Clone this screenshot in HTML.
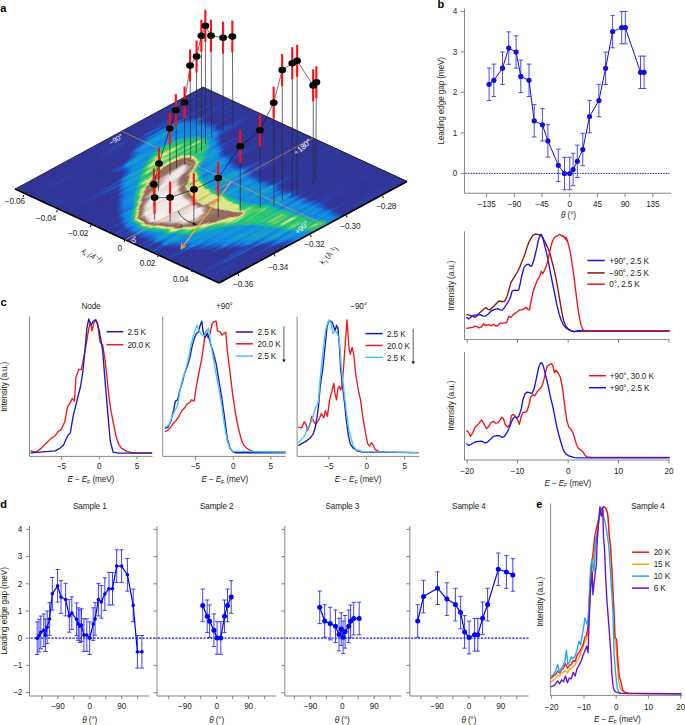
<!DOCTYPE html>
<html><head><meta charset="utf-8"><title>Figure</title><style>
html,body{margin:0;padding:0;background:#fff;}
svg{display:block;font-family:"Liberation Sans",sans-serif;} text{letter-spacing:-0.12px;}
</style></head><body>
<svg width="685" height="725" viewBox="0 0 685 725">
<text x="437.6" y="7.9" font-size="11" font-weight="bold" fill="#000">b</text>
<line x1="464.5" y1="8.5" x2="464.5" y2="193.2" stroke="#6a6a6a" stroke-width="0.8" />
<line x1="464.5" y1="193.2" x2="670.8" y2="193.2" stroke="#6a6a6a" stroke-width="0.8" />
<line x1="460.7" y1="173.4" x2="464.5" y2="173.4" stroke="#6a6a6a" stroke-width="0.8" />
<text x="457.1" y="176.2" text-anchor="end" font-size="8.2" fill="#231f20" >0</text>
<line x1="460.7" y1="132.9" x2="464.5" y2="132.9" stroke="#6a6a6a" stroke-width="0.8" />
<text x="457.1" y="135.7" text-anchor="end" font-size="8.2" fill="#231f20" >1</text>
<line x1="460.7" y1="92.4" x2="464.5" y2="92.4" stroke="#6a6a6a" stroke-width="0.8" />
<text x="457.1" y="95.2" text-anchor="end" font-size="8.2" fill="#231f20" >2</text>
<line x1="460.7" y1="51.9" x2="464.5" y2="51.9" stroke="#6a6a6a" stroke-width="0.8" />
<text x="457.1" y="54.7" text-anchor="end" font-size="8.2" fill="#231f20" >3</text>
<line x1="460.7" y1="11.4" x2="464.5" y2="11.4" stroke="#6a6a6a" stroke-width="0.8" />
<text x="457.1" y="14.2" text-anchor="end" font-size="8.2" fill="#231f20" >4</text>
<line x1="486.6" y1="193.2" x2="486.6" y2="197.0" stroke="#6a6a6a" stroke-width="0.8" />
<text x="486.6" y="207.0" text-anchor="middle" font-size="8.2" fill="#231f20" >−135</text>
<line x1="514.3" y1="193.2" x2="514.3" y2="197.0" stroke="#6a6a6a" stroke-width="0.8" />
<text x="514.3" y="207.0" text-anchor="middle" font-size="8.2" fill="#231f20" >−90</text>
<line x1="542.0" y1="193.2" x2="542.0" y2="197.0" stroke="#6a6a6a" stroke-width="0.8" />
<text x="542.0" y="207.0" text-anchor="middle" font-size="8.2" fill="#231f20" >−45</text>
<line x1="569.7" y1="193.2" x2="569.7" y2="197.0" stroke="#6a6a6a" stroke-width="0.8" />
<text x="569.7" y="207.0" text-anchor="middle" font-size="8.2" fill="#231f20" >0</text>
<line x1="597.4" y1="193.2" x2="597.4" y2="197.0" stroke="#6a6a6a" stroke-width="0.8" />
<text x="597.4" y="207.0" text-anchor="middle" font-size="8.2" fill="#231f20" >45</text>
<line x1="625.1" y1="193.2" x2="625.1" y2="197.0" stroke="#6a6a6a" stroke-width="0.8" />
<text x="625.1" y="207.0" text-anchor="middle" font-size="8.2" fill="#231f20" >90</text>
<line x1="652.8" y1="193.2" x2="652.8" y2="197.0" stroke="#6a6a6a" stroke-width="0.8" />
<text x="652.8" y="207.0" text-anchor="middle" font-size="8.2" fill="#231f20" >135</text>
<text x="568.5" y="218.3" text-anchor="middle" font-size="8.2" fill="#231f20"><tspan font-style="italic">θ</tspan> (°)</text>
<text x="444.5" y="100.8" text-anchor="middle" font-size="8.2" fill="#231f20" transform="rotate(-90 444.5 100.8)">Leading edge gap (meV)</text>
<line x1="465.5" y1="173.4" x2="669.5" y2="173.4" stroke="#1414ff" stroke-width="1.0" stroke-dasharray="1.5 1.1"/>
<line x1="489.1" y1="68.1" x2="489.1" y2="100.5" stroke="#3a3ae0" stroke-width="0.9" />
<line x1="486.8" y1="68.1" x2="491.4" y2="68.1" stroke="#3a3ae0" stroke-width="0.9" />
<line x1="486.8" y1="100.5" x2="491.4" y2="100.5" stroke="#3a3ae0" stroke-width="0.9" />
<line x1="493.8" y1="64.1" x2="493.8" y2="96.5" stroke="#3a3ae0" stroke-width="0.9" />
<line x1="491.5" y1="64.1" x2="496.1" y2="64.1" stroke="#3a3ae0" stroke-width="0.9" />
<line x1="491.5" y1="96.5" x2="496.1" y2="96.5" stroke="#3a3ae0" stroke-width="0.9" />
<line x1="502.5" y1="52.0" x2="502.5" y2="84.4" stroke="#3a3ae0" stroke-width="0.9" />
<line x1="500.2" y1="52.0" x2="504.8" y2="52.0" stroke="#3a3ae0" stroke-width="0.9" />
<line x1="500.2" y1="84.4" x2="504.8" y2="84.4" stroke="#3a3ae0" stroke-width="0.9" />
<line x1="508.7" y1="31.9" x2="508.7" y2="64.3" stroke="#3a3ae0" stroke-width="0.9" />
<line x1="506.4" y1="31.9" x2="511.0" y2="31.9" stroke="#3a3ae0" stroke-width="0.9" />
<line x1="506.4" y1="64.3" x2="511.0" y2="64.3" stroke="#3a3ae0" stroke-width="0.9" />
<line x1="516.1" y1="35.8" x2="516.1" y2="68.2" stroke="#3a3ae0" stroke-width="0.9" />
<line x1="513.8" y1="35.8" x2="518.4" y2="35.8" stroke="#3a3ae0" stroke-width="0.9" />
<line x1="513.8" y1="68.2" x2="518.4" y2="68.2" stroke="#3a3ae0" stroke-width="0.9" />
<line x1="520.8" y1="60.2" x2="520.8" y2="92.6" stroke="#3a3ae0" stroke-width="0.9" />
<line x1="518.5" y1="60.2" x2="523.1" y2="60.2" stroke="#3a3ae0" stroke-width="0.9" />
<line x1="518.5" y1="92.6" x2="523.1" y2="92.6" stroke="#3a3ae0" stroke-width="0.9" />
<line x1="529.0" y1="64.1" x2="529.0" y2="96.5" stroke="#3a3ae0" stroke-width="0.9" />
<line x1="526.7" y1="64.1" x2="531.3" y2="64.1" stroke="#3a3ae0" stroke-width="0.9" />
<line x1="526.7" y1="96.5" x2="531.3" y2="96.5" stroke="#3a3ae0" stroke-width="0.9" />
<line x1="534.2" y1="104.6" x2="534.2" y2="137.0" stroke="#3a3ae0" stroke-width="0.9" />
<line x1="531.9" y1="104.6" x2="536.5" y2="104.6" stroke="#3a3ae0" stroke-width="0.9" />
<line x1="531.9" y1="137.0" x2="536.5" y2="137.0" stroke="#3a3ae0" stroke-width="0.9" />
<line x1="542.4" y1="108.6" x2="542.4" y2="141.0" stroke="#3a3ae0" stroke-width="0.9" />
<line x1="540.1" y1="108.6" x2="544.7" y2="108.6" stroke="#3a3ae0" stroke-width="0.9" />
<line x1="540.1" y1="141.0" x2="544.7" y2="141.0" stroke="#3a3ae0" stroke-width="0.9" />
<line x1="547.9" y1="124.7" x2="547.9" y2="157.1" stroke="#3a3ae0" stroke-width="0.9" />
<line x1="545.6" y1="124.7" x2="550.2" y2="124.7" stroke="#3a3ae0" stroke-width="0.9" />
<line x1="545.6" y1="157.1" x2="550.2" y2="157.1" stroke="#3a3ae0" stroke-width="0.9" />
<line x1="558.3" y1="149.1" x2="558.3" y2="181.5" stroke="#3a3ae0" stroke-width="0.9" />
<line x1="556.0" y1="149.1" x2="560.6" y2="149.1" stroke="#3a3ae0" stroke-width="0.9" />
<line x1="556.0" y1="181.5" x2="560.6" y2="181.5" stroke="#3a3ae0" stroke-width="0.9" />
<line x1="564.5" y1="157.3" x2="564.5" y2="189.7" stroke="#3a3ae0" stroke-width="0.9" />
<line x1="562.2" y1="157.3" x2="566.8" y2="157.3" stroke="#3a3ae0" stroke-width="0.9" />
<line x1="562.2" y1="189.7" x2="566.8" y2="189.7" stroke="#3a3ae0" stroke-width="0.9" />
<line x1="569.7" y1="157.3" x2="569.7" y2="189.7" stroke="#3a3ae0" stroke-width="0.9" />
<line x1="567.4" y1="157.3" x2="572.0" y2="157.3" stroke="#3a3ae0" stroke-width="0.9" />
<line x1="567.4" y1="189.7" x2="572.0" y2="189.7" stroke="#3a3ae0" stroke-width="0.9" />
<line x1="573.1" y1="153.3" x2="573.1" y2="185.7" stroke="#3a3ae0" stroke-width="0.9" />
<line x1="570.8" y1="153.3" x2="575.4" y2="153.3" stroke="#3a3ae0" stroke-width="0.9" />
<line x1="570.8" y1="185.7" x2="575.4" y2="185.7" stroke="#3a3ae0" stroke-width="0.9" />
<line x1="577.3" y1="145.1" x2="577.3" y2="177.5" stroke="#3a3ae0" stroke-width="0.9" />
<line x1="575.0" y1="145.1" x2="579.6" y2="145.1" stroke="#3a3ae0" stroke-width="0.9" />
<line x1="575.0" y1="177.5" x2="579.6" y2="177.5" stroke="#3a3ae0" stroke-width="0.9" />
<line x1="582.8" y1="133.3" x2="582.8" y2="165.7" stroke="#3a3ae0" stroke-width="0.9" />
<line x1="580.5" y1="133.3" x2="585.1" y2="133.3" stroke="#3a3ae0" stroke-width="0.9" />
<line x1="580.5" y1="165.7" x2="585.1" y2="165.7" stroke="#3a3ae0" stroke-width="0.9" />
<line x1="589.5" y1="100.4" x2="589.5" y2="132.8" stroke="#3a3ae0" stroke-width="0.9" />
<line x1="587.2" y1="100.4" x2="591.8" y2="100.4" stroke="#3a3ae0" stroke-width="0.9" />
<line x1="587.2" y1="132.8" x2="591.8" y2="132.8" stroke="#3a3ae0" stroke-width="0.9" />
<line x1="598.9" y1="84.3" x2="598.9" y2="116.7" stroke="#3a3ae0" stroke-width="0.9" />
<line x1="596.6" y1="84.3" x2="601.2" y2="84.3" stroke="#3a3ae0" stroke-width="0.9" />
<line x1="596.6" y1="116.7" x2="601.2" y2="116.7" stroke="#3a3ae0" stroke-width="0.9" />
<line x1="605.6" y1="52.1" x2="605.6" y2="84.5" stroke="#3a3ae0" stroke-width="0.9" />
<line x1="603.3" y1="52.1" x2="607.9" y2="52.1" stroke="#3a3ae0" stroke-width="0.9" />
<line x1="603.3" y1="84.5" x2="607.9" y2="84.5" stroke="#3a3ae0" stroke-width="0.9" />
<line x1="612.6" y1="15.4" x2="612.6" y2="47.8" stroke="#3a3ae0" stroke-width="0.9" />
<line x1="610.3" y1="15.4" x2="614.9" y2="15.4" stroke="#3a3ae0" stroke-width="0.9" />
<line x1="610.3" y1="47.8" x2="614.9" y2="47.8" stroke="#3a3ae0" stroke-width="0.9" />
<line x1="621.7" y1="11.4" x2="621.7" y2="43.8" stroke="#3a3ae0" stroke-width="0.9" />
<line x1="619.4" y1="11.4" x2="624.0" y2="11.4" stroke="#3a3ae0" stroke-width="0.9" />
<line x1="619.4" y1="43.8" x2="624.0" y2="43.8" stroke="#3a3ae0" stroke-width="0.9" />
<line x1="625.3" y1="11.4" x2="625.3" y2="43.8" stroke="#3a3ae0" stroke-width="0.9" />
<line x1="623.0" y1="11.4" x2="627.6" y2="11.4" stroke="#3a3ae0" stroke-width="0.9" />
<line x1="623.0" y1="43.8" x2="627.6" y2="43.8" stroke="#3a3ae0" stroke-width="0.9" />
<line x1="640.5" y1="56.1" x2="640.5" y2="88.5" stroke="#3a3ae0" stroke-width="0.9" />
<line x1="638.2" y1="56.1" x2="642.8" y2="56.1" stroke="#3a3ae0" stroke-width="0.9" />
<line x1="638.2" y1="88.5" x2="642.8" y2="88.5" stroke="#3a3ae0" stroke-width="0.9" />
<line x1="644.1" y1="56.1" x2="644.1" y2="88.5" stroke="#3a3ae0" stroke-width="0.9" />
<line x1="641.8" y1="56.1" x2="646.4" y2="56.1" stroke="#3a3ae0" stroke-width="0.9" />
<line x1="641.8" y1="88.5" x2="646.4" y2="88.5" stroke="#3a3ae0" stroke-width="0.9" />
<polyline points="489.1,84.3 493.8,80.3 502.5,68.2 508.7,48.1 516.1,52.0 520.8,76.4 529.0,80.3 534.2,120.8 542.4,124.8 547.9,140.9 558.3,165.3 564.5,173.5 569.7,173.5 573.1,169.5 577.3,161.3 582.8,149.5 589.5,116.6 598.9,100.5 605.6,68.3 612.6,31.6 621.7,27.6 625.3,27.6 640.5,72.3 644.1,72.3" fill="none" stroke="#1010d8" stroke-width="1.0" stroke-linejoin="round" stroke-linecap="round" />
<circle cx="489.1" cy="84.3" r="2.6" fill="#1010d8"/>
<circle cx="493.8" cy="80.3" r="2.6" fill="#1010d8"/>
<circle cx="502.5" cy="68.2" r="2.6" fill="#1010d8"/>
<circle cx="508.7" cy="48.1" r="2.6" fill="#1010d8"/>
<circle cx="516.1" cy="52.0" r="2.6" fill="#1010d8"/>
<circle cx="520.8" cy="76.4" r="2.6" fill="#1010d8"/>
<circle cx="529.0" cy="80.3" r="2.6" fill="#1010d8"/>
<circle cx="534.2" cy="120.8" r="2.6" fill="#1010d8"/>
<circle cx="542.4" cy="124.8" r="2.6" fill="#1010d8"/>
<circle cx="547.9" cy="140.9" r="2.6" fill="#1010d8"/>
<circle cx="558.3" cy="165.3" r="2.6" fill="#1010d8"/>
<circle cx="564.5" cy="173.5" r="2.6" fill="#1010d8"/>
<circle cx="569.7" cy="173.5" r="2.6" fill="#1010d8"/>
<circle cx="573.1" cy="169.5" r="2.6" fill="#1010d8"/>
<circle cx="577.3" cy="161.3" r="2.6" fill="#1010d8"/>
<circle cx="582.8" cy="149.5" r="2.6" fill="#1010d8"/>
<circle cx="589.5" cy="116.6" r="2.6" fill="#1010d8"/>
<circle cx="598.9" cy="100.5" r="2.6" fill="#1010d8"/>
<circle cx="605.6" cy="68.3" r="2.6" fill="#1010d8"/>
<circle cx="612.6" cy="31.6" r="2.6" fill="#1010d8"/>
<circle cx="621.7" cy="27.6" r="2.6" fill="#1010d8"/>
<circle cx="625.3" cy="27.6" r="2.6" fill="#1010d8"/>
<circle cx="640.5" cy="72.3" r="2.6" fill="#1010d8"/>
<circle cx="644.1" cy="72.3" r="2.6" fill="#1010d8"/>
<line x1="464.5" y1="231.3" x2="464.5" y2="339.4" stroke="#6a6a6a" stroke-width="0.8" />
<line x1="464.5" y1="339.4" x2="669.5" y2="339.4" stroke="#6a6a6a" stroke-width="0.8" />
<line x1="467.2" y1="339.4" x2="467.2" y2="342.7" stroke="#6a6a6a" stroke-width="0.8" />
<line x1="517.5" y1="339.4" x2="517.5" y2="342.7" stroke="#6a6a6a" stroke-width="0.8" />
<line x1="568.2" y1="339.4" x2="568.2" y2="342.7" stroke="#6a6a6a" stroke-width="0.8" />
<line x1="618.5" y1="339.4" x2="618.5" y2="342.7" stroke="#6a6a6a" stroke-width="0.8" />
<line x1="668.9" y1="339.4" x2="668.9" y2="342.7" stroke="#6a6a6a" stroke-width="0.8" />
<text x="454.0" y="285.5" text-anchor="middle" font-size="8.2" fill="#231f20" transform="rotate(-90 454.0 285.5)">Intensity (a.u.)</text>
<line x1="464.5" y1="352.0" x2="464.5" y2="460.0" stroke="#6a6a6a" stroke-width="0.8" />
<line x1="464.5" y1="460.0" x2="669.5" y2="460.0" stroke="#6a6a6a" stroke-width="0.8" />
<line x1="467.2" y1="460.0" x2="467.2" y2="463.3" stroke="#6a6a6a" stroke-width="0.8" />
<text x="467.2" y="473.5" text-anchor="middle" font-size="8.2" fill="#231f20" >−20</text>
<line x1="517.5" y1="460.0" x2="517.5" y2="463.3" stroke="#6a6a6a" stroke-width="0.8" />
<text x="517.5" y="473.5" text-anchor="middle" font-size="8.2" fill="#231f20" >−10</text>
<line x1="568.2" y1="460.0" x2="568.2" y2="463.3" stroke="#6a6a6a" stroke-width="0.8" />
<text x="568.2" y="473.5" text-anchor="middle" font-size="8.2" fill="#231f20" >0</text>
<line x1="618.5" y1="460.0" x2="618.5" y2="463.3" stroke="#6a6a6a" stroke-width="0.8" />
<text x="618.5" y="473.5" text-anchor="middle" font-size="8.2" fill="#231f20" >10</text>
<line x1="668.9" y1="460.0" x2="668.9" y2="463.3" stroke="#6a6a6a" stroke-width="0.8" />
<text x="668.9" y="473.5" text-anchor="middle" font-size="8.2" fill="#231f20" >20</text>
<text x="454.0" y="405.7" text-anchor="middle" font-size="8.2" fill="#231f20" transform="rotate(-90 454.0 405.7)">Intensity (a.u.)</text>
<text x="567.8" y="485.5" text-anchor="middle" font-size="8.2" fill="#231f20"><tspan font-style="italic">E</tspan> − <tspan font-style="italic">E</tspan><tspan font-size="5.5" dy="1.8">F</tspan><tspan dy="-1.8"> (meV)</tspan></text>
<polyline points="466.8,314.6 469.4,315.2 472.7,316.3 474.9,317.4 477.1,315.9 479.3,313.1 482.6,310.2 485.8,307.6 488.0,309.3 490.2,309.8 492.4,307.6 495.7,304.3 499.0,301.0 501.2,301.5 504.4,301.5 506.6,297.7 508.8,290.1 511.0,282.4 514.3,276.9 517.6,271.5 519.8,267.1 522.0,261.6 524.2,256.1 526.3,249.6 528.5,243.0 530.7,238.6 532.9,235.3 535.1,234.2 537.3,234.2 539.5,234.9 541.7,236.4 543.9,239.7 546.0,244.1 548.2,248.5 550.4,255.0 552.6,263.8 554.8,272.6 557.0,283.5 559.2,296.6 561.4,309.8 563.6,320.7 565.8,326.2 569.0,329.5 572.3,331.2 574.5,331.7 577.4,331.0 669.0,331.0" fill="none" stroke="#8b1414" stroke-width="1.35" stroke-linejoin="round" stroke-linecap="round" />
<polyline points="466.8,317.4 468.3,319.0 470.5,317.4 473.8,315.2 477.1,314.8 480.4,314.6 482.6,315.9 485.2,316.3 488.0,314.2 491.3,310.9 494.6,309.3 497.9,308.7 500.1,309.8 502.3,310.2 504.4,307.6 506.6,304.3 508.8,301.0 510.6,296.6 512.1,291.2 514.3,290.1 516.5,290.5 518.7,290.1 520.2,283.5 522.0,274.7 524.2,267.1 526.3,264.9 528.5,264.2 530.3,266.0 531.8,266.0 533.4,261.6 535.1,255.0 536.9,247.4 538.4,239.7 539.9,235.3 541.2,234.2 542.8,237.5 544.3,244.1 546.0,250.7 548.2,260.5 550.4,272.6 552.6,283.5 554.8,294.4 557.0,305.4 559.2,314.2 561.4,320.7 563.6,325.1 565.8,327.7 570.1,330.6 574.5,331.7 577.4,331.0 669.0,331.0" fill="none" stroke="#1414f0" stroke-width="1.35" stroke-linejoin="round" stroke-linecap="round" />
<polyline points="466.8,328.4 469.4,327.9 472.7,327.3 474.9,326.2 477.1,326.6 479.3,327.9 481.5,326.9 483.6,323.6 485.2,325.5 486.9,325.1 489.1,324.7 491.3,325.8 493.5,324.4 495.7,326.0 497.9,325.5 500.1,322.9 502.3,323.4 504.4,322.9 506.6,322.5 507.7,319.6 508.8,316.3 511.0,317.4 513.2,314.6 515.4,313.1 517.6,311.5 519.8,309.8 522.0,309.8 524.2,308.7 526.3,307.1 528.1,309.8 529.6,309.8 530.7,303.2 532.9,292.3 535.1,285.7 537.3,280.2 539.5,276.9 541.2,271.5 542.8,273.6 545.0,269.3 547.1,263.8 549.3,253.9 551.5,244.1 553.7,238.6 555.9,236.4 558.1,235.3 559.6,234.2 561.4,235.8 563.1,236.4 564.7,237.1 566.2,237.5 567.9,241.9 562.7,235.5 564.6,237.3 566.4,238.2 568.2,243.7 570.0,251.0 571.9,262.0 573.7,274.7 575.5,289.3 577.3,303.9 579.2,316.7 581.0,324.9 582.8,329.5 584.1,330.9 669.1,330.9" fill="none" stroke="#f01418" stroke-width="1.35" stroke-linejoin="round" stroke-linecap="round" />
<line x1="587.4" y1="260.5" x2="604.7" y2="260.5" stroke="#1414f0" stroke-width="1.5" />
<text x="609.3" y="263.7" text-anchor="start" font-size="8.2" fill="#231f20" >+90°, 2.5 K</text>
<line x1="587.4" y1="272.9" x2="604.7" y2="272.9" stroke="#8b1414" stroke-width="1.5" />
<text x="609.3" y="276.1" text-anchor="start" font-size="8.2" fill="#231f20" >−90°, 2.5 K</text>
<line x1="587.4" y1="284.2" x2="604.7" y2="284.2" stroke="#f01418" stroke-width="1.5" />
<text x="609.3" y="287.4" text-anchor="start" font-size="8.2" fill="#231f20" >0°, 2.5 K</text>
<polyline points="466.8,430.9 468.3,432.0 470.5,436.3 472.7,433.1 474.9,427.6 478.2,424.3 481.5,419.9 483.6,423.2 486.5,428.7 488.7,426.5 491.3,422.1 493.5,421.5 495.7,423.2 497.9,422.8 500.1,419.9 501.8,417.1 503.4,418.8 505.5,425.4 507.7,427.1 509.9,424.3 511.5,415.5 513.2,414.4 515.4,416.2 517.6,419.9 519.3,424.3 521.5,415.5 523.1,412.3 525.2,412.3 527.0,411.2 529.0,404.6 530.7,396.9 532.9,394.7 535.1,395.8 537.3,391.5 539.5,389.3 541.7,386.4 543.4,381.6 545.0,375.0 547.1,366.3 549.3,364.5 551.5,363.6 553.1,366.3 554.4,372.8 555.9,370.2 558.1,372.8 560.3,377.2 562.5,388.2 564.7,405.7 566.9,421.0 569.0,427.6 570.6,428.9 572.6,431.8 574.5,437.6 576.4,444.3 578.4,448.2 581.3,450.5 583.2,452.1 585.1,455.5 587.0,456.9 590.9,457.1 598.6,457.3 669.2,457.3" fill="none" stroke="#f01418" stroke-width="1.35" stroke-linejoin="round" stroke-linecap="round" />
<polyline points="466.8,444.0 469.0,445.5 471.6,444.0 474.9,442.0 478.2,441.4 481.5,441.2 484.7,442.9 486.9,442.5 490.2,439.6 493.5,436.3 496.8,435.7 499.6,435.7 502.3,437.4 504.4,436.3 506.6,433.1 508.8,428.7 511.0,423.2 512.8,418.8 514.3,417.1 516.5,417.7 518.7,416.6 520.9,410.1 523.1,399.1 525.2,393.6 527.4,392.1 529.6,392.6 531.8,393.6 534.0,389.3 536.2,379.4 538.4,368.5 540.1,363.6 541.7,362.6 543.4,366.3 545.6,375.0 548.2,386.0 550.4,396.9 552.6,405.7 554.8,416.6 557.0,427.6 559.2,436.3 561.4,444.0 563.6,450.6 565.8,453.9 569.0,456.0 574.5,457.6 577.4,457.9 669.2,457.9" fill="none" stroke="#1414f0" stroke-width="1.35" stroke-linejoin="round" stroke-linecap="round" />
<line x1="589.0" y1="375.7" x2="606.0" y2="375.7" stroke="#f01418" stroke-width="1.5" />
<text x="609.8" y="378.9" text-anchor="start" font-size="8.2" fill="#231f20" >+90°, 30.0 K</text>
<line x1="589.0" y1="387.7" x2="606.0" y2="387.7" stroke="#1414f0" stroke-width="1.5" />
<text x="609.8" y="390.9" text-anchor="start" font-size="8.2" fill="#231f20" >+90°, 2.5 K</text>
<text x="0.4" y="305.5" font-size="11" font-weight="bold" fill="#000">c</text>
<text x="7.5" y="386.8" text-anchor="middle" font-size="8.2" fill="#231f20" transform="rotate(-90 7.5 386.8)">Intensity (a.u.)</text>
<line x1="29.5" y1="316.5" x2="29.5" y2="456.4" stroke="#6a6a6a" stroke-width="0.8" />
<line x1="29.5" y1="456.4" x2="152.5" y2="456.4" stroke="#6a6a6a" stroke-width="0.8" />
<line x1="61.5" y1="456.4" x2="61.5" y2="459.7" stroke="#6a6a6a" stroke-width="0.8" />
<text x="61.5" y="469.3" text-anchor="middle" font-size="8.2" fill="#231f20" >−5</text>
<line x1="99.3" y1="456.4" x2="99.3" y2="459.7" stroke="#6a6a6a" stroke-width="0.8" />
<text x="99.3" y="469.3" text-anchor="middle" font-size="8.2" fill="#231f20" >0</text>
<line x1="137.0" y1="456.4" x2="137.0" y2="459.7" stroke="#6a6a6a" stroke-width="0.8" />
<text x="137.0" y="469.3" text-anchor="middle" font-size="8.2" fill="#231f20" >5</text>
<text x="90.8" y="481.8" text-anchor="middle" font-size="8.2" fill="#231f20"><tspan font-style="italic">E</tspan> − <tspan font-style="italic">E</tspan><tspan font-size="5.5" dy="1.8">F</tspan><tspan dy="-1.8"> (meV)</tspan></text>
<text x="91.0" y="308.5" text-anchor="middle" font-size="8.2" fill="#231f20" >Node</text>
<line x1="162.7" y1="316.5" x2="162.7" y2="456.4" stroke="#6a6a6a" stroke-width="0.8" />
<line x1="162.7" y1="456.4" x2="285.6" y2="456.4" stroke="#6a6a6a" stroke-width="0.8" />
<line x1="195.5" y1="456.4" x2="195.5" y2="459.7" stroke="#6a6a6a" stroke-width="0.8" />
<text x="195.5" y="469.3" text-anchor="middle" font-size="8.2" fill="#231f20" >−5</text>
<line x1="233.3" y1="456.4" x2="233.3" y2="459.7" stroke="#6a6a6a" stroke-width="0.8" />
<text x="233.3" y="469.3" text-anchor="middle" font-size="8.2" fill="#231f20" >0</text>
<line x1="270.8" y1="456.4" x2="270.8" y2="459.7" stroke="#6a6a6a" stroke-width="0.8" />
<text x="270.8" y="469.3" text-anchor="middle" font-size="8.2" fill="#231f20" >5</text>
<text x="224.8" y="481.8" text-anchor="middle" font-size="8.2" fill="#231f20"><tspan font-style="italic">E</tspan> − <tspan font-style="italic">E</tspan><tspan font-size="5.5" dy="1.8">F</tspan><tspan dy="-1.8"> (meV)</tspan></text>
<text x="224.4" y="308.5" text-anchor="middle" font-size="8.2" fill="#231f20" >+90°</text>
<line x1="297.1" y1="316.5" x2="297.1" y2="456.4" stroke="#6a6a6a" stroke-width="0.8" />
<line x1="297.1" y1="456.4" x2="419.2" y2="456.4" stroke="#6a6a6a" stroke-width="0.8" />
<line x1="328.8" y1="456.4" x2="328.8" y2="459.7" stroke="#6a6a6a" stroke-width="0.8" />
<text x="328.8" y="469.3" text-anchor="middle" font-size="8.2" fill="#231f20" >−5</text>
<line x1="366.6" y1="456.4" x2="366.6" y2="459.7" stroke="#6a6a6a" stroke-width="0.8" />
<text x="366.6" y="469.3" text-anchor="middle" font-size="8.2" fill="#231f20" >0</text>
<line x1="404.6" y1="456.4" x2="404.6" y2="459.7" stroke="#6a6a6a" stroke-width="0.8" />
<text x="404.6" y="469.3" text-anchor="middle" font-size="8.2" fill="#231f20" >5</text>
<text x="358.1" y="481.8" text-anchor="middle" font-size="8.2" fill="#231f20"><tspan font-style="italic">E</tspan> − <tspan font-style="italic">E</tspan><tspan font-size="5.5" dy="1.8">F</tspan><tspan dy="-1.8"> (meV)</tspan></text>
<text x="358.6" y="308.5" text-anchor="middle" font-size="8.2" fill="#231f20" >−90°</text>
<polyline points="30.9,450.9 35.9,452.2 41.4,448.1 46.9,442.6 51.0,438.4 55.2,435.7 57.9,431.6 60.7,430.2 64.8,421.9 67.6,406.7 70.3,402.6 72.3,398.4 74.5,401.2 75.9,377.8 78.6,369.5 81.4,369.5 84.1,355.7 86.9,340.5 88.8,328.1 90.5,322.6 92.1,330.9 93.8,322.6 96.0,319.8 97.9,325.3 99.9,341.9 102.6,344.7 104.8,358.4 107.0,377.8 109.0,397.1 111.2,412.2 113.1,421.9 115.9,435.7 118.6,444.0 121.4,448.1 126.9,451.4 132.4,452.8 151.7,452.8" fill="none" stroke="#f01a1a" stroke-width="1.35" stroke-linejoin="round" stroke-linecap="round" />
<polyline points="30.9,452.8 55.2,450.9 59.3,448.7 63.4,445.3 67.6,435.7 70.3,432.9 73.1,416.4 77.2,399.8 80.6,386.0 82.8,372.2 85.0,350.2 86.9,328.1 88.8,319.0 91.0,325.3 93.2,321.2 95.2,319.8 97.1,322.6 99.3,330.9 102.6,350.2 104.8,377.8 107.6,410.9 110.3,441.2 113.1,452.2 118.6,453.1 151.7,453.1" fill="none" stroke="#1a1ab8" stroke-width="1.35" stroke-linejoin="round" stroke-linecap="round" />
<line x1="106.5" y1="331.7" x2="123.3" y2="331.7" stroke="#1a1ab8" stroke-width="1.5" />
<text x="127.4" y="334.9" text-anchor="start" font-size="8.2" fill="#231f20" >2.5 K</text>
<line x1="106.5" y1="344.7" x2="123.3" y2="344.7" stroke="#f01a1a" stroke-width="1.5" />
<text x="127.4" y="347.9" text-anchor="start" font-size="8.2" fill="#231f20" >20.0 K</text>
<polyline points="165.2,431.5 167.9,430.1 170.7,427.3 173.4,423.2 176.2,420.4 178.9,416.3 181.7,410.8 184.5,408.0 187.2,403.9 190.0,402.5 191.4,399.8 194.1,401.1 195.5,391.5 197.4,380.5 199.6,369.4 201.8,358.4 203.8,344.6 205.1,333.6 206.5,330.8 207.9,337.7 210.1,333.6 212.0,323.9 213.4,322.0 216.2,321.2 217.5,330.8 220.3,332.2 222.2,335.0 223.9,333.6 225.8,332.2 227.2,350.1 230.0,372.2 232.7,394.3 235.5,413.6 238.2,427.3 241.0,438.4 243.7,445.3 246.5,448.0 249.3,449.9 253.4,451.6 260.3,452.2 285.1,452.2" fill="none" stroke="#f01a1a" stroke-width="1.35" stroke-linejoin="round" stroke-linecap="round" />
<polyline points="165.2,428.2 167.9,427.3 170.7,421.8 173.4,410.8 175.4,401.1 177.6,399.8 179.8,390.1 182.5,381.8 184.5,373.6 187.2,366.7 190.0,357.0 191.9,347.4 194.1,339.1 196.3,333.6 198.2,332.2 200.2,325.3 201.8,321.2 202.9,330.8 205.1,337.7 207.3,333.6 209.3,339.1 211.2,346.0 213.4,352.9 216.2,363.9 218.9,380.5 221.7,397.0 224.4,416.3 227.2,438.4 230.0,448.0 232.7,451.6 235.5,452.7 285.1,452.7" fill="none" stroke="#1a1ab8" stroke-width="1.35" stroke-linejoin="round" stroke-linecap="round" />
<polyline points="165.2,427.3 169.3,424.6 172.1,416.3 174.8,410.8 177.6,405.3 180.3,388.7 183.1,377.7 185.8,369.4 188.6,358.4 191.4,343.2 194.1,333.6 196.9,325.3 199.1,330.8 201.0,333.6 203.8,336.4 206.5,332.2 208.5,328.1 210.7,343.2 213.4,358.4 216.2,375.0 218.9,388.7 221.7,405.3 224.4,424.6 227.2,441.1 230.0,448.8 232.7,451.1 285.1,452.2" fill="none" stroke="#44c4f4" stroke-width="1.35" stroke-linejoin="round" stroke-linecap="round" />
<line x1="235.7" y1="332.0" x2="252.9" y2="332.0" stroke="#1a1ab8" stroke-width="1.5" />
<text x="257.6" y="335.2" text-anchor="start" font-size="8.2" fill="#231f20" >2.5 K</text>
<line x1="235.7" y1="343.8" x2="252.9" y2="343.8" stroke="#f01a1a" stroke-width="1.5" />
<text x="257.6" y="347.0" text-anchor="start" font-size="8.2" fill="#231f20" >20.0 K</text>
<line x1="235.7" y1="356.1" x2="252.9" y2="356.1" stroke="#44c4f4" stroke-width="1.5" />
<text x="257.6" y="359.3" text-anchor="start" font-size="8.2" fill="#231f20" >2.5 K</text>
<line x1="283.9" y1="326.3" x2="283.9" y2="360.1" stroke="#333" stroke-width="0.8" />
<path d="M282.1,359.4 L285.7,359.4 L283.9,362.6 Z" fill="#222"/>
<polyline points="298.7,427.3 301.5,427.9 304.3,421.8 306.2,424.6 307.6,430.6 309.8,424.6 311.7,416.3 313.6,421.8 315.8,424.0 318.6,420.4 321.4,413.6 323.6,417.7 325.5,410.8 327.4,416.3 329.6,399.8 331.8,391.5 333.8,383.2 335.1,394.3 336.5,399.8 337.9,388.7 339.3,386.0 340.7,390.1 342.0,386.0 343.4,369.4 344.8,350.1 346.2,330.8 347.0,319.8 347.8,330.8 348.9,347.4 350.3,354.3 352.2,347.4 353.9,355.7 355.8,375.0 358.6,391.5 360.5,399.8 362.7,416.3 365.5,432.9 367.7,443.9 369.6,446.1 371.5,442.5 373.2,445.3 375.1,449.4 379.3,451.6 384.8,452.2 417.9,452.7" fill="none" stroke="#f01a1a" stroke-width="1.35" stroke-linejoin="round" stroke-linecap="round" />
<polyline points="298.7,445.3 302.1,443.3 306.2,441.1 310.3,437.8 313.1,434.2 315.3,427.3 317.2,416.3 318.6,405.3 320.0,388.7 321.4,377.7 322.7,369.4 324.1,355.7 325.5,341.9 326.9,328.1 328.2,322.6 329.6,321.2 331.0,321.2 332.4,322.6 333.8,326.7 335.1,330.8 336.5,325.3 337.9,328.1 339.3,344.6 340.7,369.4 342.9,388.7 344.8,405.3 346.2,419.1 348.4,435.6 350.3,443.9 353.1,448.0 357.2,450.8 362.7,452.2 417.9,452.7" fill="none" stroke="#1a1ab8" stroke-width="1.35" stroke-linejoin="round" stroke-linecap="round" />
<polyline points="298.7,442.5 302.1,438.4 304.8,435.6 307.6,427.3 310.3,424.6 313.1,416.3 315.3,408.0 317.2,405.3 318.6,399.8 320.0,380.5 321.4,366.7 322.7,354.3 324.1,341.9 325.5,330.8 326.9,325.3 329.1,319.8 331.0,322.6 332.9,333.6 335.1,330.8 337.3,333.6 339.3,339.1 341.2,366.7 343.4,386.0 346.2,410.8 348.9,430.1 351.1,438.4 353.1,445.3 355.8,449.4 362.7,451.6 417.9,452.7" fill="none" stroke="#44c4f4" stroke-width="1.35" stroke-linejoin="round" stroke-linecap="round" />
<line x1="365.5" y1="333.6" x2="382.6" y2="333.6" stroke="#1a1ab8" stroke-width="1.5" />
<text x="387.0" y="336.8" text-anchor="start" font-size="8.2" fill="#231f20" >2.5 K</text>
<line x1="365.5" y1="345.5" x2="382.6" y2="345.5" stroke="#f01a1a" stroke-width="1.5" />
<text x="387.0" y="348.7" text-anchor="start" font-size="8.2" fill="#231f20" >20.0 K</text>
<line x1="365.5" y1="357.3" x2="382.6" y2="357.3" stroke="#44c4f4" stroke-width="1.5" />
<text x="387.0" y="360.5" text-anchor="start" font-size="8.2" fill="#231f20" >2.5 K</text>
<line x1="413.2" y1="328.6" x2="413.2" y2="362.0" stroke="#333" stroke-width="0.8" />
<path d="M411.4,361.3 L415.0,361.3 L413.2,364.5 Z" fill="#222"/>
<text x="0.3" y="507.9" font-size="11" font-weight="bold" fill="#000">d</text>
<text x="6.5" y="611.0" text-anchor="middle" font-size="8.2" fill="#231f20" transform="rotate(-90 6.5 611.0)">Leading edge gap (meV)</text>
<line x1="29.5" y1="526.1" x2="29.5" y2="696.0" stroke="#6a6a6a" stroke-width="0.8" />
<line x1="29.5" y1="696.0" x2="149.2" y2="696.0" stroke="#6a6a6a" stroke-width="0.8" />
<line x1="25.9" y1="692.6" x2="29.5" y2="692.6" stroke="#6a6a6a" stroke-width="0.8" />
<text x="22.3" y="695.4" text-anchor="end" font-size="8.2" fill="#231f20" >−2</text>
<line x1="25.9" y1="665.4" x2="29.5" y2="665.4" stroke="#6a6a6a" stroke-width="0.8" />
<text x="22.3" y="668.2" text-anchor="end" font-size="8.2" fill="#231f20" >−1</text>
<line x1="25.9" y1="638.2" x2="29.5" y2="638.2" stroke="#6a6a6a" stroke-width="0.8" />
<text x="22.3" y="641.0" text-anchor="end" font-size="8.2" fill="#231f20" >0</text>
<line x1="25.9" y1="611.0" x2="29.5" y2="611.0" stroke="#6a6a6a" stroke-width="0.8" />
<text x="22.3" y="613.8" text-anchor="end" font-size="8.2" fill="#231f20" >1</text>
<line x1="25.9" y1="583.8" x2="29.5" y2="583.8" stroke="#6a6a6a" stroke-width="0.8" />
<text x="22.3" y="586.6" text-anchor="end" font-size="8.2" fill="#231f20" >2</text>
<line x1="25.9" y1="556.6" x2="29.5" y2="556.6" stroke="#6a6a6a" stroke-width="0.8" />
<text x="22.3" y="559.4" text-anchor="end" font-size="8.2" fill="#231f20" >3</text>
<line x1="25.9" y1="529.4" x2="29.5" y2="529.4" stroke="#6a6a6a" stroke-width="0.8" />
<text x="22.3" y="532.2" text-anchor="end" font-size="8.2" fill="#231f20" >4</text>
<line x1="41.9" y1="696.0" x2="41.9" y2="699.0" stroke="#6a6a6a" stroke-width="0.8" />
<line x1="57.9" y1="696.0" x2="57.9" y2="699.0" stroke="#6a6a6a" stroke-width="0.8" />
<text x="57.9" y="709.3" text-anchor="middle" font-size="8.2" fill="#231f20" >−90</text>
<line x1="73.8" y1="696.0" x2="73.8" y2="699.0" stroke="#6a6a6a" stroke-width="0.8" />
<line x1="89.8" y1="696.0" x2="89.8" y2="699.0" stroke="#6a6a6a" stroke-width="0.8" />
<text x="89.8" y="709.3" text-anchor="middle" font-size="8.2" fill="#231f20" >0</text>
<line x1="105.8" y1="696.0" x2="105.8" y2="699.0" stroke="#6a6a6a" stroke-width="0.8" />
<line x1="121.7" y1="696.0" x2="121.7" y2="699.0" stroke="#6a6a6a" stroke-width="0.8" />
<text x="121.7" y="709.3" text-anchor="middle" font-size="8.2" fill="#231f20" >90</text>
<line x1="137.7" y1="696.0" x2="137.7" y2="699.0" stroke="#6a6a6a" stroke-width="0.8" />
<text x="89.8" y="722.5" text-anchor="middle" font-size="8.2" fill="#231f20"><tspan font-style="italic">θ</tspan> (°)</text>
<text x="89.8" y="509.3" text-anchor="middle" font-size="8.2" fill="#231f20" >Sample 1</text>
<line x1="30.5" y1="638.2" x2="157.2" y2="638.2" stroke="#1010ff" stroke-width="1.3" stroke-dasharray="2.2 1.3"/>
<line x1="37.2" y1="621.9" x2="37.2" y2="654.5" stroke="#2a2aff" stroke-width="0.9" />
<line x1="35.1" y1="621.9" x2="39.3" y2="621.9" stroke="#2a2aff" stroke-width="0.9" />
<line x1="35.1" y1="654.5" x2="39.3" y2="654.5" stroke="#2a2aff" stroke-width="0.9" />
<line x1="39.0" y1="619.3" x2="39.0" y2="651.9" stroke="#2a2aff" stroke-width="0.9" />
<line x1="36.9" y1="619.3" x2="41.1" y2="619.3" stroke="#2a2aff" stroke-width="0.9" />
<line x1="36.9" y1="651.9" x2="41.1" y2="651.9" stroke="#2a2aff" stroke-width="0.9" />
<line x1="40.8" y1="616.1" x2="40.8" y2="648.7" stroke="#2a2aff" stroke-width="0.9" />
<line x1="38.7" y1="616.1" x2="42.9" y2="616.1" stroke="#2a2aff" stroke-width="0.9" />
<line x1="38.7" y1="648.7" x2="42.9" y2="648.7" stroke="#2a2aff" stroke-width="0.9" />
<line x1="43.8" y1="614.0" x2="43.8" y2="646.6" stroke="#2a2aff" stroke-width="0.9" />
<line x1="41.7" y1="614.0" x2="45.9" y2="614.0" stroke="#2a2aff" stroke-width="0.9" />
<line x1="41.7" y1="646.6" x2="45.9" y2="646.6" stroke="#2a2aff" stroke-width="0.9" />
<line x1="45.4" y1="618.9" x2="45.4" y2="651.5" stroke="#2a2aff" stroke-width="0.9" />
<line x1="43.3" y1="618.9" x2="47.5" y2="618.9" stroke="#2a2aff" stroke-width="0.9" />
<line x1="43.3" y1="651.5" x2="47.5" y2="651.5" stroke="#2a2aff" stroke-width="0.9" />
<line x1="47.2" y1="611.0" x2="47.2" y2="643.6" stroke="#2a2aff" stroke-width="0.9" />
<line x1="45.1" y1="611.0" x2="49.3" y2="611.0" stroke="#2a2aff" stroke-width="0.9" />
<line x1="45.1" y1="643.6" x2="49.3" y2="643.6" stroke="#2a2aff" stroke-width="0.9" />
<line x1="49.6" y1="602.7" x2="49.6" y2="635.3" stroke="#2a2aff" stroke-width="0.9" />
<line x1="47.5" y1="602.7" x2="51.7" y2="602.7" stroke="#2a2aff" stroke-width="0.9" />
<line x1="47.5" y1="635.3" x2="51.7" y2="635.3" stroke="#2a2aff" stroke-width="0.9" />
<line x1="52.3" y1="577.5" x2="52.3" y2="610.1" stroke="#2a2aff" stroke-width="0.9" />
<line x1="50.2" y1="577.5" x2="54.4" y2="577.5" stroke="#2a2aff" stroke-width="0.9" />
<line x1="50.2" y1="610.1" x2="54.4" y2="610.1" stroke="#2a2aff" stroke-width="0.9" />
<line x1="57.6" y1="569.5" x2="57.6" y2="602.1" stroke="#2a2aff" stroke-width="0.9" />
<line x1="55.5" y1="569.5" x2="59.7" y2="569.5" stroke="#2a2aff" stroke-width="0.9" />
<line x1="55.5" y1="602.1" x2="59.7" y2="602.1" stroke="#2a2aff" stroke-width="0.9" />
<line x1="61.0" y1="580.7" x2="61.0" y2="613.3" stroke="#2a2aff" stroke-width="0.9" />
<line x1="58.9" y1="580.7" x2="63.1" y2="580.7" stroke="#2a2aff" stroke-width="0.9" />
<line x1="58.9" y1="613.3" x2="63.1" y2="613.3" stroke="#2a2aff" stroke-width="0.9" />
<line x1="65.6" y1="583.3" x2="65.6" y2="615.9" stroke="#2a2aff" stroke-width="0.9" />
<line x1="63.5" y1="583.3" x2="67.7" y2="583.3" stroke="#2a2aff" stroke-width="0.9" />
<line x1="63.5" y1="615.9" x2="67.7" y2="615.9" stroke="#2a2aff" stroke-width="0.9" />
<line x1="69.3" y1="599.6" x2="69.3" y2="632.2" stroke="#2a2aff" stroke-width="0.9" />
<line x1="67.2" y1="599.6" x2="71.4" y2="599.6" stroke="#2a2aff" stroke-width="0.9" />
<line x1="67.2" y1="632.2" x2="71.4" y2="632.2" stroke="#2a2aff" stroke-width="0.9" />
<line x1="71.8" y1="596.8" x2="71.8" y2="629.4" stroke="#2a2aff" stroke-width="0.9" />
<line x1="69.7" y1="596.8" x2="73.9" y2="596.8" stroke="#2a2aff" stroke-width="0.9" />
<line x1="69.7" y1="629.4" x2="73.9" y2="629.4" stroke="#2a2aff" stroke-width="0.9" />
<line x1="76.6" y1="603.0" x2="76.6" y2="635.6" stroke="#2a2aff" stroke-width="0.9" />
<line x1="74.5" y1="603.0" x2="78.7" y2="603.0" stroke="#2a2aff" stroke-width="0.9" />
<line x1="74.5" y1="635.6" x2="78.7" y2="635.6" stroke="#2a2aff" stroke-width="0.9" />
<line x1="78.3" y1="607.8" x2="78.3" y2="640.4" stroke="#2a2aff" stroke-width="0.9" />
<line x1="76.2" y1="607.8" x2="80.4" y2="607.8" stroke="#2a2aff" stroke-width="0.9" />
<line x1="76.2" y1="640.4" x2="80.4" y2="640.4" stroke="#2a2aff" stroke-width="0.9" />
<line x1="79.9" y1="609.9" x2="79.9" y2="642.5" stroke="#2a2aff" stroke-width="0.9" />
<line x1="77.8" y1="609.9" x2="82.0" y2="609.9" stroke="#2a2aff" stroke-width="0.9" />
<line x1="77.8" y1="642.5" x2="82.0" y2="642.5" stroke="#2a2aff" stroke-width="0.9" />
<line x1="81.5" y1="608.8" x2="81.5" y2="641.4" stroke="#2a2aff" stroke-width="0.9" />
<line x1="79.4" y1="608.8" x2="83.6" y2="608.8" stroke="#2a2aff" stroke-width="0.9" />
<line x1="79.4" y1="641.4" x2="83.6" y2="641.4" stroke="#2a2aff" stroke-width="0.9" />
<line x1="83.9" y1="618.8" x2="83.9" y2="651.4" stroke="#2a2aff" stroke-width="0.9" />
<line x1="81.8" y1="618.8" x2="86.0" y2="618.8" stroke="#2a2aff" stroke-width="0.9" />
<line x1="81.8" y1="651.4" x2="86.0" y2="651.4" stroke="#2a2aff" stroke-width="0.9" />
<line x1="86.8" y1="618.8" x2="86.8" y2="651.4" stroke="#2a2aff" stroke-width="0.9" />
<line x1="84.7" y1="618.8" x2="88.9" y2="618.8" stroke="#2a2aff" stroke-width="0.9" />
<line x1="84.7" y1="651.4" x2="88.9" y2="651.4" stroke="#2a2aff" stroke-width="0.9" />
<line x1="89.7" y1="621.9" x2="89.7" y2="654.5" stroke="#2a2aff" stroke-width="0.9" />
<line x1="87.6" y1="621.9" x2="91.8" y2="621.9" stroke="#2a2aff" stroke-width="0.9" />
<line x1="87.6" y1="654.5" x2="91.8" y2="654.5" stroke="#2a2aff" stroke-width="0.9" />
<line x1="93.2" y1="607.8" x2="93.2" y2="640.4" stroke="#2a2aff" stroke-width="0.9" />
<line x1="91.1" y1="607.8" x2="95.3" y2="607.8" stroke="#2a2aff" stroke-width="0.9" />
<line x1="91.1" y1="640.4" x2="95.3" y2="640.4" stroke="#2a2aff" stroke-width="0.9" />
<line x1="95.1" y1="602.6" x2="95.1" y2="635.2" stroke="#2a2aff" stroke-width="0.9" />
<line x1="93.0" y1="602.6" x2="97.2" y2="602.6" stroke="#2a2aff" stroke-width="0.9" />
<line x1="93.0" y1="635.2" x2="97.2" y2="635.2" stroke="#2a2aff" stroke-width="0.9" />
<line x1="98.4" y1="583.3" x2="98.4" y2="615.9" stroke="#2a2aff" stroke-width="0.9" />
<line x1="96.3" y1="583.3" x2="100.5" y2="583.3" stroke="#2a2aff" stroke-width="0.9" />
<line x1="96.3" y1="615.9" x2="100.5" y2="615.9" stroke="#2a2aff" stroke-width="0.9" />
<line x1="101.3" y1="585.6" x2="101.3" y2="618.2" stroke="#2a2aff" stroke-width="0.9" />
<line x1="99.2" y1="585.6" x2="103.4" y2="585.6" stroke="#2a2aff" stroke-width="0.9" />
<line x1="99.2" y1="618.2" x2="103.4" y2="618.2" stroke="#2a2aff" stroke-width="0.9" />
<line x1="104.8" y1="577.8" x2="104.8" y2="610.4" stroke="#2a2aff" stroke-width="0.9" />
<line x1="102.7" y1="577.8" x2="106.9" y2="577.8" stroke="#2a2aff" stroke-width="0.9" />
<line x1="102.7" y1="610.4" x2="106.9" y2="610.4" stroke="#2a2aff" stroke-width="0.9" />
<line x1="109.0" y1="572.4" x2="109.0" y2="605.0" stroke="#2a2aff" stroke-width="0.9" />
<line x1="106.9" y1="572.4" x2="111.1" y2="572.4" stroke="#2a2aff" stroke-width="0.9" />
<line x1="106.9" y1="605.0" x2="111.1" y2="605.0" stroke="#2a2aff" stroke-width="0.9" />
<line x1="112.5" y1="572.4" x2="112.5" y2="605.0" stroke="#2a2aff" stroke-width="0.9" />
<line x1="110.4" y1="572.4" x2="114.6" y2="572.4" stroke="#2a2aff" stroke-width="0.9" />
<line x1="110.4" y1="605.0" x2="114.6" y2="605.0" stroke="#2a2aff" stroke-width="0.9" />
<line x1="116.7" y1="549.8" x2="116.7" y2="582.4" stroke="#2a2aff" stroke-width="0.9" />
<line x1="114.6" y1="549.8" x2="118.8" y2="549.8" stroke="#2a2aff" stroke-width="0.9" />
<line x1="114.6" y1="582.4" x2="118.8" y2="582.4" stroke="#2a2aff" stroke-width="0.9" />
<line x1="121.6" y1="549.8" x2="121.6" y2="582.4" stroke="#2a2aff" stroke-width="0.9" />
<line x1="119.5" y1="549.8" x2="123.7" y2="549.8" stroke="#2a2aff" stroke-width="0.9" />
<line x1="119.5" y1="582.4" x2="123.7" y2="582.4" stroke="#2a2aff" stroke-width="0.9" />
<line x1="127.4" y1="558.5" x2="127.4" y2="591.1" stroke="#2a2aff" stroke-width="0.9" />
<line x1="125.3" y1="558.5" x2="129.5" y2="558.5" stroke="#2a2aff" stroke-width="0.9" />
<line x1="125.3" y1="591.1" x2="129.5" y2="591.1" stroke="#2a2aff" stroke-width="0.9" />
<line x1="133.2" y1="589.1" x2="133.2" y2="621.7" stroke="#2a2aff" stroke-width="0.9" />
<line x1="131.1" y1="589.1" x2="135.3" y2="589.1" stroke="#2a2aff" stroke-width="0.9" />
<line x1="131.1" y1="621.7" x2="135.3" y2="621.7" stroke="#2a2aff" stroke-width="0.9" />
<line x1="137.4" y1="635.5" x2="137.4" y2="668.1" stroke="#2a2aff" stroke-width="0.9" />
<line x1="135.3" y1="635.5" x2="139.5" y2="635.5" stroke="#2a2aff" stroke-width="0.9" />
<line x1="135.3" y1="668.1" x2="139.5" y2="668.1" stroke="#2a2aff" stroke-width="0.9" />
<line x1="141.9" y1="635.5" x2="141.9" y2="668.1" stroke="#2a2aff" stroke-width="0.9" />
<line x1="139.8" y1="635.5" x2="144.0" y2="635.5" stroke="#2a2aff" stroke-width="0.9" />
<line x1="139.8" y1="668.1" x2="144.0" y2="668.1" stroke="#2a2aff" stroke-width="0.9" />
<polyline points="37.2,638.2 39.0,635.6 40.8,632.4 43.8,630.3 45.4,635.2 47.2,627.3 49.6,619.0 52.3,593.8 57.6,585.8 61.0,597.0 65.6,599.6 69.3,615.9 71.8,613.1 76.6,619.3 78.3,624.1 79.9,626.2 81.5,625.1 83.9,635.1 86.8,635.1 89.7,638.2 93.2,624.1 95.1,618.9 98.4,599.6 101.3,601.9 104.8,594.1 109.0,588.7 112.5,588.7 116.7,566.1 121.6,566.1 127.4,574.8 133.2,605.4 137.4,651.8 141.9,651.8" fill="none" stroke="#0000ff" stroke-width="1.2" stroke-linejoin="round" stroke-linecap="round" />
<circle cx="37.2" cy="638.2" r="1.8" fill="#0000ff"/>
<circle cx="39.0" cy="635.6" r="1.8" fill="#0000ff"/>
<circle cx="40.8" cy="632.4" r="1.8" fill="#0000ff"/>
<circle cx="43.8" cy="630.3" r="1.8" fill="#0000ff"/>
<circle cx="45.4" cy="635.2" r="1.8" fill="#0000ff"/>
<circle cx="47.2" cy="627.3" r="1.8" fill="#0000ff"/>
<circle cx="49.6" cy="619.0" r="1.8" fill="#0000ff"/>
<circle cx="52.3" cy="593.8" r="1.8" fill="#0000ff"/>
<circle cx="57.6" cy="585.8" r="1.8" fill="#0000ff"/>
<circle cx="61.0" cy="597.0" r="1.8" fill="#0000ff"/>
<circle cx="65.6" cy="599.6" r="1.8" fill="#0000ff"/>
<circle cx="69.3" cy="615.9" r="1.8" fill="#0000ff"/>
<circle cx="71.8" cy="613.1" r="1.8" fill="#0000ff"/>
<circle cx="76.6" cy="619.3" r="1.8" fill="#0000ff"/>
<circle cx="78.3" cy="624.1" r="1.8" fill="#0000ff"/>
<circle cx="79.9" cy="626.2" r="1.8" fill="#0000ff"/>
<circle cx="81.5" cy="625.1" r="1.8" fill="#0000ff"/>
<circle cx="83.9" cy="635.1" r="1.8" fill="#0000ff"/>
<circle cx="86.8" cy="635.1" r="1.8" fill="#0000ff"/>
<circle cx="89.7" cy="638.2" r="1.8" fill="#0000ff"/>
<circle cx="93.2" cy="624.1" r="1.8" fill="#0000ff"/>
<circle cx="95.1" cy="618.9" r="1.8" fill="#0000ff"/>
<circle cx="98.4" cy="599.6" r="1.8" fill="#0000ff"/>
<circle cx="101.3" cy="601.9" r="1.8" fill="#0000ff"/>
<circle cx="104.8" cy="594.1" r="1.8" fill="#0000ff"/>
<circle cx="109.0" cy="588.7" r="1.8" fill="#0000ff"/>
<circle cx="112.5" cy="588.7" r="1.8" fill="#0000ff"/>
<circle cx="116.7" cy="566.1" r="1.8" fill="#0000ff"/>
<circle cx="121.6" cy="566.1" r="1.8" fill="#0000ff"/>
<circle cx="127.4" cy="574.8" r="1.8" fill="#0000ff"/>
<circle cx="133.2" cy="605.4" r="1.8" fill="#0000ff"/>
<circle cx="137.4" cy="651.8" r="1.8" fill="#0000ff"/>
<circle cx="141.9" cy="651.8" r="1.8" fill="#0000ff"/>
<line x1="157.0" y1="526.1" x2="157.0" y2="696.0" stroke="#6a6a6a" stroke-width="0.8" />
<line x1="157.0" y1="696.0" x2="276.3" y2="696.0" stroke="#6a6a6a" stroke-width="0.8" />
<line x1="153.4" y1="692.6" x2="157.0" y2="692.6" stroke="#6a6a6a" stroke-width="0.8" />
<line x1="153.4" y1="665.4" x2="157.0" y2="665.4" stroke="#6a6a6a" stroke-width="0.8" />
<line x1="153.4" y1="638.2" x2="157.0" y2="638.2" stroke="#6a6a6a" stroke-width="0.8" />
<line x1="153.4" y1="611.0" x2="157.0" y2="611.0" stroke="#6a6a6a" stroke-width="0.8" />
<line x1="153.4" y1="583.8" x2="157.0" y2="583.8" stroke="#6a6a6a" stroke-width="0.8" />
<line x1="153.4" y1="556.6" x2="157.0" y2="556.6" stroke="#6a6a6a" stroke-width="0.8" />
<line x1="153.4" y1="529.4" x2="157.0" y2="529.4" stroke="#6a6a6a" stroke-width="0.8" />
<line x1="168.8" y1="696.0" x2="168.8" y2="699.0" stroke="#6a6a6a" stroke-width="0.8" />
<line x1="184.8" y1="696.0" x2="184.8" y2="699.0" stroke="#6a6a6a" stroke-width="0.8" />
<text x="184.8" y="709.3" text-anchor="middle" font-size="8.2" fill="#231f20" >−90</text>
<line x1="200.8" y1="696.0" x2="200.8" y2="699.0" stroke="#6a6a6a" stroke-width="0.8" />
<line x1="216.7" y1="696.0" x2="216.7" y2="699.0" stroke="#6a6a6a" stroke-width="0.8" />
<text x="216.7" y="709.3" text-anchor="middle" font-size="8.2" fill="#231f20" >0</text>
<line x1="232.6" y1="696.0" x2="232.6" y2="699.0" stroke="#6a6a6a" stroke-width="0.8" />
<line x1="248.6" y1="696.0" x2="248.6" y2="699.0" stroke="#6a6a6a" stroke-width="0.8" />
<text x="248.6" y="709.3" text-anchor="middle" font-size="8.2" fill="#231f20" >90</text>
<line x1="264.6" y1="696.0" x2="264.6" y2="699.0" stroke="#6a6a6a" stroke-width="0.8" />
<text x="216.7" y="722.5" text-anchor="middle" font-size="8.2" fill="#231f20"><tspan font-style="italic">θ</tspan> (°)</text>
<text x="216.7" y="509.3" text-anchor="middle" font-size="8.2" fill="#231f20" >Sample 2</text>
<line x1="158.0" y1="638.2" x2="284.3" y2="638.2" stroke="#1010ff" stroke-width="1.3" stroke-dasharray="2.2 1.3"/>
<line x1="202.7" y1="589.1" x2="202.7" y2="621.7" stroke="#2a2aff" stroke-width="0.9" />
<line x1="200.6" y1="589.1" x2="204.8" y2="589.1" stroke="#2a2aff" stroke-width="0.9" />
<line x1="200.6" y1="621.7" x2="204.8" y2="621.7" stroke="#2a2aff" stroke-width="0.9" />
<line x1="207.2" y1="600.0" x2="207.2" y2="632.6" stroke="#2a2aff" stroke-width="0.9" />
<line x1="205.1" y1="600.0" x2="209.3" y2="600.0" stroke="#2a2aff" stroke-width="0.9" />
<line x1="205.1" y1="632.6" x2="209.3" y2="632.6" stroke="#2a2aff" stroke-width="0.9" />
<line x1="209.6" y1="604.9" x2="209.6" y2="637.5" stroke="#2a2aff" stroke-width="0.9" />
<line x1="207.5" y1="604.9" x2="211.7" y2="604.9" stroke="#2a2aff" stroke-width="0.9" />
<line x1="207.5" y1="637.5" x2="211.7" y2="637.5" stroke="#2a2aff" stroke-width="0.9" />
<line x1="213.9" y1="613.9" x2="213.9" y2="646.5" stroke="#2a2aff" stroke-width="0.9" />
<line x1="211.8" y1="613.9" x2="216.0" y2="613.9" stroke="#2a2aff" stroke-width="0.9" />
<line x1="211.8" y1="646.5" x2="216.0" y2="646.5" stroke="#2a2aff" stroke-width="0.9" />
<line x1="217.1" y1="621.7" x2="217.1" y2="654.3" stroke="#2a2aff" stroke-width="0.9" />
<line x1="215.0" y1="621.7" x2="219.2" y2="621.7" stroke="#2a2aff" stroke-width="0.9" />
<line x1="215.0" y1="654.3" x2="219.2" y2="654.3" stroke="#2a2aff" stroke-width="0.9" />
<line x1="220.8" y1="621.7" x2="220.8" y2="654.3" stroke="#2a2aff" stroke-width="0.9" />
<line x1="218.7" y1="621.7" x2="222.9" y2="621.7" stroke="#2a2aff" stroke-width="0.9" />
<line x1="218.7" y1="654.3" x2="222.9" y2="654.3" stroke="#2a2aff" stroke-width="0.9" />
<line x1="224.5" y1="600.0" x2="224.5" y2="632.6" stroke="#2a2aff" stroke-width="0.9" />
<line x1="222.4" y1="600.0" x2="226.6" y2="600.0" stroke="#2a2aff" stroke-width="0.9" />
<line x1="222.4" y1="632.6" x2="226.6" y2="632.6" stroke="#2a2aff" stroke-width="0.9" />
<line x1="227.5" y1="589.1" x2="227.5" y2="621.7" stroke="#2a2aff" stroke-width="0.9" />
<line x1="225.4" y1="589.1" x2="229.6" y2="589.1" stroke="#2a2aff" stroke-width="0.9" />
<line x1="225.4" y1="621.7" x2="229.6" y2="621.7" stroke="#2a2aff" stroke-width="0.9" />
<line x1="231.2" y1="580.7" x2="231.2" y2="613.3" stroke="#2a2aff" stroke-width="0.9" />
<line x1="229.1" y1="580.7" x2="233.3" y2="580.7" stroke="#2a2aff" stroke-width="0.9" />
<line x1="229.1" y1="613.3" x2="233.3" y2="613.3" stroke="#2a2aff" stroke-width="0.9" />
<polyline points="202.7,605.4 207.2,616.3 209.6,621.2 213.9,630.2 217.1,638.0 220.8,638.0 224.5,616.3 227.5,605.4 231.2,597.0" fill="none" stroke="#0000ff" stroke-width="1.2" stroke-linejoin="round" stroke-linecap="round" />
<circle cx="202.7" cy="605.4" r="2.5" fill="#0000ff"/>
<circle cx="207.2" cy="616.3" r="2.5" fill="#0000ff"/>
<circle cx="209.6" cy="621.2" r="2.5" fill="#0000ff"/>
<circle cx="213.9" cy="630.2" r="2.5" fill="#0000ff"/>
<circle cx="217.1" cy="638.0" r="2.5" fill="#0000ff"/>
<circle cx="220.8" cy="638.0" r="2.5" fill="#0000ff"/>
<circle cx="224.5" cy="616.3" r="2.5" fill="#0000ff"/>
<circle cx="227.5" cy="605.4" r="2.5" fill="#0000ff"/>
<circle cx="231.2" cy="597.0" r="2.5" fill="#0000ff"/>
<line x1="284.8" y1="526.1" x2="284.8" y2="696.0" stroke="#6a6a6a" stroke-width="0.8" />
<line x1="284.8" y1="696.0" x2="401.3" y2="696.0" stroke="#6a6a6a" stroke-width="0.8" />
<line x1="281.2" y1="692.6" x2="284.8" y2="692.6" stroke="#6a6a6a" stroke-width="0.8" />
<line x1="281.2" y1="665.4" x2="284.8" y2="665.4" stroke="#6a6a6a" stroke-width="0.8" />
<line x1="281.2" y1="638.2" x2="284.8" y2="638.2" stroke="#6a6a6a" stroke-width="0.8" />
<line x1="281.2" y1="611.0" x2="284.8" y2="611.0" stroke="#6a6a6a" stroke-width="0.8" />
<line x1="281.2" y1="583.8" x2="284.8" y2="583.8" stroke="#6a6a6a" stroke-width="0.8" />
<line x1="281.2" y1="556.6" x2="284.8" y2="556.6" stroke="#6a6a6a" stroke-width="0.8" />
<line x1="281.2" y1="529.4" x2="284.8" y2="529.4" stroke="#6a6a6a" stroke-width="0.8" />
<line x1="294.4" y1="696.0" x2="294.4" y2="699.0" stroke="#6a6a6a" stroke-width="0.8" />
<line x1="310.4" y1="696.0" x2="310.4" y2="699.0" stroke="#6a6a6a" stroke-width="0.8" />
<text x="310.4" y="709.3" text-anchor="middle" font-size="8.2" fill="#231f20" >−90</text>
<line x1="326.4" y1="696.0" x2="326.4" y2="699.0" stroke="#6a6a6a" stroke-width="0.8" />
<line x1="342.3" y1="696.0" x2="342.3" y2="699.0" stroke="#6a6a6a" stroke-width="0.8" />
<text x="342.3" y="709.3" text-anchor="middle" font-size="8.2" fill="#231f20" >0</text>
<line x1="358.2" y1="696.0" x2="358.2" y2="699.0" stroke="#6a6a6a" stroke-width="0.8" />
<line x1="374.2" y1="696.0" x2="374.2" y2="699.0" stroke="#6a6a6a" stroke-width="0.8" />
<text x="374.2" y="709.3" text-anchor="middle" font-size="8.2" fill="#231f20" >90</text>
<line x1="390.2" y1="696.0" x2="390.2" y2="699.0" stroke="#6a6a6a" stroke-width="0.8" />
<text x="342.3" y="722.5" text-anchor="middle" font-size="8.2" fill="#231f20"><tspan font-style="italic">θ</tspan> (°)</text>
<text x="342.3" y="509.3" text-anchor="middle" font-size="8.2" fill="#231f20" >Sample 3</text>
<line x1="285.8" y1="638.2" x2="409.3" y2="638.2" stroke="#1010ff" stroke-width="1.3" stroke-dasharray="2.2 1.3"/>
<line x1="319.7" y1="591.0" x2="319.7" y2="623.6" stroke="#2a2aff" stroke-width="0.9" />
<line x1="317.6" y1="591.0" x2="321.8" y2="591.0" stroke="#2a2aff" stroke-width="0.9" />
<line x1="317.6" y1="623.6" x2="321.8" y2="623.6" stroke="#2a2aff" stroke-width="0.9" />
<line x1="324.7" y1="604.7" x2="324.7" y2="637.3" stroke="#2a2aff" stroke-width="0.9" />
<line x1="322.6" y1="604.7" x2="326.8" y2="604.7" stroke="#2a2aff" stroke-width="0.9" />
<line x1="322.6" y1="637.3" x2="326.8" y2="637.3" stroke="#2a2aff" stroke-width="0.9" />
<line x1="330.2" y1="607.3" x2="330.2" y2="639.9" stroke="#2a2aff" stroke-width="0.9" />
<line x1="328.1" y1="607.3" x2="332.3" y2="607.3" stroke="#2a2aff" stroke-width="0.9" />
<line x1="328.1" y1="639.9" x2="332.3" y2="639.9" stroke="#2a2aff" stroke-width="0.9" />
<line x1="335.5" y1="610.0" x2="335.5" y2="642.6" stroke="#2a2aff" stroke-width="0.9" />
<line x1="333.4" y1="610.0" x2="337.6" y2="610.0" stroke="#2a2aff" stroke-width="0.9" />
<line x1="333.4" y1="642.6" x2="337.6" y2="642.6" stroke="#2a2aff" stroke-width="0.9" />
<line x1="339.0" y1="618.3" x2="339.0" y2="650.9" stroke="#2a2aff" stroke-width="0.9" />
<line x1="336.9" y1="618.3" x2="341.1" y2="618.3" stroke="#2a2aff" stroke-width="0.9" />
<line x1="336.9" y1="650.9" x2="341.1" y2="650.9" stroke="#2a2aff" stroke-width="0.9" />
<line x1="341.2" y1="612.8" x2="341.2" y2="645.4" stroke="#2a2aff" stroke-width="0.9" />
<line x1="339.1" y1="612.8" x2="343.3" y2="612.8" stroke="#2a2aff" stroke-width="0.9" />
<line x1="339.1" y1="645.4" x2="343.3" y2="645.4" stroke="#2a2aff" stroke-width="0.9" />
<line x1="343.1" y1="621.0" x2="343.1" y2="653.6" stroke="#2a2aff" stroke-width="0.9" />
<line x1="341.0" y1="621.0" x2="345.2" y2="621.0" stroke="#2a2aff" stroke-width="0.9" />
<line x1="341.0" y1="653.6" x2="345.2" y2="653.6" stroke="#2a2aff" stroke-width="0.9" />
<line x1="345.1" y1="615.5" x2="345.1" y2="648.1" stroke="#2a2aff" stroke-width="0.9" />
<line x1="343.0" y1="615.5" x2="347.2" y2="615.5" stroke="#2a2aff" stroke-width="0.9" />
<line x1="343.0" y1="648.1" x2="347.2" y2="648.1" stroke="#2a2aff" stroke-width="0.9" />
<line x1="348.7" y1="610.0" x2="348.7" y2="642.6" stroke="#2a2aff" stroke-width="0.9" />
<line x1="346.6" y1="610.0" x2="350.8" y2="610.0" stroke="#2a2aff" stroke-width="0.9" />
<line x1="346.6" y1="642.6" x2="350.8" y2="642.6" stroke="#2a2aff" stroke-width="0.9" />
<line x1="350.6" y1="605.0" x2="350.6" y2="637.6" stroke="#2a2aff" stroke-width="0.9" />
<line x1="348.5" y1="605.0" x2="352.7" y2="605.0" stroke="#2a2aff" stroke-width="0.9" />
<line x1="348.5" y1="637.6" x2="352.7" y2="637.6" stroke="#2a2aff" stroke-width="0.9" />
<line x1="353.7" y1="602.3" x2="353.7" y2="634.9" stroke="#2a2aff" stroke-width="0.9" />
<line x1="351.6" y1="602.3" x2="355.8" y2="602.3" stroke="#2a2aff" stroke-width="0.9" />
<line x1="351.6" y1="634.9" x2="355.8" y2="634.9" stroke="#2a2aff" stroke-width="0.9" />
<line x1="359.2" y1="602.1" x2="359.2" y2="634.7" stroke="#2a2aff" stroke-width="0.9" />
<line x1="357.1" y1="602.1" x2="361.3" y2="602.1" stroke="#2a2aff" stroke-width="0.9" />
<line x1="357.1" y1="634.7" x2="361.3" y2="634.7" stroke="#2a2aff" stroke-width="0.9" />
<polyline points="319.7,607.3 324.7,621.0 330.2,623.6 335.5,626.3 339.0,634.6 341.2,629.1 343.1,637.3 345.1,631.8 348.7,626.3 350.6,621.3 353.7,618.6 359.2,618.4" fill="none" stroke="#0000ff" stroke-width="1.2" stroke-linejoin="round" stroke-linecap="round" />
<circle cx="319.7" cy="607.3" r="2.5" fill="#0000ff"/>
<circle cx="324.7" cy="621.0" r="2.5" fill="#0000ff"/>
<circle cx="330.2" cy="623.6" r="2.5" fill="#0000ff"/>
<circle cx="335.5" cy="626.3" r="2.5" fill="#0000ff"/>
<circle cx="339.0" cy="634.6" r="2.5" fill="#0000ff"/>
<circle cx="341.2" cy="629.1" r="2.5" fill="#0000ff"/>
<circle cx="343.1" cy="637.3" r="2.5" fill="#0000ff"/>
<circle cx="345.1" cy="631.8" r="2.5" fill="#0000ff"/>
<circle cx="348.7" cy="626.3" r="2.5" fill="#0000ff"/>
<circle cx="350.6" cy="621.3" r="2.5" fill="#0000ff"/>
<circle cx="353.7" cy="618.6" r="2.5" fill="#0000ff"/>
<circle cx="359.2" cy="618.4" r="2.5" fill="#0000ff"/>
<line x1="409.8" y1="526.1" x2="409.8" y2="696.0" stroke="#6a6a6a" stroke-width="0.8" />
<line x1="409.8" y1="696.0" x2="528.6" y2="696.0" stroke="#6a6a6a" stroke-width="0.8" />
<line x1="406.2" y1="692.6" x2="409.8" y2="692.6" stroke="#6a6a6a" stroke-width="0.8" />
<line x1="406.2" y1="665.4" x2="409.8" y2="665.4" stroke="#6a6a6a" stroke-width="0.8" />
<line x1="406.2" y1="638.2" x2="409.8" y2="638.2" stroke="#6a6a6a" stroke-width="0.8" />
<line x1="406.2" y1="611.0" x2="409.8" y2="611.0" stroke="#6a6a6a" stroke-width="0.8" />
<line x1="406.2" y1="583.8" x2="409.8" y2="583.8" stroke="#6a6a6a" stroke-width="0.8" />
<line x1="406.2" y1="556.6" x2="409.8" y2="556.6" stroke="#6a6a6a" stroke-width="0.8" />
<line x1="406.2" y1="529.4" x2="409.8" y2="529.4" stroke="#6a6a6a" stroke-width="0.8" />
<line x1="421.0" y1="696.0" x2="421.0" y2="699.0" stroke="#6a6a6a" stroke-width="0.8" />
<line x1="437.0" y1="696.0" x2="437.0" y2="699.0" stroke="#6a6a6a" stroke-width="0.8" />
<text x="437.0" y="709.3" text-anchor="middle" font-size="8.2" fill="#231f20" >−90</text>
<line x1="452.9" y1="696.0" x2="452.9" y2="699.0" stroke="#6a6a6a" stroke-width="0.8" />
<line x1="468.9" y1="696.0" x2="468.9" y2="699.0" stroke="#6a6a6a" stroke-width="0.8" />
<text x="468.9" y="709.3" text-anchor="middle" font-size="8.2" fill="#231f20" >0</text>
<line x1="484.8" y1="696.0" x2="484.8" y2="699.0" stroke="#6a6a6a" stroke-width="0.8" />
<line x1="500.8" y1="696.0" x2="500.8" y2="699.0" stroke="#6a6a6a" stroke-width="0.8" />
<text x="500.8" y="709.3" text-anchor="middle" font-size="8.2" fill="#231f20" >90</text>
<line x1="516.8" y1="696.0" x2="516.8" y2="699.0" stroke="#6a6a6a" stroke-width="0.8" />
<text x="468.9" y="722.5" text-anchor="middle" font-size="8.2" fill="#231f20"><tspan font-style="italic">θ</tspan> (°)</text>
<text x="468.9" y="509.3" text-anchor="middle" font-size="8.2" fill="#231f20" >Sample 4</text>
<line x1="410.8" y1="638.2" x2="528.6" y2="638.2" stroke="#1010ff" stroke-width="1.3" stroke-dasharray="2.2 1.3"/>
<line x1="417.7" y1="604.7" x2="417.7" y2="637.3" stroke="#2a2aff" stroke-width="0.9" />
<line x1="415.6" y1="604.7" x2="419.8" y2="604.7" stroke="#2a2aff" stroke-width="0.9" />
<line x1="415.6" y1="637.3" x2="419.8" y2="637.3" stroke="#2a2aff" stroke-width="0.9" />
<line x1="423.5" y1="580.3" x2="423.5" y2="612.9" stroke="#2a2aff" stroke-width="0.9" />
<line x1="421.4" y1="580.3" x2="425.6" y2="580.3" stroke="#2a2aff" stroke-width="0.9" />
<line x1="421.4" y1="612.9" x2="425.6" y2="612.9" stroke="#2a2aff" stroke-width="0.9" />
<line x1="437.5" y1="571.9" x2="437.5" y2="604.5" stroke="#2a2aff" stroke-width="0.9" />
<line x1="435.4" y1="571.9" x2="439.6" y2="571.9" stroke="#2a2aff" stroke-width="0.9" />
<line x1="435.4" y1="604.5" x2="439.6" y2="604.5" stroke="#2a2aff" stroke-width="0.9" />
<line x1="446.9" y1="582.8" x2="446.9" y2="615.4" stroke="#2a2aff" stroke-width="0.9" />
<line x1="444.8" y1="582.8" x2="449.0" y2="582.8" stroke="#2a2aff" stroke-width="0.9" />
<line x1="444.8" y1="615.4" x2="449.0" y2="615.4" stroke="#2a2aff" stroke-width="0.9" />
<line x1="455.4" y1="588.3" x2="455.4" y2="620.9" stroke="#2a2aff" stroke-width="0.9" />
<line x1="453.3" y1="588.3" x2="457.5" y2="588.3" stroke="#2a2aff" stroke-width="0.9" />
<line x1="453.3" y1="620.9" x2="457.5" y2="620.9" stroke="#2a2aff" stroke-width="0.9" />
<line x1="460.6" y1="596.3" x2="460.6" y2="628.9" stroke="#2a2aff" stroke-width="0.9" />
<line x1="458.5" y1="596.3" x2="462.7" y2="596.3" stroke="#2a2aff" stroke-width="0.9" />
<line x1="458.5" y1="628.9" x2="462.7" y2="628.9" stroke="#2a2aff" stroke-width="0.9" />
<line x1="464.6" y1="615.6" x2="464.6" y2="648.2" stroke="#2a2aff" stroke-width="0.9" />
<line x1="462.5" y1="615.6" x2="466.7" y2="615.6" stroke="#2a2aff" stroke-width="0.9" />
<line x1="462.5" y1="648.2" x2="466.7" y2="648.2" stroke="#2a2aff" stroke-width="0.9" />
<line x1="469.1" y1="621.2" x2="469.1" y2="653.8" stroke="#2a2aff" stroke-width="0.9" />
<line x1="467.0" y1="621.2" x2="471.2" y2="621.2" stroke="#2a2aff" stroke-width="0.9" />
<line x1="467.0" y1="653.8" x2="471.2" y2="653.8" stroke="#2a2aff" stroke-width="0.9" />
<line x1="474.6" y1="618.5" x2="474.6" y2="651.1" stroke="#2a2aff" stroke-width="0.9" />
<line x1="472.5" y1="618.5" x2="476.7" y2="618.5" stroke="#2a2aff" stroke-width="0.9" />
<line x1="472.5" y1="651.1" x2="476.7" y2="651.1" stroke="#2a2aff" stroke-width="0.9" />
<line x1="477.8" y1="618.5" x2="477.8" y2="651.1" stroke="#2a2aff" stroke-width="0.9" />
<line x1="475.7" y1="618.5" x2="479.9" y2="618.5" stroke="#2a2aff" stroke-width="0.9" />
<line x1="475.7" y1="651.1" x2="479.9" y2="651.1" stroke="#2a2aff" stroke-width="0.9" />
<line x1="482.6" y1="602.0" x2="482.6" y2="634.6" stroke="#2a2aff" stroke-width="0.9" />
<line x1="480.5" y1="602.0" x2="484.7" y2="602.0" stroke="#2a2aff" stroke-width="0.9" />
<line x1="480.5" y1="634.6" x2="484.7" y2="634.6" stroke="#2a2aff" stroke-width="0.9" />
<line x1="487.6" y1="588.3" x2="487.6" y2="620.9" stroke="#2a2aff" stroke-width="0.9" />
<line x1="485.5" y1="588.3" x2="489.7" y2="588.3" stroke="#2a2aff" stroke-width="0.9" />
<line x1="485.5" y1="620.9" x2="489.7" y2="620.9" stroke="#2a2aff" stroke-width="0.9" />
<line x1="498.3" y1="553.0" x2="498.3" y2="585.6" stroke="#2a2aff" stroke-width="0.9" />
<line x1="496.2" y1="553.0" x2="500.4" y2="553.0" stroke="#2a2aff" stroke-width="0.9" />
<line x1="496.2" y1="585.6" x2="500.4" y2="585.6" stroke="#2a2aff" stroke-width="0.9" />
<line x1="506.4" y1="555.7" x2="506.4" y2="588.3" stroke="#2a2aff" stroke-width="0.9" />
<line x1="504.3" y1="555.7" x2="508.5" y2="555.7" stroke="#2a2aff" stroke-width="0.9" />
<line x1="504.3" y1="588.3" x2="508.5" y2="588.3" stroke="#2a2aff" stroke-width="0.9" />
<line x1="512.8" y1="558.6" x2="512.8" y2="591.2" stroke="#2a2aff" stroke-width="0.9" />
<line x1="510.7" y1="558.6" x2="514.9" y2="558.6" stroke="#2a2aff" stroke-width="0.9" />
<line x1="510.7" y1="591.2" x2="514.9" y2="591.2" stroke="#2a2aff" stroke-width="0.9" />
<polyline points="417.7,621.0 423.5,596.6 437.5,588.2 446.9,599.1 455.4,604.6 460.6,612.6 464.6,631.9 469.1,637.5 474.6,634.8 477.8,634.8 482.6,618.3 487.6,604.6 498.3,569.3 506.4,572.0 512.8,574.9" fill="none" stroke="#0000ff" stroke-width="1.2" stroke-linejoin="round" stroke-linecap="round" />
<circle cx="417.7" cy="621.0" r="2.5" fill="#0000ff"/>
<circle cx="423.5" cy="596.6" r="2.5" fill="#0000ff"/>
<circle cx="437.5" cy="588.2" r="2.5" fill="#0000ff"/>
<circle cx="446.9" cy="599.1" r="2.5" fill="#0000ff"/>
<circle cx="455.4" cy="604.6" r="2.5" fill="#0000ff"/>
<circle cx="460.6" cy="612.6" r="2.5" fill="#0000ff"/>
<circle cx="464.6" cy="631.9" r="2.5" fill="#0000ff"/>
<circle cx="469.1" cy="637.5" r="2.5" fill="#0000ff"/>
<circle cx="474.6" cy="634.8" r="2.5" fill="#0000ff"/>
<circle cx="477.8" cy="634.8" r="2.5" fill="#0000ff"/>
<circle cx="482.6" cy="618.3" r="2.5" fill="#0000ff"/>
<circle cx="487.6" cy="604.6" r="2.5" fill="#0000ff"/>
<circle cx="498.3" cy="569.3" r="2.5" fill="#0000ff"/>
<circle cx="506.4" cy="572.0" r="2.5" fill="#0000ff"/>
<circle cx="512.8" cy="574.9" r="2.5" fill="#0000ff"/>
<text x="536.2" y="508" font-size="11" font-weight="bold" fill="#000">e</text>
<line x1="550.6" y1="503.5" x2="550.6" y2="695.4" stroke="#6a6a6a" stroke-width="0.8" />
<line x1="550.6" y1="695.4" x2="682.3" y2="695.4" stroke="#6a6a6a" stroke-width="0.8" />
<line x1="551.6" y1="695.4" x2="551.6" y2="698.7" stroke="#6a6a6a" stroke-width="0.8" />
<text x="551.6" y="709.6" text-anchor="middle" font-size="8.2" fill="#231f20" >−20</text>
<line x1="584.0" y1="695.4" x2="584.0" y2="698.7" stroke="#6a6a6a" stroke-width="0.8" />
<text x="584.0" y="709.6" text-anchor="middle" font-size="8.2" fill="#231f20" >−10</text>
<line x1="616.2" y1="695.4" x2="616.2" y2="698.7" stroke="#6a6a6a" stroke-width="0.8" />
<text x="616.2" y="709.6" text-anchor="middle" font-size="8.2" fill="#231f20" >0</text>
<line x1="648.4" y1="695.4" x2="648.4" y2="698.7" stroke="#6a6a6a" stroke-width="0.8" />
<text x="648.4" y="709.6" text-anchor="middle" font-size="8.2" fill="#231f20" >10</text>
<line x1="680.8" y1="695.4" x2="680.8" y2="698.7" stroke="#6a6a6a" stroke-width="0.8" />
<text x="680.8" y="709.6" text-anchor="middle" font-size="8.2" fill="#231f20" >20</text>
<text x="617.3" y="721.8" text-anchor="middle" font-size="8.2" fill="#231f20"><tspan font-style="italic">E</tspan> − <tspan font-style="italic">E</tspan><tspan font-size="5.5" dy="1.8">F</tspan><tspan dy="-1.8"> (meV)</tspan></text>
<text x="543.0" y="601.8" text-anchor="middle" font-size="8.2" fill="#231f20" transform="rotate(-90 543.0 601.8)">Intensity (a.u.)</text>
<text x="648.0" y="508.8" text-anchor="middle" font-size="8.2" fill="#231f20" >Sample 4</text>
<polyline points="551.5,681.8 553.9,679.9 555.8,678.0 557.7,675.1 559.7,676.0 561.6,673.1 563.5,672.2 565.5,670.2 567.4,673.1 569.3,669.3 571.3,668.3 573.2,666.4 575.1,665.4 577.1,660.6 579.0,657.7 580.9,652.8 582.9,648.0 584.8,641.2 586.4,639.3 587.7,633.5 589.1,614.1 590.6,587.1 592.9,562.7 595.0,543.7 597.2,531.0 599.3,518.3 601.4,509.8 603.5,506.6 606.0,508.8 607.7,514.1 609.0,533.1 610.3,543.7 611.1,558.5 612.0,575.4 613.0,594.5 614.1,613.5 614.5,635.0 615.8,643.5 617.3,664.7 618.7,681.6 620.4,689.0 623.6,692.6 680.8,693.7" fill="none" stroke="#ffa500" stroke-width="1.35" stroke-linejoin="round" stroke-linecap="round" />
<polyline points="551.5,678.0 553.9,675.6 555.8,674.1 557.7,671.2 559.7,673.1 561.6,669.3 563.5,668.3 565.5,663.5 567.4,668.3 569.3,665.4 571.3,664.4 573.2,660.6 575.1,661.5 577.1,654.8 579.0,652.8 580.9,649.0 582.9,645.1 584.8,637.4 586.4,635.4 587.7,629.6 588.7,612.2 589.6,592.9 591.0,571.6 592.5,558.5 594.6,537.3 596.7,526.8 598.8,518.3 601.0,509.8 603.5,506.6 605.6,507.7 607.3,511.9 608.2,518.3 609.4,537.3 610.5,545.8 611.5,562.7 612.4,579.7 613.2,596.6 614.1,613.5 615.1,637.2 616.6,639.3 617.9,660.4 619.4,677.4 620.9,681.6 622.6,690.1 624.7,692.2 628.9,693.3 680.8,693.7" fill="none" stroke="#f0141e" stroke-width="1.35" stroke-linejoin="round" stroke-linecap="round" />
<polyline points="551.5,676.0 553.9,674.1 555.8,670.2 557.7,664.4 559.3,672.2 561.2,668.3 563.2,665.4 565.1,660.6 566.4,649.9 567.8,664.4 569.3,662.5 571.3,656.7 572.8,658.6 574.8,656.7 577.1,649.9 579.0,641.2 580.6,645.1 581.9,636.4 583.3,629.6 584.8,618.0 586.4,621.9 587.7,625.8 588.7,608.3 589.6,589.0 590.6,567.7 591.9,558.5 594.0,571.2 595.0,554.3 596.1,535.2 597.2,543.7 598.2,526.8 599.7,511.9 601.0,507.7 602.4,508.8 603.5,516.2 605.6,524.6 607.3,535.2 608.8,545.8 609.9,562.7 610.9,579.7 612.0,596.6 613.0,613.5 614.1,654.1 615.8,675.3 617.3,688.0 618.7,692.2 621.5,693.3 680.8,693.7" fill="none" stroke="#1ea8f0" stroke-width="1.35" stroke-linejoin="round" stroke-linecap="round" />
<polyline points="551.5,686.7 553.9,685.7 555.8,683.8 557.7,680.9 559.7,683.8 561.6,679.9 563.5,681.8 565.5,676.0 567.4,682.8 569.3,678.0 571.3,678.9 573.2,672.2 575.1,676.0 577.1,668.3 579.0,665.4 580.9,661.5 582.9,655.7 584.8,650.9 586.7,646.1 588.1,652.8 588.7,633.5 589.6,610.3 590.6,589.0 592.2,571.6 592.9,594.8 594.1,583.2 595.4,571.6 596.4,563.9 597.2,539.5 598.2,526.8 599.3,514.1 599.9,506.6 600.8,514.1 601.8,516.2 602.7,507.7 603.5,537.3 604.6,550.0 605.6,575.4 606.7,596.6 607.3,605.1 609.4,632.9 610.9,654.1 612.0,675.3 613.0,685.8 614.1,690.1 616.2,692.2 620.4,693.3 680.8,693.7" fill="none" stroke="#6a0fd8" stroke-width="1.35" stroke-linejoin="round" stroke-linecap="round" />
<line x1="632.1" y1="552.2" x2="649.0" y2="552.2" stroke="#f0141e" stroke-width="1.5" />
<text x="653.7" y="555.4" text-anchor="start" font-size="8.2" fill="#231f20" >20 K</text>
<line x1="632.1" y1="564.2" x2="649.0" y2="564.2" stroke="#ffa500" stroke-width="1.5" />
<text x="653.7" y="567.4" text-anchor="start" font-size="8.2" fill="#231f20" >15 K</text>
<line x1="632.1" y1="576.1" x2="649.0" y2="576.1" stroke="#1ea8f0" stroke-width="1.5" />
<text x="653.7" y="579.3" text-anchor="start" font-size="8.2" fill="#231f20" >10 K</text>
<line x1="632.1" y1="588.1" x2="649.0" y2="588.1" stroke="#6a0fd8" stroke-width="1.5" />
<text x="653.7" y="591.3" text-anchor="start" font-size="8.2" fill="#231f20" >6 K</text>
<text x="0.3" y="11.8" font-size="11" font-weight="bold" fill="#000">a</text>
<defs><linearGradient id="g0" x1="0" y1="0" x2="0" y2="1"><stop offset="0.000" stop-color="#323496"/><stop offset="1.000" stop-color="#323496"/></linearGradient><linearGradient id="g1" x1="0" y1="0" x2="0" y2="1"><stop offset="0.000" stop-color="#323496"/><stop offset="0.805" stop-color="#323496"/><stop offset="0.868" stop-color="#30389c"/><stop offset="1.000" stop-color="#323496"/></linearGradient><linearGradient id="g2" x1="0" y1="0" x2="0" y2="1"><stop offset="0.000" stop-color="#323496"/><stop offset="0.730" stop-color="#323496"/><stop offset="0.849" stop-color="#2848b2"/><stop offset="1.000" stop-color="#323496"/></linearGradient><linearGradient id="g3" x1="0" y1="0" x2="0" y2="1"><stop offset="0.000" stop-color="#31379a"/><stop offset="0.352" stop-color="#323496"/><stop offset="0.516" stop-color="#2f3a9e"/><stop offset="0.572" stop-color="#323496"/><stop offset="0.786" stop-color="#323496"/><stop offset="0.887" stop-color="#2d3fa5"/><stop offset="1.000" stop-color="#30379a"/></linearGradient><linearGradient id="g4" x1="0" y1="0" x2="0" y2="1"><stop offset="0.000" stop-color="#323496"/><stop offset="0.453" stop-color="#323496"/><stop offset="0.522" stop-color="#2e3ca1"/><stop offset="0.579" stop-color="#323496"/><stop offset="1.000" stop-color="#323496"/></linearGradient><linearGradient id="g5" x1="0" y1="0" x2="0" y2="1"><stop offset="0.000" stop-color="#323496"/><stop offset="0.428" stop-color="#2f399d"/><stop offset="0.572" stop-color="#323496"/><stop offset="1.000" stop-color="#323496"/></linearGradient><linearGradient id="g6" x1="0" y1="0" x2="0" y2="1"><stop offset="0.000" stop-color="#323497"/><stop offset="0.843" stop-color="#323496"/><stop offset="0.925" stop-color="#2d3da3"/><stop offset="1.000" stop-color="#313597"/></linearGradient><linearGradient id="g7" x1="0" y1="0" x2="0" y2="1"><stop offset="0.000" stop-color="#313699"/><stop offset="0.610" stop-color="#323496"/><stop offset="0.660" stop-color="#2e3ca1"/><stop offset="0.717" stop-color="#323496"/><stop offset="0.792" stop-color="#323496"/><stop offset="0.881" stop-color="#2a43ab"/><stop offset="1.000" stop-color="#31379a"/></linearGradient><linearGradient id="g8" x1="0" y1="0" x2="0" y2="1"><stop offset="0.000" stop-color="#323496"/><stop offset="0.132" stop-color="#2f3b9f"/><stop offset="0.233" stop-color="#323496"/><stop offset="0.365" stop-color="#323496"/><stop offset="0.484" stop-color="#2c41a8"/><stop offset="0.572" stop-color="#323496"/><stop offset="1.000" stop-color="#323496"/></linearGradient><linearGradient id="g9" x1="0" y1="0" x2="0" y2="1"><stop offset="0.000" stop-color="#323496"/><stop offset="0.352" stop-color="#323496"/><stop offset="0.465" stop-color="#274bb5"/><stop offset="0.497" stop-color="#2847b1"/><stop offset="0.560" stop-color="#323496"/><stop offset="0.635" stop-color="#323496"/><stop offset="0.723" stop-color="#2a43ab"/><stop offset="0.799" stop-color="#323496"/><stop offset="1.000" stop-color="#323496"/></linearGradient><linearGradient id="g10" x1="0" y1="0" x2="0" y2="1"><stop offset="0.000" stop-color="#323496"/><stop offset="0.151" stop-color="#30389c"/><stop offset="0.327" stop-color="#323496"/><stop offset="0.478" stop-color="#2c40a7"/><stop offset="0.541" stop-color="#323496"/><stop offset="0.654" stop-color="#323496"/><stop offset="0.736" stop-color="#2946af"/><stop offset="0.843" stop-color="#323496"/><stop offset="1.000" stop-color="#323496"/></linearGradient><linearGradient id="g11" x1="0" y1="0" x2="0" y2="1"><stop offset="0.000" stop-color="#323496"/><stop offset="0.132" stop-color="#2d3fa5"/><stop offset="0.252" stop-color="#30379b"/><stop offset="0.409" stop-color="#2d3da3"/><stop offset="0.491" stop-color="#323496"/><stop offset="0.553" stop-color="#323496"/><stop offset="0.623" stop-color="#2947b0"/><stop offset="0.654" stop-color="#2749b4"/><stop offset="0.767" stop-color="#2946af"/><stop offset="0.899" stop-color="#323496"/><stop offset="1.000" stop-color="#323496"/></linearGradient><linearGradient id="g12" x1="0" y1="0" x2="0" y2="1"><stop offset="0.000" stop-color="#323497"/><stop offset="0.164" stop-color="#2e3da2"/><stop offset="0.509" stop-color="#313598"/><stop offset="0.566" stop-color="#2a43ab"/><stop offset="0.629" stop-color="#1d64cf"/><stop offset="0.692" stop-color="#2352c0"/><stop offset="0.730" stop-color="#2d3ea4"/><stop offset="0.748" stop-color="#2f3ba0"/><stop offset="1.000" stop-color="#323496"/></linearGradient><linearGradient id="g13" x1="0" y1="0" x2="0" y2="1"><stop offset="0.000" stop-color="#323496"/><stop offset="0.151" stop-color="#2f3a9f"/><stop offset="0.283" stop-color="#323496"/><stop offset="0.491" stop-color="#30389c"/><stop offset="0.572" stop-color="#323597"/><stop offset="0.623" stop-color="#2849b3"/><stop offset="0.704" stop-color="#2945ae"/><stop offset="0.748" stop-color="#323496"/><stop offset="1.000" stop-color="#323496"/></linearGradient><linearGradient id="g14" x1="0" y1="0" x2="0" y2="1"><stop offset="0.000" stop-color="#323496"/><stop offset="0.289" stop-color="#30399d"/><stop offset="0.459" stop-color="#323496"/><stop offset="0.547" stop-color="#2e3ba0"/><stop offset="0.616" stop-color="#2351bf"/><stop offset="0.698" stop-color="#2450bd"/><stop offset="0.774" stop-color="#323496"/><stop offset="1.000" stop-color="#323496"/></linearGradient><linearGradient id="g15" x1="0" y1="0" x2="0" y2="1"><stop offset="0.000" stop-color="#323496"/><stop offset="0.522" stop-color="#31379a"/><stop offset="0.572" stop-color="#2254c3"/><stop offset="0.610" stop-color="#177bdd"/><stop offset="0.673" stop-color="#128ce7"/><stop offset="0.692" stop-color="#1391e0"/><stop offset="0.723" stop-color="#1387e5"/><stop offset="0.792" stop-color="#2155c4"/><stop offset="1.000" stop-color="#323496"/></linearGradient><linearGradient id="g16" x1="0" y1="0" x2="0" y2="1"><stop offset="0.000" stop-color="#30379b"/><stop offset="0.358" stop-color="#323496"/><stop offset="0.415" stop-color="#30389c"/><stop offset="0.509" stop-color="#323496"/><stop offset="0.547" stop-color="#274ab5"/><stop offset="0.610" stop-color="#1974d9"/><stop offset="0.692" stop-color="#1778dc"/><stop offset="0.698" stop-color="#128be8"/><stop offset="0.761" stop-color="#2156c5"/><stop offset="0.805" stop-color="#30389c"/><stop offset="1.000" stop-color="#30379b"/></linearGradient><linearGradient id="g17" x1="0" y1="0" x2="0" y2="1"><stop offset="0.000" stop-color="#313699"/><stop offset="0.497" stop-color="#323496"/><stop offset="0.541" stop-color="#2254c2"/><stop offset="0.604" stop-color="#1483e2"/><stop offset="0.679" stop-color="#128ee5"/><stop offset="0.711" stop-color="#167ddf"/><stop offset="0.717" stop-color="#1390e2"/><stop offset="0.723" stop-color="#128ce8"/><stop offset="0.755" stop-color="#1c67d1"/><stop offset="0.805" stop-color="#313698"/><stop offset="1.000" stop-color="#313699"/></linearGradient><linearGradient id="g18" x1="0" y1="0" x2="0" y2="1"><stop offset="0.000" stop-color="#323497"/><stop offset="0.214" stop-color="#2d3da3"/><stop offset="0.321" stop-color="#323496"/><stop offset="0.478" stop-color="#323496"/><stop offset="0.522" stop-color="#1f5ccb"/><stop offset="0.541" stop-color="#1778dc"/><stop offset="0.547" stop-color="#167ee0"/><stop offset="0.553" stop-color="#1877db"/><stop offset="0.572" stop-color="#128ce8"/><stop offset="0.597" stop-color="#159ecb"/><stop offset="0.648" stop-color="#16a3c2"/><stop offset="0.686" stop-color="#15a0c7"/><stop offset="0.717" stop-color="#128de6"/><stop offset="0.730" stop-color="#1485e4"/><stop offset="0.736" stop-color="#159ccd"/><stop offset="0.755" stop-color="#1388e5"/><stop offset="0.767" stop-color="#1876da"/><stop offset="0.780" stop-color="#2059c9"/><stop offset="0.818" stop-color="#323496"/><stop offset="1.000" stop-color="#323497"/></linearGradient><linearGradient id="g19" x1="0" y1="0" x2="0" y2="1"><stop offset="0.000" stop-color="#313598"/><stop offset="0.453" stop-color="#323497"/><stop offset="0.465" stop-color="#30399c"/><stop offset="0.478" stop-color="#2848b2"/><stop offset="0.491" stop-color="#1f5ccb"/><stop offset="0.509" stop-color="#1483e2"/><stop offset="0.516" stop-color="#128fe3"/><stop offset="0.522" stop-color="#177add"/><stop offset="0.547" stop-color="#128ee6"/><stop offset="0.566" stop-color="#159dcd"/><stop offset="0.623" stop-color="#16a3c3"/><stop offset="0.711" stop-color="#149ad2"/><stop offset="0.730" stop-color="#128ce8"/><stop offset="0.755" stop-color="#1779dc"/><stop offset="0.761" stop-color="#1389e6"/><stop offset="0.792" stop-color="#2450bc"/><stop offset="0.830" stop-color="#323496"/><stop offset="1.000" stop-color="#313698"/></linearGradient><linearGradient id="g20" x1="0" y1="0" x2="0" y2="1"><stop offset="0.000" stop-color="#2c3fa6"/><stop offset="0.132" stop-color="#323496"/><stop offset="0.453" stop-color="#323496"/><stop offset="0.478" stop-color="#2254c2"/><stop offset="0.503" stop-color="#1387e5"/><stop offset="0.509" stop-color="#167ddf"/><stop offset="0.522" stop-color="#128ce8"/><stop offset="0.535" stop-color="#1497d6"/><stop offset="0.591" stop-color="#149ad2"/><stop offset="0.730" stop-color="#1390e1"/><stop offset="0.748" stop-color="#1485e4"/><stop offset="0.761" stop-color="#177bdd"/><stop offset="0.774" stop-color="#177add"/><stop offset="0.792" stop-color="#1d64cf"/><stop offset="0.805" stop-color="#2254c2"/><stop offset="0.843" stop-color="#2f3a9e"/><stop offset="0.931" stop-color="#2a44ad"/><stop offset="1.000" stop-color="#2c40a7"/></linearGradient><linearGradient id="g21" x1="0" y1="0" x2="0" y2="1"><stop offset="0.000" stop-color="#2f3ba0"/><stop offset="0.088" stop-color="#323496"/><stop offset="0.440" stop-color="#323597"/><stop offset="0.478" stop-color="#2058c8"/><stop offset="0.516" stop-color="#138ae7"/><stop offset="0.585" stop-color="#1390e1"/><stop offset="0.623" stop-color="#128ce8"/><stop offset="0.698" stop-color="#1582e2"/><stop offset="0.748" stop-color="#1387e5"/><stop offset="0.774" stop-color="#1974d9"/><stop offset="0.786" stop-color="#1973d9"/><stop offset="0.824" stop-color="#1f5dcb"/><stop offset="0.843" stop-color="#2946b0"/><stop offset="0.918" stop-color="#2e3ca2"/><stop offset="1.000" stop-color="#2e3ba0"/></linearGradient><linearGradient id="g22" x1="0" y1="0" x2="0" y2="1"><stop offset="0.000" stop-color="#323496"/><stop offset="0.428" stop-color="#323496"/><stop offset="0.472" stop-color="#1f5bca"/><stop offset="0.503" stop-color="#1582e2"/><stop offset="0.579" stop-color="#128ee5"/><stop offset="0.698" stop-color="#157fe0"/><stop offset="0.761" stop-color="#1582e2"/><stop offset="0.824" stop-color="#1d64cf"/><stop offset="0.843" stop-color="#2a45ad"/><stop offset="0.925" stop-color="#30379b"/><stop offset="1.000" stop-color="#323496"/></linearGradient><linearGradient id="g23" x1="0" y1="0" x2="0" y2="1"><stop offset="0.000" stop-color="#2f399d"/><stop offset="0.075" stop-color="#323496"/><stop offset="0.415" stop-color="#323496"/><stop offset="0.459" stop-color="#1e5ecc"/><stop offset="0.484" stop-color="#1582e2"/><stop offset="0.560" stop-color="#128ce8"/><stop offset="0.686" stop-color="#1875da"/><stop offset="0.774" stop-color="#1877db"/><stop offset="0.811" stop-color="#2059c9"/><stop offset="0.843" stop-color="#323496"/><stop offset="0.881" stop-color="#323496"/><stop offset="0.937" stop-color="#2d3fa5"/><stop offset="1.000" stop-color="#2f3a9e"/></linearGradient><linearGradient id="g24" x1="0" y1="0" x2="0" y2="1"><stop offset="0.000" stop-color="#2f3b9f"/><stop offset="0.088" stop-color="#323496"/><stop offset="0.245" stop-color="#323496"/><stop offset="0.403" stop-color="#2e3ca2"/><stop offset="0.428" stop-color="#2156c5"/><stop offset="0.472" stop-color="#1486e4"/><stop offset="0.509" stop-color="#1387e5"/><stop offset="0.736" stop-color="#1485e4"/><stop offset="0.780" stop-color="#1779dc"/><stop offset="0.805" stop-color="#1e60cd"/><stop offset="0.836" stop-color="#323597"/><stop offset="0.899" stop-color="#323496"/><stop offset="0.943" stop-color="#2d3ea3"/><stop offset="1.000" stop-color="#2f3b9f"/></linearGradient><linearGradient id="g25" x1="0" y1="0" x2="0" y2="1"><stop offset="0.000" stop-color="#2e3ba0"/><stop offset="0.208" stop-color="#323496"/><stop offset="0.314" stop-color="#30389b"/><stop offset="0.396" stop-color="#2351bf"/><stop offset="0.421" stop-color="#1389e6"/><stop offset="0.434" stop-color="#149ad0"/><stop offset="0.440" stop-color="#1485e4"/><stop offset="0.447" stop-color="#128be7"/><stop offset="0.459" stop-color="#1498d5"/><stop offset="0.491" stop-color="#1499d3"/><stop offset="0.547" stop-color="#1394db"/><stop offset="0.648" stop-color="#1394db"/><stop offset="0.736" stop-color="#128be7"/><stop offset="0.799" stop-color="#1b6bd3"/><stop offset="0.836" stop-color="#323496"/><stop offset="0.931" stop-color="#323496"/><stop offset="1.000" stop-color="#2f3ba0"/></linearGradient><linearGradient id="g26" x1="0" y1="0" x2="0" y2="1"><stop offset="0.000" stop-color="#30389c"/><stop offset="0.308" stop-color="#30379b"/><stop offset="0.384" stop-color="#1e5fcd"/><stop offset="0.396" stop-color="#1484e3"/><stop offset="0.403" stop-color="#1393dd"/><stop offset="0.421" stop-color="#1ab4a3"/><stop offset="0.428" stop-color="#128fe3"/><stop offset="0.440" stop-color="#159eca"/><stop offset="0.447" stop-color="#15a1c6"/><stop offset="0.535" stop-color="#1393dd"/><stop offset="0.679" stop-color="#128ce8"/><stop offset="0.742" stop-color="#1485e4"/><stop offset="0.792" stop-color="#1875da"/><stop offset="0.811" stop-color="#2255c4"/><stop offset="0.836" stop-color="#323496"/><stop offset="1.000" stop-color="#30389c"/></linearGradient><linearGradient id="g27" x1="0" y1="0" x2="0" y2="1"><stop offset="0.000" stop-color="#2e3ba0"/><stop offset="0.327" stop-color="#323496"/><stop offset="0.371" stop-color="#2254c2"/><stop offset="0.377" stop-color="#1e60cd"/><stop offset="0.390" stop-color="#1388e6"/><stop offset="0.409" stop-color="#18b2aa"/><stop offset="0.415" stop-color="#128de6"/><stop offset="0.434" stop-color="#15a2c4"/><stop offset="0.566" stop-color="#1394db"/><stop offset="0.572" stop-color="#1499d3"/><stop offset="0.579" stop-color="#16a4c1"/><stop offset="0.597" stop-color="#18b1ab"/><stop offset="0.604" stop-color="#16a4c0"/><stop offset="0.616" stop-color="#15a1c6"/><stop offset="0.642" stop-color="#128ce8"/><stop offset="0.679" stop-color="#1485e4"/><stop offset="0.755" stop-color="#128be8"/><stop offset="0.786" stop-color="#1387e5"/><stop offset="0.799" stop-color="#167cde"/><stop offset="0.818" stop-color="#2254c2"/><stop offset="0.836" stop-color="#30379b"/><stop offset="0.843" stop-color="#323496"/><stop offset="0.887" stop-color="#323496"/><stop offset="0.943" stop-color="#2e3da2"/><stop offset="1.000" stop-color="#2e3ba0"/></linearGradient><linearGradient id="g28" x1="0" y1="0" x2="0" y2="1"><stop offset="0.000" stop-color="#2f3a9e"/><stop offset="0.340" stop-color="#323597"/><stop offset="0.365" stop-color="#2946af"/><stop offset="0.377" stop-color="#1d63cf"/><stop offset="0.390" stop-color="#1486e4"/><stop offset="0.396" stop-color="#1393dc"/><stop offset="0.403" stop-color="#167edf"/><stop offset="0.409" stop-color="#128be8"/><stop offset="0.421" stop-color="#149ad2"/><stop offset="0.497" stop-color="#1394db"/><stop offset="0.535" stop-color="#1498d5"/><stop offset="0.541" stop-color="#16a4c0"/><stop offset="0.547" stop-color="#16a6bd"/><stop offset="0.553" stop-color="#18b2a9"/><stop offset="0.560" stop-color="#25bf86"/><stop offset="0.591" stop-color="#29c37a"/><stop offset="0.648" stop-color="#20ba92"/><stop offset="0.654" stop-color="#18b1ac"/><stop offset="0.660" stop-color="#17adb2"/><stop offset="0.667" stop-color="#149cce"/><stop offset="0.673" stop-color="#1394db"/><stop offset="0.711" stop-color="#128ce7"/><stop offset="0.774" stop-color="#128be7"/><stop offset="0.792" stop-color="#1484e3"/><stop offset="0.818" stop-color="#2254c3"/><stop offset="0.836" stop-color="#30389c"/><stop offset="0.843" stop-color="#323496"/><stop offset="0.918" stop-color="#2c41a8"/><stop offset="1.000" stop-color="#2f3a9e"/></linearGradient><linearGradient id="g29" x1="0" y1="0" x2="0" y2="1"><stop offset="0.000" stop-color="#323496"/><stop offset="0.352" stop-color="#323597"/><stop offset="0.377" stop-color="#1f5dcb"/><stop offset="0.390" stop-color="#1876da"/><stop offset="0.396" stop-color="#1877db"/><stop offset="0.409" stop-color="#128ee5"/><stop offset="0.478" stop-color="#128de6"/><stop offset="0.503" stop-color="#1390e1"/><stop offset="0.516" stop-color="#16a5bf"/><stop offset="0.522" stop-color="#17a9b8"/><stop offset="0.535" stop-color="#22bc8e"/><stop offset="0.585" stop-color="#32c96a"/><stop offset="0.667" stop-color="#1eb897"/><stop offset="0.673" stop-color="#17a9b9"/><stop offset="0.692" stop-color="#1392df"/><stop offset="0.767" stop-color="#1390e2"/><stop offset="0.792" stop-color="#1484e3"/><stop offset="0.811" stop-color="#1f5cca"/><stop offset="0.836" stop-color="#323496"/><stop offset="1.000" stop-color="#323496"/></linearGradient><linearGradient id="g30" x1="0" y1="0" x2="0" y2="1"><stop offset="0.000" stop-color="#323496"/><stop offset="0.346" stop-color="#323496"/><stop offset="0.377" stop-color="#2058c8"/><stop offset="0.390" stop-color="#1a6fd6"/><stop offset="0.403" stop-color="#1580e1"/><stop offset="0.434" stop-color="#128ce8"/><stop offset="0.491" stop-color="#1390e2"/><stop offset="0.509" stop-color="#1eb898"/><stop offset="0.566" stop-color="#2fc86a"/><stop offset="0.579" stop-color="#3acb6b"/><stop offset="0.591" stop-color="#2ec86b"/><stop offset="0.679" stop-color="#1bb5a3"/><stop offset="0.692" stop-color="#17abb5"/><stop offset="0.698" stop-color="#1498d5"/><stop offset="0.711" stop-color="#1390e2"/><stop offset="0.761" stop-color="#128ce8"/><stop offset="0.792" stop-color="#167bde"/><stop offset="0.811" stop-color="#2155c4"/><stop offset="0.830" stop-color="#30389c"/><stop offset="0.836" stop-color="#323496"/><stop offset="1.000" stop-color="#323496"/></linearGradient><linearGradient id="g31" x1="0" y1="0" x2="0" y2="1"><stop offset="0.000" stop-color="#323496"/><stop offset="0.333" stop-color="#323496"/><stop offset="0.340" stop-color="#313699"/><stop offset="0.365" stop-color="#2156c6"/><stop offset="0.384" stop-color="#177add"/><stop offset="0.403" stop-color="#128be7"/><stop offset="0.434" stop-color="#1393dd"/><stop offset="0.478" stop-color="#1393dc"/><stop offset="0.484" stop-color="#15a1c5"/><stop offset="0.491" stop-color="#1eb899"/><stop offset="0.509" stop-color="#24be86"/><stop offset="0.547" stop-color="#2cc66f"/><stop offset="0.579" stop-color="#35c96a"/><stop offset="0.642" stop-color="#26c080"/><stop offset="0.673" stop-color="#1db79c"/><stop offset="0.698" stop-color="#19b3a7"/><stop offset="0.704" stop-color="#16a3c3"/><stop offset="0.717" stop-color="#128ce8"/><stop offset="0.767" stop-color="#128be7"/><stop offset="0.792" stop-color="#1582e2"/><stop offset="0.811" stop-color="#1f5ac9"/><stop offset="0.836" stop-color="#323597"/><stop offset="0.899" stop-color="#2f3a9e"/><stop offset="1.000" stop-color="#323496"/></linearGradient><linearGradient id="g32" x1="0" y1="0" x2="0" y2="1"><stop offset="0.000" stop-color="#313598"/><stop offset="0.327" stop-color="#323496"/><stop offset="0.358" stop-color="#1f5ccb"/><stop offset="0.377" stop-color="#1582e2"/><stop offset="0.390" stop-color="#128ce8"/><stop offset="0.409" stop-color="#1395d9"/><stop offset="0.465" stop-color="#16a4c1"/><stop offset="0.478" stop-color="#2ac477"/><stop offset="0.491" stop-color="#33c96a"/><stop offset="0.503" stop-color="#69d56d"/><stop offset="0.516" stop-color="#7cd96f"/><stop offset="0.522" stop-color="#91dc74"/><stop offset="0.541" stop-color="#9fdf78"/><stop offset="0.572" stop-color="#75d76e"/><stop offset="0.635" stop-color="#2ec86b"/><stop offset="0.704" stop-color="#17adb3"/><stop offset="0.711" stop-color="#149ad0"/><stop offset="0.717" stop-color="#1388e5"/><stop offset="0.723" stop-color="#1484e3"/><stop offset="0.792" stop-color="#1389e6"/><stop offset="0.818" stop-color="#1f5dcb"/><stop offset="0.836" stop-color="#2c40a6"/><stop offset="1.000" stop-color="#313598"/></linearGradient><linearGradient id="g33" x1="0" y1="0" x2="0" y2="1"><stop offset="0.000" stop-color="#30389b"/><stop offset="0.057" stop-color="#2e3ca1"/><stop offset="0.170" stop-color="#323496"/><stop offset="0.314" stop-color="#323496"/><stop offset="0.346" stop-color="#2058c8"/><stop offset="0.371" stop-color="#1581e1"/><stop offset="0.396" stop-color="#128ce8"/><stop offset="0.434" stop-color="#1390e2"/><stop offset="0.447" stop-color="#1392de"/><stop offset="0.453" stop-color="#159cce"/><stop offset="0.459" stop-color="#1ab4a4"/><stop offset="0.465" stop-color="#21bb91"/><stop offset="0.484" stop-color="#2dc76d"/><stop offset="0.497" stop-color="#6dd66d"/><stop offset="0.503" stop-color="#93dc75"/><stop offset="0.522" stop-color="#d2e786"/><stop offset="0.560" stop-color="#dee688"/><stop offset="0.604" stop-color="#d7e887"/><stop offset="0.642" stop-color="#73d76e"/><stop offset="0.654" stop-color="#5ed26d"/><stop offset="0.673" stop-color="#2dc76c"/><stop offset="0.711" stop-color="#19b3a6"/><stop offset="0.723" stop-color="#128ee5"/><stop offset="0.792" stop-color="#1486e4"/><stop offset="0.811" stop-color="#1f5dcb"/><stop offset="0.830" stop-color="#2f399e"/><stop offset="0.836" stop-color="#323496"/><stop offset="1.000" stop-color="#30379a"/></linearGradient><linearGradient id="g34" x1="0" y1="0" x2="0" y2="1"><stop offset="0.000" stop-color="#313598"/><stop offset="0.308" stop-color="#323497"/><stop offset="0.333" stop-color="#205ac9"/><stop offset="0.358" stop-color="#1388e6"/><stop offset="0.434" stop-color="#1394da"/><stop offset="0.453" stop-color="#22bc8d"/><stop offset="0.472" stop-color="#2fc86a"/><stop offset="0.491" stop-color="#91dc75"/><stop offset="0.516" stop-color="#d7e887"/><stop offset="0.553" stop-color="#dfe689"/><stop offset="0.591" stop-color="#d8e887"/><stop offset="0.597" stop-color="#cfe785"/><stop offset="0.623" stop-color="#7bd96f"/><stop offset="0.673" stop-color="#31c96a"/><stop offset="0.686" stop-color="#2ac474"/><stop offset="0.717" stop-color="#1ab4a4"/><stop offset="0.730" stop-color="#1390e2"/><stop offset="0.792" stop-color="#138ae7"/><stop offset="0.811" stop-color="#2156c6"/><stop offset="0.830" stop-color="#323496"/><stop offset="1.000" stop-color="#313597"/></linearGradient><linearGradient id="g35" x1="0" y1="0" x2="0" y2="1"><stop offset="0.000" stop-color="#313699"/><stop offset="0.170" stop-color="#2f399d"/><stop offset="0.296" stop-color="#2352bf"/><stop offset="0.302" stop-color="#1f5ccb"/><stop offset="0.314" stop-color="#1581e1"/><stop offset="0.321" stop-color="#1391df"/><stop offset="0.327" stop-color="#159dcd"/><stop offset="0.333" stop-color="#1486e4"/><stop offset="0.340" stop-color="#1391e1"/><stop offset="0.346" stop-color="#159eca"/><stop offset="0.371" stop-color="#16a6bd"/><stop offset="0.421" stop-color="#16a8bb"/><stop offset="0.428" stop-color="#1bb5a2"/><stop offset="0.434" stop-color="#2dc76c"/><stop offset="0.447" stop-color="#41cc6b"/><stop offset="0.459" stop-color="#78d86e"/><stop offset="0.465" stop-color="#a9e07b"/><stop offset="0.472" stop-color="#c5e582"/><stop offset="0.478" stop-color="#d5e886"/><stop offset="0.547" stop-color="#76d86e"/><stop offset="0.623" stop-color="#2ec86b"/><stop offset="0.686" stop-color="#2bc572"/><stop offset="0.723" stop-color="#1cb69e"/><stop offset="0.736" stop-color="#1390e1"/><stop offset="0.774" stop-color="#128de6"/><stop offset="0.786" stop-color="#1485e4"/><stop offset="0.792" stop-color="#1878db"/><stop offset="0.805" stop-color="#2156c5"/><stop offset="0.824" stop-color="#323496"/><stop offset="1.000" stop-color="#313699"/></linearGradient><linearGradient id="g36" x1="0" y1="0" x2="0" y2="1"><stop offset="0.000" stop-color="#30399d"/><stop offset="0.245" stop-color="#2c3fa5"/><stop offset="0.283" stop-color="#2945ae"/><stop offset="0.289" stop-color="#2848b2"/><stop offset="0.296" stop-color="#2155c4"/><stop offset="0.314" stop-color="#128de6"/><stop offset="0.321" stop-color="#159ecb"/><stop offset="0.327" stop-color="#138ae7"/><stop offset="0.340" stop-color="#159eca"/><stop offset="0.358" stop-color="#16a7bc"/><stop offset="0.409" stop-color="#17abb5"/><stop offset="0.415" stop-color="#18afae"/><stop offset="0.421" stop-color="#39ca6b"/><stop offset="0.428" stop-color="#44cd6b"/><stop offset="0.434" stop-color="#5bd26c"/><stop offset="0.440" stop-color="#7dd96f"/><stop offset="0.453" stop-color="#d9e887"/><stop offset="0.491" stop-color="#d8e887"/><stop offset="0.503" stop-color="#c4e582"/><stop offset="0.535" stop-color="#73d76e"/><stop offset="0.572" stop-color="#39ca6b"/><stop offset="0.585" stop-color="#2dc76c"/><stop offset="0.629" stop-color="#29c378"/><stop offset="0.692" stop-color="#2bc572"/><stop offset="0.723" stop-color="#1db79a"/><stop offset="0.736" stop-color="#1390e1"/><stop offset="0.761" stop-color="#1391e1"/><stop offset="0.774" stop-color="#128be8"/><stop offset="0.780" stop-color="#1388e6"/><stop offset="0.799" stop-color="#1f5cca"/><stop offset="0.818" stop-color="#30379b"/><stop offset="0.824" stop-color="#323496"/><stop offset="1.000" stop-color="#30399c"/></linearGradient><linearGradient id="g37" x1="0" y1="0" x2="0" y2="1"><stop offset="0.000" stop-color="#323496"/><stop offset="0.094" stop-color="#323496"/><stop offset="0.201" stop-color="#274ab5"/><stop offset="0.277" stop-color="#2f3a9f"/><stop offset="0.289" stop-color="#2a44ac"/><stop offset="0.302" stop-color="#2157c6"/><stop offset="0.327" stop-color="#138ae7"/><stop offset="0.358" stop-color="#1497d6"/><stop offset="0.403" stop-color="#149bcf"/><stop offset="0.409" stop-color="#19b3a8"/><stop offset="0.415" stop-color="#26c082"/><stop offset="0.428" stop-color="#38ca6b"/><stop offset="0.440" stop-color="#78d86e"/><stop offset="0.447" stop-color="#9fdf78"/><stop offset="0.453" stop-color="#b3e27e"/><stop offset="0.478" stop-color="#d6e887"/><stop offset="0.535" stop-color="#d7e887"/><stop offset="0.553" stop-color="#b7e37f"/><stop offset="0.579" stop-color="#7ed970"/><stop offset="0.591" stop-color="#6ed66d"/><stop offset="0.635" stop-color="#51d06c"/><stop offset="0.692" stop-color="#49ce6b"/><stop offset="0.704" stop-color="#33c96a"/><stop offset="0.711" stop-color="#2cc671"/><stop offset="0.730" stop-color="#1ab4a5"/><stop offset="0.736" stop-color="#1496d8"/><stop offset="0.761" stop-color="#1496d8"/><stop offset="0.780" stop-color="#128be8"/><stop offset="0.786" stop-color="#177add"/><stop offset="0.792" stop-color="#177bde"/><stop offset="0.805" stop-color="#2059c9"/><stop offset="0.818" stop-color="#2a45ad"/><stop offset="0.931" stop-color="#323497"/><stop offset="1.000" stop-color="#323496"/></linearGradient><linearGradient id="g38" x1="0" y1="0" x2="0" y2="1"><stop offset="0.000" stop-color="#323496"/><stop offset="0.119" stop-color="#323496"/><stop offset="0.220" stop-color="#2351bf"/><stop offset="0.270" stop-color="#2352bf"/><stop offset="0.302" stop-color="#128ce8"/><stop offset="0.308" stop-color="#167edf"/><stop offset="0.314" stop-color="#1389e6"/><stop offset="0.321" stop-color="#1394dc"/><stop offset="0.346" stop-color="#1497d5"/><stop offset="0.390" stop-color="#1393dd"/><stop offset="0.403" stop-color="#1eb898"/><stop offset="0.409" stop-color="#20ba92"/><stop offset="0.428" stop-color="#31c96a"/><stop offset="0.434" stop-color="#43cd6b"/><stop offset="0.440" stop-color="#49ce6b"/><stop offset="0.509" stop-color="#77d86e"/><stop offset="0.528" stop-color="#79d86e"/><stop offset="0.585" stop-color="#67d46d"/><stop offset="0.623" stop-color="#70d66e"/><stop offset="0.635" stop-color="#79d86e"/><stop offset="0.679" stop-color="#bde480"/><stop offset="0.698" stop-color="#cde684"/><stop offset="0.704" stop-color="#b9e37f"/><stop offset="0.711" stop-color="#72d76e"/><stop offset="0.717" stop-color="#46cd6b"/><stop offset="0.723" stop-color="#2cc66f"/><stop offset="0.730" stop-color="#27c17d"/><stop offset="0.736" stop-color="#15a2c5"/><stop offset="0.767" stop-color="#1498d4"/><stop offset="0.774" stop-color="#1390e1"/><stop offset="0.780" stop-color="#1580e1"/><stop offset="0.786" stop-color="#128de7"/><stop offset="0.805" stop-color="#2156c5"/><stop offset="0.811" stop-color="#264cb8"/><stop offset="0.862" stop-color="#274ab4"/><stop offset="0.943" stop-color="#2f399d"/><stop offset="1.000" stop-color="#323496"/></linearGradient><linearGradient id="g39" x1="0" y1="0" x2="0" y2="1"><stop offset="0.000" stop-color="#323496"/><stop offset="0.214" stop-color="#323496"/><stop offset="0.233" stop-color="#30389c"/><stop offset="0.264" stop-color="#2946af"/><stop offset="0.277" stop-color="#1e60cd"/><stop offset="0.289" stop-color="#1486e4"/><stop offset="0.296" stop-color="#1394dc"/><stop offset="0.302" stop-color="#1388e5"/><stop offset="0.308" stop-color="#1496d8"/><stop offset="0.333" stop-color="#15a2c5"/><stop offset="0.377" stop-color="#15a1c5"/><stop offset="0.384" stop-color="#17abb5"/><stop offset="0.396" stop-color="#2ac475"/><stop offset="0.403" stop-color="#2ec86b"/><stop offset="0.421" stop-color="#91dc75"/><stop offset="0.428" stop-color="#95dd76"/><stop offset="0.491" stop-color="#66d46d"/><stop offset="0.535" stop-color="#2dc76b"/><stop offset="0.572" stop-color="#25bf83"/><stop offset="0.604" stop-color="#23bd8a"/><stop offset="0.635" stop-color="#26c082"/><stop offset="0.673" stop-color="#2dc76c"/><stop offset="0.698" stop-color="#4ecf6c"/><stop offset="0.704" stop-color="#4ccf6c"/><stop offset="0.711" stop-color="#37ca6a"/><stop offset="0.717" stop-color="#2ac475"/><stop offset="0.723" stop-color="#25bf83"/><stop offset="0.730" stop-color="#24be87"/><stop offset="0.736" stop-color="#159fc9"/><stop offset="0.761" stop-color="#1499d3"/><stop offset="0.774" stop-color="#1387e5"/><stop offset="0.780" stop-color="#1498d4"/><stop offset="0.786" stop-color="#128be8"/><stop offset="0.805" stop-color="#2157c6"/><stop offset="1.000" stop-color="#323496"/></linearGradient><linearGradient id="g40" x1="0" y1="0" x2="0" y2="1"><stop offset="0.000" stop-color="#323496"/><stop offset="0.252" stop-color="#30389b"/><stop offset="0.258" stop-color="#2d3fa5"/><stop offset="0.270" stop-color="#2057c7"/><stop offset="0.283" stop-color="#177bdd"/><stop offset="0.289" stop-color="#1779dd"/><stop offset="0.296" stop-color="#1486e4"/><stop offset="0.302" stop-color="#1496d8"/><stop offset="0.327" stop-color="#16a3c3"/><stop offset="0.371" stop-color="#17abb5"/><stop offset="0.377" stop-color="#24be87"/><stop offset="0.384" stop-color="#32c96a"/><stop offset="0.390" stop-color="#47cd6b"/><stop offset="0.396" stop-color="#70d66e"/><stop offset="0.409" stop-color="#d1e785"/><stop offset="0.415" stop-color="#d8e887"/><stop offset="0.421" stop-color="#d0e785"/><stop offset="0.459" stop-color="#76d86e"/><stop offset="0.491" stop-color="#53d06c"/><stop offset="0.509" stop-color="#6dd66d"/><stop offset="0.522" stop-color="#71d76e"/><stop offset="0.528" stop-color="#65d46d"/><stop offset="0.535" stop-color="#4bce6c"/><stop offset="0.547" stop-color="#41cc6b"/><stop offset="0.553" stop-color="#2ec86a"/><stop offset="0.704" stop-color="#2ec86b"/><stop offset="0.730" stop-color="#1eb89a"/><stop offset="0.736" stop-color="#1394db"/><stop offset="0.761" stop-color="#1390e2"/><stop offset="0.767" stop-color="#1580e0"/><stop offset="0.774" stop-color="#1485e4"/><stop offset="0.799" stop-color="#254ebb"/><stop offset="0.836" stop-color="#254fbb"/><stop offset="1.000" stop-color="#323496"/></linearGradient><linearGradient id="g41" x1="0" y1="0" x2="0" y2="1"><stop offset="0.000" stop-color="#323496"/><stop offset="0.189" stop-color="#323496"/><stop offset="0.245" stop-color="#2a44ac"/><stop offset="0.258" stop-color="#1f5ccb"/><stop offset="0.270" stop-color="#1581e1"/><stop offset="0.277" stop-color="#138fe3"/><stop offset="0.283" stop-color="#1581e1"/><stop offset="0.289" stop-color="#1390e1"/><stop offset="0.296" stop-color="#1497d5"/><stop offset="0.308" stop-color="#149ccf"/><stop offset="0.358" stop-color="#149ad1"/><stop offset="0.365" stop-color="#17abb5"/><stop offset="0.371" stop-color="#23bd89"/><stop offset="0.390" stop-color="#2ec86a"/><stop offset="0.396" stop-color="#49ce6b"/><stop offset="0.403" stop-color="#53d06c"/><stop offset="0.459" stop-color="#32c96a"/><stop offset="0.465" stop-color="#4bce6c"/><stop offset="0.478" stop-color="#93dc75"/><stop offset="0.484" stop-color="#a5e07a"/><stop offset="0.491" stop-color="#a9e07b"/><stop offset="0.497" stop-color="#d8e887"/><stop offset="0.516" stop-color="#e0e689"/><stop offset="0.547" stop-color="#d7e887"/><stop offset="0.560" stop-color="#bbe380"/><stop offset="0.572" stop-color="#8cdb73"/><stop offset="0.585" stop-color="#80d970"/><stop offset="0.591" stop-color="#6ed66d"/><stop offset="0.623" stop-color="#73d76e"/><stop offset="0.673" stop-color="#59d16c"/><stop offset="0.698" stop-color="#57d16c"/><stop offset="0.704" stop-color="#50cf6c"/><stop offset="0.711" stop-color="#2ec86b"/><stop offset="0.723" stop-color="#22bc8c"/><stop offset="0.730" stop-color="#159fca"/><stop offset="0.755" stop-color="#1394dc"/><stop offset="0.761" stop-color="#1485e4"/><stop offset="0.767" stop-color="#138fe3"/><stop offset="0.774" stop-color="#1580e1"/><stop offset="0.792" stop-color="#254eba"/><stop offset="0.906" stop-color="#2e3ba0"/><stop offset="1.000" stop-color="#323496"/></linearGradient><linearGradient id="g42" x1="0" y1="0" x2="0" y2="1"><stop offset="0.000" stop-color="#323496"/><stop offset="0.239" stop-color="#313597"/><stop offset="0.264" stop-color="#1e5ecb"/><stop offset="0.283" stop-color="#1387e5"/><stop offset="0.308" stop-color="#1394db"/><stop offset="0.346" stop-color="#1390e2"/><stop offset="0.352" stop-color="#149ad1"/><stop offset="0.358" stop-color="#1ab4a5"/><stop offset="0.390" stop-color="#27c17e"/><stop offset="0.440" stop-color="#24be86"/><stop offset="0.447" stop-color="#42cc6b"/><stop offset="0.459" stop-color="#83da71"/><stop offset="0.465" stop-color="#c1e481"/><stop offset="0.472" stop-color="#dde788"/><stop offset="0.503" stop-color="#eee28c"/><stop offset="0.516" stop-color="#e9d689"/><stop offset="0.522" stop-color="#ede38b"/><stop offset="0.579" stop-color="#d7e887"/><stop offset="0.591" stop-color="#84da71"/><stop offset="0.597" stop-color="#45cd6b"/><stop offset="0.604" stop-color="#31c96a"/><stop offset="0.692" stop-color="#45cd6b"/><stop offset="0.698" stop-color="#44cd6b"/><stop offset="0.704" stop-color="#2cc66f"/><stop offset="0.717" stop-color="#20ba93"/><stop offset="0.723" stop-color="#159fc9"/><stop offset="0.730" stop-color="#1394db"/><stop offset="0.748" stop-color="#128ee5"/><stop offset="0.767" stop-color="#1d64cf"/><stop offset="0.786" stop-color="#2e3ca1"/><stop offset="0.792" stop-color="#2f3a9e"/><stop offset="1.000" stop-color="#323496"/></linearGradient><linearGradient id="g43" x1="0" y1="0" x2="0" y2="1"><stop offset="0.000" stop-color="#323496"/><stop offset="0.226" stop-color="#323496"/><stop offset="0.252" stop-color="#2155c4"/><stop offset="0.277" stop-color="#1387e5"/><stop offset="0.340" stop-color="#128ee5"/><stop offset="0.346" stop-color="#18b2aa"/><stop offset="0.377" stop-color="#2bc572"/><stop offset="0.421" stop-color="#2dc76c"/><stop offset="0.428" stop-color="#58d16c"/><stop offset="0.434" stop-color="#75d76e"/><stop offset="0.440" stop-color="#c2e481"/><stop offset="0.447" stop-color="#e1e689"/><stop offset="0.453" stop-color="#eae48b"/><stop offset="0.459" stop-color="#e9d789"/><stop offset="0.465" stop-color="#cdac7e"/><stop offset="0.472" stop-color="#bd9876"/><stop offset="0.478" stop-color="#997460"/><stop offset="0.484" stop-color="#9a7561"/><stop offset="0.491" stop-color="#8c6858"/><stop offset="0.497" stop-color="#886456"/><stop offset="0.535" stop-color="#8a6657"/><stop offset="0.541" stop-color="#987460"/><stop offset="0.547" stop-color="#96715e"/><stop offset="0.553" stop-color="#be9977"/><stop offset="0.560" stop-color="#dbc183"/><stop offset="0.566" stop-color="#dac083"/><stop offset="0.572" stop-color="#eddd8b"/><stop offset="0.585" stop-color="#e8e48a"/><stop offset="0.591" stop-color="#dae788"/><stop offset="0.597" stop-color="#8adb73"/><stop offset="0.604" stop-color="#47cd6b"/><stop offset="0.610" stop-color="#34c96a"/><stop offset="0.692" stop-color="#31c96a"/><stop offset="0.698" stop-color="#2ac476"/><stop offset="0.711" stop-color="#1cb69d"/><stop offset="0.717" stop-color="#159dcc"/><stop offset="0.723" stop-color="#128ee4"/><stop offset="0.730" stop-color="#128ce7"/><stop offset="0.742" stop-color="#1387e5"/><stop offset="0.748" stop-color="#1779dc"/><stop offset="0.761" stop-color="#2058c8"/><stop offset="0.780" stop-color="#30379b"/><stop offset="0.786" stop-color="#323496"/><stop offset="1.000" stop-color="#323496"/></linearGradient><linearGradient id="g44" x1="0" y1="0" x2="0" y2="1"><stop offset="0.000" stop-color="#323496"/><stop offset="0.220" stop-color="#323496"/><stop offset="0.245" stop-color="#2057c7"/><stop offset="0.270" stop-color="#1387e5"/><stop offset="0.327" stop-color="#1391e0"/><stop offset="0.333" stop-color="#15a1c6"/><stop offset="0.340" stop-color="#1db79b"/><stop offset="0.358" stop-color="#2cc670"/><stop offset="0.371" stop-color="#49ce6b"/><stop offset="0.403" stop-color="#4ecf6c"/><stop offset="0.409" stop-color="#7cd96f"/><stop offset="0.415" stop-color="#cfe785"/><stop offset="0.434" stop-color="#eee38c"/><stop offset="0.440" stop-color="#d2b480"/><stop offset="0.447" stop-color="#886456"/><stop offset="0.503" stop-color="#957365"/><stop offset="0.566" stop-color="#886456"/><stop offset="0.579" stop-color="#9e7a63"/><stop offset="0.585" stop-color="#e5d188"/><stop offset="0.591" stop-color="#e5e58a"/><stop offset="0.597" stop-color="#d7e887"/><stop offset="0.610" stop-color="#65d46d"/><stop offset="0.616" stop-color="#2bc573"/><stop offset="0.686" stop-color="#32c96a"/><stop offset="0.692" stop-color="#2dc76d"/><stop offset="0.704" stop-color="#20ba92"/><stop offset="0.717" stop-color="#1393dc"/><stop offset="0.736" stop-color="#128ee5"/><stop offset="0.755" stop-color="#1d65d0"/><stop offset="0.774" stop-color="#2e3ba0"/><stop offset="0.780" stop-color="#323597"/><stop offset="1.000" stop-color="#323496"/></linearGradient><linearGradient id="g45" x1="0" y1="0" x2="0" y2="1"><stop offset="0.000" stop-color="#323496"/><stop offset="0.157" stop-color="#313698"/><stop offset="0.208" stop-color="#2e3ca2"/><stop offset="0.214" stop-color="#2d3fa5"/><stop offset="0.220" stop-color="#264bb7"/><stop offset="0.226" stop-color="#2059c8"/><stop offset="0.245" stop-color="#128ae7"/><stop offset="0.252" stop-color="#1485e4"/><stop offset="0.258" stop-color="#1395d9"/><stop offset="0.283" stop-color="#159ecb"/><stop offset="0.321" stop-color="#15a1c6"/><stop offset="0.327" stop-color="#21bb90"/><stop offset="0.333" stop-color="#29c379"/><stop offset="0.340" stop-color="#2dc76e"/><stop offset="0.352" stop-color="#6ed66d"/><stop offset="0.358" stop-color="#84da71"/><stop offset="0.384" stop-color="#70d66e"/><stop offset="0.390" stop-color="#99dd77"/><stop offset="0.396" stop-color="#d9e887"/><stop offset="0.409" stop-color="#eee28c"/><stop offset="0.421" stop-color="#c49e7a"/><stop offset="0.428" stop-color="#886456"/><stop offset="0.478" stop-color="#967466"/><stop offset="0.572" stop-color="#8a6759"/><stop offset="0.579" stop-color="#95715e"/><stop offset="0.585" stop-color="#b99474"/><stop offset="0.591" stop-color="#efe28c"/><stop offset="0.604" stop-color="#dde788"/><stop offset="0.610" stop-color="#6cd56d"/><stop offset="0.616" stop-color="#2ac476"/><stop offset="0.660" stop-color="#2ec86b"/><stop offset="0.673" stop-color="#36ca6a"/><stop offset="0.686" stop-color="#2cc66f"/><stop offset="0.704" stop-color="#1eb897"/><stop offset="0.711" stop-color="#1497d6"/><stop offset="0.730" stop-color="#1392df"/><stop offset="0.736" stop-color="#1389e6"/><stop offset="0.742" stop-color="#1877db"/><stop offset="0.748" stop-color="#1a6fd6"/><stop offset="0.755" stop-color="#1f5bca"/><stop offset="0.774" stop-color="#323597"/><stop offset="1.000" stop-color="#323496"/></linearGradient><linearGradient id="g46" x1="0" y1="0" x2="0" y2="1"><stop offset="0.000" stop-color="#323496"/><stop offset="0.208" stop-color="#323496"/><stop offset="0.214" stop-color="#30399c"/><stop offset="0.233" stop-color="#2057c7"/><stop offset="0.252" stop-color="#1581e1"/><stop offset="0.264" stop-color="#128be8"/><stop offset="0.308" stop-color="#159fca"/><stop offset="0.314" stop-color="#19b3a8"/><stop offset="0.321" stop-color="#2ac476"/><stop offset="0.327" stop-color="#32c96a"/><stop offset="0.333" stop-color="#5ed26d"/><stop offset="0.340" stop-color="#95dd76"/><stop offset="0.346" stop-color="#d8e887"/><stop offset="0.377" stop-color="#dae788"/><stop offset="0.390" stop-color="#efe28c"/><stop offset="0.396" stop-color="#caa87d"/><stop offset="0.409" stop-color="#8d695b"/><stop offset="0.440" stop-color="#947163"/><stop offset="0.579" stop-color="#8b6759"/><stop offset="0.585" stop-color="#906c5b"/><stop offset="0.591" stop-color="#ac876c"/><stop offset="0.597" stop-color="#dfc785"/><stop offset="0.604" stop-color="#e5e58a"/><stop offset="0.610" stop-color="#a1df79"/><stop offset="0.616" stop-color="#37ca6a"/><stop offset="0.660" stop-color="#4bce6c"/><stop offset="0.673" stop-color="#2dc76c"/><stop offset="0.698" stop-color="#22bc8d"/><stop offset="0.704" stop-color="#159dcd"/><stop offset="0.730" stop-color="#1386e5"/><stop offset="0.748" stop-color="#2057c7"/><stop offset="0.761" stop-color="#2e3ca1"/><stop offset="0.767" stop-color="#323496"/><stop offset="1.000" stop-color="#323496"/></linearGradient><linearGradient id="g47" x1="0" y1="0" x2="0" y2="1"><stop offset="0.000" stop-color="#323496"/><stop offset="0.201" stop-color="#323496"/><stop offset="0.226" stop-color="#2255c3"/><stop offset="0.245" stop-color="#1778dc"/><stop offset="0.277" stop-color="#128de7"/><stop offset="0.296" stop-color="#1393dd"/><stop offset="0.302" stop-color="#149cce"/><stop offset="0.308" stop-color="#19b3a7"/><stop offset="0.314" stop-color="#24be87"/><stop offset="0.321" stop-color="#2ac477"/><stop offset="0.327" stop-color="#41cc6b"/><stop offset="0.333" stop-color="#66d46d"/><stop offset="0.340" stop-color="#7fd970"/><stop offset="0.352" stop-color="#8adb73"/><stop offset="0.365" stop-color="#dae788"/><stop offset="0.377" stop-color="#f0e18c"/><stop offset="0.384" stop-color="#c7a27b"/><stop offset="0.396" stop-color="#8d695b"/><stop offset="0.421" stop-color="#947264"/><stop offset="0.491" stop-color="#8c695b"/><stop offset="0.547" stop-color="#947163"/><stop offset="0.585" stop-color="#8a6557"/><stop offset="0.591" stop-color="#b28d6f"/><stop offset="0.597" stop-color="#ead889"/><stop offset="0.604" stop-color="#dee688"/><stop offset="0.610" stop-color="#72d76e"/><stop offset="0.616" stop-color="#2ac477"/><stop offset="0.648" stop-color="#28c27a"/><stop offset="0.679" stop-color="#1ab4a5"/><stop offset="0.686" stop-color="#19b3a6"/><stop offset="0.698" stop-color="#128de6"/><stop offset="0.704" stop-color="#128ce7"/><stop offset="0.717" stop-color="#1388e5"/><stop offset="0.730" stop-color="#1972d8"/><stop offset="0.742" stop-color="#2254c2"/><stop offset="0.761" stop-color="#323496"/><stop offset="1.000" stop-color="#323496"/></linearGradient><linearGradient id="g48" x1="0" y1="0" x2="0" y2="1"><stop offset="0.000" stop-color="#323496"/><stop offset="0.189" stop-color="#323496"/><stop offset="0.214" stop-color="#2253c2"/><stop offset="0.233" stop-color="#167ddf"/><stop offset="0.258" stop-color="#1387e5"/><stop offset="0.289" stop-color="#1388e6"/><stop offset="0.302" stop-color="#18b2a9"/><stop offset="0.327" stop-color="#2bc572"/><stop offset="0.340" stop-color="#2dc76d"/><stop offset="0.346" stop-color="#6ed66d"/><stop offset="0.352" stop-color="#b8e37f"/><stop offset="0.358" stop-color="#e2e589"/><stop offset="0.365" stop-color="#ebe38b"/><stop offset="0.371" stop-color="#d1b17f"/><stop offset="0.377" stop-color="#96715e"/><stop offset="0.384" stop-color="#8a6658"/><stop offset="0.409" stop-color="#957264"/><stop offset="0.484" stop-color="#916e60"/><stop offset="0.541" stop-color="#9a796c"/><stop offset="0.553" stop-color="#8d6a5c"/><stop offset="0.566" stop-color="#886456"/><stop offset="0.579" stop-color="#886557"/><stop offset="0.585" stop-color="#a27d65"/><stop offset="0.591" stop-color="#d5b981"/><stop offset="0.597" stop-color="#e7e48a"/><stop offset="0.604" stop-color="#d8e887"/><stop offset="0.610" stop-color="#53d06c"/><stop offset="0.616" stop-color="#20ba92"/><stop offset="0.635" stop-color="#21bb90"/><stop offset="0.673" stop-color="#17a9b9"/><stop offset="0.679" stop-color="#1391e0"/><stop offset="0.686" stop-color="#1582e2"/><stop offset="0.692" stop-color="#1582e2"/><stop offset="0.717" stop-color="#1779dc"/><stop offset="0.730" stop-color="#1f5ac9"/><stop offset="0.755" stop-color="#323496"/><stop offset="1.000" stop-color="#323496"/></linearGradient><linearGradient id="g49" x1="0" y1="0" x2="0" y2="1"><stop offset="0.000" stop-color="#313598"/><stop offset="0.094" stop-color="#2f399d"/><stop offset="0.182" stop-color="#323496"/><stop offset="0.208" stop-color="#2059c9"/><stop offset="0.226" stop-color="#167fe0"/><stop offset="0.277" stop-color="#138ae6"/><stop offset="0.283" stop-color="#1394db"/><stop offset="0.289" stop-color="#18b1ac"/><stop offset="0.314" stop-color="#2dc76d"/><stop offset="0.327" stop-color="#45cd6b"/><stop offset="0.333" stop-color="#85da71"/><stop offset="0.340" stop-color="#dde688"/><stop offset="0.346" stop-color="#eee28c"/><stop offset="0.352" stop-color="#d4b680"/><stop offset="0.358" stop-color="#896557"/><stop offset="0.377" stop-color="#937163"/><stop offset="0.390" stop-color="#a48579"/><stop offset="0.428" stop-color="#a38477"/><stop offset="0.459" stop-color="#ac8f84"/><stop offset="0.478" stop-color="#bba299"/><stop offset="0.484" stop-color="#baa197"/><stop offset="0.528" stop-color="#d4c2bc"/><stop offset="0.535" stop-color="#d4c1bc"/><stop offset="0.541" stop-color="#b99f96"/><stop offset="0.553" stop-color="#967466"/><stop offset="0.585" stop-color="#8a6658"/><stop offset="0.591" stop-color="#b48f70"/><stop offset="0.597" stop-color="#ede38b"/><stop offset="0.604" stop-color="#b8e37f"/><stop offset="0.610" stop-color="#2ac475"/><stop offset="0.660" stop-color="#18b2aa"/><stop offset="0.667" stop-color="#149bd0"/><stop offset="0.673" stop-color="#128ce8"/><stop offset="0.692" stop-color="#128de6"/><stop offset="0.711" stop-color="#1483e3"/><stop offset="0.730" stop-color="#2156c6"/><stop offset="0.748" stop-color="#313598"/><stop offset="0.786" stop-color="#2f399d"/><stop offset="0.862" stop-color="#323496"/><stop offset="1.000" stop-color="#323597"/></linearGradient><linearGradient id="g50" x1="0" y1="0" x2="0" y2="1"><stop offset="0.000" stop-color="#323496"/><stop offset="0.176" stop-color="#323496"/><stop offset="0.208" stop-color="#1c67d1"/><stop offset="0.220" stop-color="#167ee0"/><stop offset="0.239" stop-color="#128be7"/><stop offset="0.270" stop-color="#1394dc"/><stop offset="0.277" stop-color="#16a7bb"/><stop offset="0.283" stop-color="#23bd8a"/><stop offset="0.289" stop-color="#28c27b"/><stop offset="0.296" stop-color="#3fcc6b"/><stop offset="0.302" stop-color="#6cd56d"/><stop offset="0.308" stop-color="#a9e07b"/><stop offset="0.314" stop-color="#cae683"/><stop offset="0.327" stop-color="#ece38b"/><stop offset="0.333" stop-color="#c6a17b"/><stop offset="0.340" stop-color="#8b685a"/><stop offset="0.352" stop-color="#9b7b6e"/><stop offset="0.371" stop-color="#c1aaa2"/><stop offset="0.415" stop-color="#c1a9a1"/><stop offset="0.447" stop-color="#d2bfba"/><stop offset="0.478" stop-color="#dacac5"/><stop offset="0.491" stop-color="#e7dcd8"/><stop offset="0.528" stop-color="#e8ddd9"/><stop offset="0.541" stop-color="#dac9c4"/><stop offset="0.553" stop-color="#9c7b6e"/><stop offset="0.560" stop-color="#937062"/><stop offset="0.579" stop-color="#916e60"/><stop offset="0.585" stop-color="#886456"/><stop offset="0.591" stop-color="#dfc885"/><stop offset="0.597" stop-color="#dce788"/><stop offset="0.604" stop-color="#5cd26d"/><stop offset="0.610" stop-color="#32c96a"/><stop offset="0.642" stop-color="#20ba92"/><stop offset="0.648" stop-color="#18b2aa"/><stop offset="0.654" stop-color="#159fc9"/><stop offset="0.660" stop-color="#1497d6"/><stop offset="0.686" stop-color="#1499d2"/><stop offset="0.704" stop-color="#1395da"/><stop offset="0.711" stop-color="#1486e4"/><stop offset="0.717" stop-color="#128de6"/><stop offset="0.736" stop-color="#2058c8"/><stop offset="0.742" stop-color="#264bb6"/><stop offset="0.868" stop-color="#2f3a9e"/><stop offset="1.000" stop-color="#323496"/></linearGradient><linearGradient id="g51" x1="0" y1="0" x2="0" y2="1"><stop offset="0.000" stop-color="#323496"/><stop offset="0.119" stop-color="#2e3ca1"/><stop offset="0.164" stop-color="#323597"/><stop offset="0.170" stop-color="#30389b"/><stop offset="0.189" stop-color="#2156c5"/><stop offset="0.208" stop-color="#1582e2"/><stop offset="0.226" stop-color="#128de6"/><stop offset="0.264" stop-color="#1498d5"/><stop offset="0.270" stop-color="#1db79c"/><stop offset="0.283" stop-color="#2cc671"/><stop offset="0.289" stop-color="#49ce6b"/><stop offset="0.296" stop-color="#75d76e"/><stop offset="0.302" stop-color="#a2df79"/><stop offset="0.308" stop-color="#dae788"/><stop offset="0.314" stop-color="#e7e48a"/><stop offset="0.321" stop-color="#d9bf83"/><stop offset="0.327" stop-color="#8c6859"/><stop offset="0.340" stop-color="#957365"/><stop offset="0.352" stop-color="#b2978d"/><stop offset="0.358" stop-color="#b89e94"/><stop offset="0.390" stop-color="#b99f96"/><stop offset="0.440" stop-color="#ddcec9"/><stop offset="0.447" stop-color="#ddcdc9"/><stop offset="0.465" stop-color="#f0e8e5"/><stop offset="0.503" stop-color="#f5eeec"/><stop offset="0.522" stop-color="#f3ebe9"/><stop offset="0.528" stop-color="#e9ddda"/><stop offset="0.541" stop-color="#c6afa8"/><stop offset="0.553" stop-color="#9a796c"/><stop offset="0.579" stop-color="#8c685a"/><stop offset="0.585" stop-color="#c29c79"/><stop offset="0.591" stop-color="#e6e48a"/><stop offset="0.597" stop-color="#85da72"/><stop offset="0.604" stop-color="#3dcb6b"/><stop offset="0.610" stop-color="#2dc76e"/><stop offset="0.629" stop-color="#23bd8b"/><stop offset="0.642" stop-color="#16a2c4"/><stop offset="0.648" stop-color="#149ad2"/><stop offset="0.679" stop-color="#149ad1"/><stop offset="0.698" stop-color="#1392de"/><stop offset="0.704" stop-color="#1581e1"/><stop offset="0.711" stop-color="#167ee0"/><stop offset="0.723" stop-color="#2058c8"/><stop offset="0.736" stop-color="#2d3da3"/><stop offset="0.742" stop-color="#2f3a9e"/><stop offset="1.000" stop-color="#323496"/></linearGradient><linearGradient id="g52" x1="0" y1="0" x2="0" y2="1"><stop offset="0.000" stop-color="#323496"/><stop offset="0.157" stop-color="#323496"/><stop offset="0.182" stop-color="#1f5dcb"/><stop offset="0.201" stop-color="#128de7"/><stop offset="0.226" stop-color="#1395d9"/><stop offset="0.252" stop-color="#1497d6"/><stop offset="0.258" stop-color="#15a0c7"/><stop offset="0.264" stop-color="#23bd8a"/><stop offset="0.277" stop-color="#2dc76c"/><stop offset="0.283" stop-color="#5ad16c"/><stop offset="0.289" stop-color="#77d86e"/><stop offset="0.296" stop-color="#cee785"/><stop offset="0.302" stop-color="#e6e48a"/><stop offset="0.308" stop-color="#dbc183"/><stop offset="0.314" stop-color="#b28d6f"/><stop offset="0.321" stop-color="#8d6a5c"/><stop offset="0.333" stop-color="#977668"/><stop offset="0.340" stop-color="#a5877b"/><stop offset="0.365" stop-color="#a5867a"/><stop offset="0.384" stop-color="#b1958b"/><stop offset="0.434" stop-color="#e3d5d1"/><stop offset="0.465" stop-color="#f0e7e4"/><stop offset="0.497" stop-color="#f5edeb"/><stop offset="0.509" stop-color="#f2ebe8"/><stop offset="0.522" stop-color="#e5d8d4"/><stop offset="0.535" stop-color="#c0a8a0"/><stop offset="0.547" stop-color="#a5877b"/><stop offset="0.553" stop-color="#a48579"/><stop offset="0.566" stop-color="#927062"/><stop offset="0.572" stop-color="#8e6b5d"/><stop offset="0.579" stop-color="#ab866b"/><stop offset="0.585" stop-color="#eee38c"/><stop offset="0.591" stop-color="#d0e785"/><stop offset="0.597" stop-color="#6bd56d"/><stop offset="0.610" stop-color="#35c96a"/><stop offset="0.616" stop-color="#2dc76e"/><stop offset="0.623" stop-color="#24be88"/><stop offset="0.629" stop-color="#17adb2"/><stop offset="0.635" stop-color="#16a7bc"/><stop offset="0.673" stop-color="#16a5bf"/><stop offset="0.692" stop-color="#149ad2"/><stop offset="0.698" stop-color="#128ce8"/><stop offset="0.704" stop-color="#1779dc"/><stop offset="0.711" stop-color="#177add"/><stop offset="0.717" stop-color="#1e60cd"/><stop offset="0.730" stop-color="#2d3da3"/><stop offset="0.742" stop-color="#323597"/><stop offset="1.000" stop-color="#323496"/></linearGradient><linearGradient id="g53" x1="0" y1="0" x2="0" y2="1"><stop offset="0.000" stop-color="#30389c"/><stop offset="0.151" stop-color="#323496"/><stop offset="0.157" stop-color="#30389c"/><stop offset="0.176" stop-color="#2157c6"/><stop offset="0.195" stop-color="#138ae6"/><stop offset="0.245" stop-color="#159dcc"/><stop offset="0.252" stop-color="#1eb89a"/><stop offset="0.258" stop-color="#28c27b"/><stop offset="0.264" stop-color="#31c96a"/><stop offset="0.270" stop-color="#60d36d"/><stop offset="0.277" stop-color="#a8e07b"/><stop offset="0.283" stop-color="#d9e887"/><stop offset="0.289" stop-color="#e9e48b"/><stop offset="0.296" stop-color="#d6b981"/><stop offset="0.302" stop-color="#906b5b"/><stop offset="0.321" stop-color="#967466"/><stop offset="0.327" stop-color="#a48579"/><stop offset="0.346" stop-color="#a48579"/><stop offset="0.358" stop-color="#ac8f84"/><stop offset="0.403" stop-color="#e3d6d2"/><stop offset="0.421" stop-color="#f0e7e4"/><stop offset="0.434" stop-color="#f5eeec"/><stop offset="0.484" stop-color="#f5eeed"/><stop offset="0.497" stop-color="#f5eeec"/><stop offset="0.509" stop-color="#ece2df"/><stop offset="0.535" stop-color="#b99f96"/><stop offset="0.547" stop-color="#b1968c"/><stop offset="0.560" stop-color="#947264"/><stop offset="0.566" stop-color="#8b6759"/><stop offset="0.572" stop-color="#bd9776"/><stop offset="0.579" stop-color="#eee38c"/><stop offset="0.585" stop-color="#e8e48a"/><stop offset="0.597" stop-color="#58d16c"/><stop offset="0.604" stop-color="#43cc6b"/><stop offset="0.610" stop-color="#28c27c"/><stop offset="0.616" stop-color="#19b3a8"/><stop offset="0.623" stop-color="#17abb5"/><stop offset="0.667" stop-color="#16a7bc"/><stop offset="0.686" stop-color="#149bcf"/><stop offset="0.692" stop-color="#128ce7"/><stop offset="0.698" stop-color="#1497d7"/><stop offset="0.704" stop-color="#1483e3"/><stop offset="0.723" stop-color="#2848b1"/><stop offset="0.736" stop-color="#2d3ea4"/><stop offset="0.862" stop-color="#323496"/><stop offset="1.000" stop-color="#30389c"/></linearGradient><linearGradient id="g54" x1="0" y1="0" x2="0" y2="1"><stop offset="0.000" stop-color="#323496"/><stop offset="0.145" stop-color="#323496"/><stop offset="0.170" stop-color="#1f5cca"/><stop offset="0.189" stop-color="#128ce8"/><stop offset="0.208" stop-color="#1395d9"/><stop offset="0.239" stop-color="#1497d6"/><stop offset="0.245" stop-color="#20ba92"/><stop offset="0.258" stop-color="#28c27d"/><stop offset="0.264" stop-color="#34c96a"/><stop offset="0.270" stop-color="#70d66e"/><stop offset="0.277" stop-color="#dae788"/><stop offset="0.283" stop-color="#e8e48a"/><stop offset="0.289" stop-color="#dfc785"/><stop offset="0.296" stop-color="#a78269"/><stop offset="0.302" stop-color="#8c6858"/><stop offset="0.308" stop-color="#8c685a"/><stop offset="0.358" stop-color="#967466"/><stop offset="0.365" stop-color="#a08174"/><stop offset="0.384" stop-color="#cfbbb5"/><stop offset="0.403" stop-color="#e0d2ce"/><stop offset="0.428" stop-color="#eee4e1"/><stop offset="0.472" stop-color="#f5eeec"/><stop offset="0.484" stop-color="#f3ebe9"/><stop offset="0.497" stop-color="#e8ddda"/><stop offset="0.503" stop-color="#d8c6c1"/><stop offset="0.528" stop-color="#a78a7e"/><stop offset="0.535" stop-color="#a5877b"/><stop offset="0.541" stop-color="#987668"/><stop offset="0.553" stop-color="#8c695b"/><stop offset="0.560" stop-color="#cfaf7e"/><stop offset="0.566" stop-color="#e6e48a"/><stop offset="0.572" stop-color="#c4e582"/><stop offset="0.579" stop-color="#64d46d"/><stop offset="0.585" stop-color="#2bc571"/><stop offset="0.597" stop-color="#1cb69f"/><stop offset="0.604" stop-color="#15a1c5"/><stop offset="0.610" stop-color="#1499d2"/><stop offset="0.660" stop-color="#1497d6"/><stop offset="0.679" stop-color="#128fe3"/><stop offset="0.686" stop-color="#1582e2"/><stop offset="0.704" stop-color="#2253c1"/><stop offset="0.717" stop-color="#2e3ca1"/><stop offset="0.723" stop-color="#31379a"/><stop offset="0.786" stop-color="#2d3da3"/><stop offset="0.874" stop-color="#323496"/><stop offset="1.000" stop-color="#323496"/></linearGradient><linearGradient id="g55" x1="0" y1="0" x2="0" y2="1"><stop offset="0.000" stop-color="#323496"/><stop offset="0.132" stop-color="#323496"/><stop offset="0.138" stop-color="#30389c"/><stop offset="0.157" stop-color="#2157c6"/><stop offset="0.182" stop-color="#1388e6"/><stop offset="0.226" stop-color="#128ee5"/><stop offset="0.239" stop-color="#1bb5a3"/><stop offset="0.252" stop-color="#25bf84"/><stop offset="0.258" stop-color="#2ec86b"/><stop offset="0.264" stop-color="#9fdf78"/><stop offset="0.270" stop-color="#e1e689"/><stop offset="0.277" stop-color="#e2cd86"/><stop offset="0.283" stop-color="#a47f67"/><stop offset="0.289" stop-color="#896557"/><stop offset="0.327" stop-color="#99776a"/><stop offset="0.346" stop-color="#b69c93"/><stop offset="0.365" stop-color="#dfd0cb"/><stop offset="0.384" stop-color="#efe6e4"/><stop offset="0.396" stop-color="#f5edeb"/><stop offset="0.459" stop-color="#f5eeec"/><stop offset="0.472" stop-color="#f3ebe9"/><stop offset="0.516" stop-color="#a98b80"/><stop offset="0.541" stop-color="#8d6a5c"/><stop offset="0.547" stop-color="#be9977"/><stop offset="0.553" stop-color="#f0e28c"/><stop offset="0.560" stop-color="#dce788"/><stop offset="0.566" stop-color="#8fdc74"/><stop offset="0.572" stop-color="#40cc6b"/><stop offset="0.579" stop-color="#26c082"/><stop offset="0.585" stop-color="#1db79c"/><stop offset="0.591" stop-color="#16a4c1"/><stop offset="0.597" stop-color="#149ad0"/><stop offset="0.654" stop-color="#1497d6"/><stop offset="0.673" stop-color="#128ee5"/><stop offset="0.679" stop-color="#1582e2"/><stop offset="0.698" stop-color="#2451be"/><stop offset="0.711" stop-color="#2f3a9e"/><stop offset="0.717" stop-color="#323496"/><stop offset="0.805" stop-color="#30399c"/><stop offset="1.000" stop-color="#323496"/></linearGradient><linearGradient id="g56" x1="0" y1="0" x2="0" y2="1"><stop offset="0.000" stop-color="#30379b"/><stop offset="0.088" stop-color="#2e3ba0"/><stop offset="0.126" stop-color="#313799"/><stop offset="0.132" stop-color="#2f3b9f"/><stop offset="0.151" stop-color="#2058c8"/><stop offset="0.176" stop-color="#1483e3"/><stop offset="0.220" stop-color="#1389e6"/><stop offset="0.226" stop-color="#15a0c7"/><stop offset="0.233" stop-color="#1ab4a4"/><stop offset="0.239" stop-color="#1eb898"/><stop offset="0.245" stop-color="#28c27a"/><stop offset="0.252" stop-color="#62d36d"/><stop offset="0.258" stop-color="#d3e786"/><stop offset="0.264" stop-color="#efe28c"/><stop offset="0.270" stop-color="#b18b6e"/><stop offset="0.277" stop-color="#8a6759"/><stop offset="0.302" stop-color="#967466"/><stop offset="0.352" stop-color="#eadfdb"/><stop offset="0.377" stop-color="#f5eeeb"/><stop offset="0.453" stop-color="#e4d7d3"/><stop offset="0.465" stop-color="#d3c0bb"/><stop offset="0.472" stop-color="#b9a097"/><stop offset="0.484" stop-color="#9c7b6e"/><stop offset="0.491" stop-color="#937163"/><stop offset="0.522" stop-color="#896658"/><stop offset="0.535" stop-color="#d1b17f"/><stop offset="0.541" stop-color="#e5e58a"/><stop offset="0.547" stop-color="#b3e27e"/><stop offset="0.553" stop-color="#5bd26c"/><stop offset="0.560" stop-color="#29c379"/><stop offset="0.566" stop-color="#20ba91"/><stop offset="0.572" stop-color="#1db79d"/><stop offset="0.579" stop-color="#15a2c5"/><stop offset="0.585" stop-color="#1393dd"/><stop offset="0.648" stop-color="#1497d7"/><stop offset="0.667" stop-color="#128ee4"/><stop offset="0.673" stop-color="#1582e2"/><stop offset="0.686" stop-color="#1d61ce"/><stop offset="0.704" stop-color="#2f3a9f"/><stop offset="0.711" stop-color="#323496"/><stop offset="1.000" stop-color="#31379a"/></linearGradient><linearGradient id="g57" x1="0" y1="0" x2="0" y2="1"><stop offset="0.000" stop-color="#30389c"/><stop offset="0.126" stop-color="#313699"/><stop offset="0.151" stop-color="#1f5ccb"/><stop offset="0.164" stop-color="#1778dc"/><stop offset="0.208" stop-color="#128ce7"/><stop offset="0.214" stop-color="#1497d6"/><stop offset="0.220" stop-color="#19b3a6"/><stop offset="0.233" stop-color="#2dc76c"/><stop offset="0.239" stop-color="#78d86e"/><stop offset="0.245" stop-color="#dee688"/><stop offset="0.252" stop-color="#ead98a"/><stop offset="0.258" stop-color="#a37e66"/><stop offset="0.264" stop-color="#916f61"/><stop offset="0.270" stop-color="#9a796c"/><stop offset="0.277" stop-color="#af9489"/><stop offset="0.289" stop-color="#b79d93"/><stop offset="0.314" stop-color="#ddceca"/><stop offset="0.321" stop-color="#e0d2ce"/><stop offset="0.327" stop-color="#efe6e4"/><stop offset="0.352" stop-color="#f5eeec"/><stop offset="0.440" stop-color="#decfca"/><stop offset="0.447" stop-color="#d7c6c1"/><stop offset="0.453" stop-color="#c9b3ac"/><stop offset="0.459" stop-color="#ac8f84"/><stop offset="0.465" stop-color="#9b7a6d"/><stop offset="0.478" stop-color="#8e6b5d"/><stop offset="0.497" stop-color="#896557"/><stop offset="0.503" stop-color="#896557"/><stop offset="0.509" stop-color="#9a7561"/><stop offset="0.516" stop-color="#c7a37b"/><stop offset="0.522" stop-color="#e2cd86"/><stop offset="0.528" stop-color="#e0e689"/><stop offset="0.535" stop-color="#afe17d"/><stop offset="0.541" stop-color="#71d76e"/><stop offset="0.547" stop-color="#27c17f"/><stop offset="0.553" stop-color="#1db79c"/><stop offset="0.560" stop-color="#18afaf"/><stop offset="0.572" stop-color="#1390e1"/><stop offset="0.579" stop-color="#128ce7"/><stop offset="0.642" stop-color="#1392de"/><stop offset="0.660" stop-color="#1389e6"/><stop offset="0.667" stop-color="#1580e1"/><stop offset="0.686" stop-color="#2450bc"/><stop offset="0.698" stop-color="#2f399d"/><stop offset="0.704" stop-color="#323496"/><stop offset="1.000" stop-color="#30379b"/></linearGradient><linearGradient id="g58" x1="0" y1="0" x2="0" y2="1"><stop offset="0.000" stop-color="#323496"/><stop offset="0.119" stop-color="#323597"/><stop offset="0.145" stop-color="#1f5ccb"/><stop offset="0.157" stop-color="#1778dc"/><stop offset="0.189" stop-color="#128be7"/><stop offset="0.201" stop-color="#128fe3"/><stop offset="0.208" stop-color="#16a4c2"/><stop offset="0.214" stop-color="#1fb995"/><stop offset="0.220" stop-color="#27c17f"/><stop offset="0.226" stop-color="#49ce6b"/><stop offset="0.233" stop-color="#bfe481"/><stop offset="0.239" stop-color="#e7e48a"/><stop offset="0.245" stop-color="#c9a57c"/><stop offset="0.252" stop-color="#8d695b"/><stop offset="0.258" stop-color="#916f61"/><stop offset="0.264" stop-color="#a18175"/><stop offset="0.283" stop-color="#b99f96"/><stop offset="0.314" stop-color="#eee4e1"/><stop offset="0.327" stop-color="#f4edea"/><stop offset="0.428" stop-color="#d8c7c2"/><stop offset="0.434" stop-color="#d2bfba"/><stop offset="0.447" stop-color="#b49a90"/><stop offset="0.453" stop-color="#957365"/><stop offset="0.472" stop-color="#896557"/><stop offset="0.478" stop-color="#9e7963"/><stop offset="0.491" stop-color="#a58068"/><stop offset="0.497" stop-color="#bb9575"/><stop offset="0.503" stop-color="#dac083"/><stop offset="0.509" stop-color="#eee38c"/><stop offset="0.516" stop-color="#e0e689"/><stop offset="0.522" stop-color="#80d970"/><stop offset="0.528" stop-color="#5bd26c"/><stop offset="0.535" stop-color="#4ace6c"/><stop offset="0.541" stop-color="#1eb899"/><stop offset="0.547" stop-color="#16a7bc"/><stop offset="0.560" stop-color="#1395d9"/><stop offset="0.566" stop-color="#1778db"/><stop offset="0.642" stop-color="#1389e6"/><stop offset="0.660" stop-color="#1580e1"/><stop offset="0.679" stop-color="#2156c5"/><stop offset="0.692" stop-color="#2c40a6"/><stop offset="0.698" stop-color="#313698"/><stop offset="0.704" stop-color="#323496"/><stop offset="1.000" stop-color="#323496"/></linearGradient><linearGradient id="g59" x1="0" y1="0" x2="0" y2="1"><stop offset="0.000" stop-color="#323496"/><stop offset="0.113" stop-color="#323496"/><stop offset="0.151" stop-color="#1b6bd4"/><stop offset="0.189" stop-color="#167cde"/><stop offset="0.195" stop-color="#1485e4"/><stop offset="0.201" stop-color="#16a7bc"/><stop offset="0.208" stop-color="#17adb2"/><stop offset="0.220" stop-color="#2ac476"/><stop offset="0.226" stop-color="#75d76e"/><stop offset="0.233" stop-color="#e1e689"/><stop offset="0.239" stop-color="#eddd8b"/><stop offset="0.245" stop-color="#aa856a"/><stop offset="0.252" stop-color="#8a6759"/><stop offset="0.270" stop-color="#947264"/><stop offset="0.289" stop-color="#bca39a"/><stop offset="0.296" stop-color="#d5c3bd"/><stop offset="0.321" stop-color="#e8dcd8"/><stop offset="0.421" stop-color="#e5d8d4"/><stop offset="0.428" stop-color="#decfcb"/><stop offset="0.434" stop-color="#d1bdb7"/><stop offset="0.440" stop-color="#b4998f"/><stop offset="0.453" stop-color="#947163"/><stop offset="0.484" stop-color="#8d6a5c"/><stop offset="0.491" stop-color="#8f6a5a"/><stop offset="0.497" stop-color="#bf9977"/><stop offset="0.503" stop-color="#ebda8a"/><stop offset="0.509" stop-color="#e3e589"/><stop offset="0.516" stop-color="#b0e27d"/><stop offset="0.522" stop-color="#b5e27e"/><stop offset="0.528" stop-color="#a1df79"/><stop offset="0.535" stop-color="#59d16c"/><stop offset="0.541" stop-color="#20ba91"/><stop offset="0.547" stop-color="#18afaf"/><stop offset="0.553" stop-color="#16a7bc"/><stop offset="0.560" stop-color="#128be7"/><stop offset="0.635" stop-color="#1496d8"/><stop offset="0.654" stop-color="#1391e0"/><stop offset="0.660" stop-color="#128be7"/><stop offset="0.667" stop-color="#177bde"/><stop offset="0.673" stop-color="#1778dc"/><stop offset="0.686" stop-color="#2058c8"/><stop offset="0.698" stop-color="#2c40a6"/><stop offset="0.742" stop-color="#323597"/><stop offset="1.000" stop-color="#323496"/></linearGradient><linearGradient id="g60" x1="0" y1="0" x2="0" y2="1"><stop offset="0.000" stop-color="#323496"/><stop offset="0.107" stop-color="#323496"/><stop offset="0.132" stop-color="#1f5dcb"/><stop offset="0.145" stop-color="#1875da"/><stop offset="0.182" stop-color="#177bde"/><stop offset="0.189" stop-color="#128de6"/><stop offset="0.195" stop-color="#16a4c0"/><stop offset="0.201" stop-color="#17adb2"/><stop offset="0.208" stop-color="#21bb91"/><stop offset="0.214" stop-color="#4ecf6c"/><stop offset="0.220" stop-color="#a7e07a"/><stop offset="0.226" stop-color="#e4e58a"/><stop offset="0.233" stop-color="#d0b07f"/><stop offset="0.239" stop-color="#a78268"/><stop offset="0.245" stop-color="#8c695b"/><stop offset="0.258" stop-color="#937163"/><stop offset="0.264" stop-color="#9e7e71"/><stop offset="0.277" stop-color="#bda49b"/><stop offset="0.283" stop-color="#d5c3bd"/><stop offset="0.296" stop-color="#e5d9d5"/><stop offset="0.308" stop-color="#ebe1de"/><stop offset="0.327" stop-color="#ece2df"/><stop offset="0.415" stop-color="#e4d7d3"/><stop offset="0.421" stop-color="#dccdc8"/><stop offset="0.428" stop-color="#c9b4ad"/><stop offset="0.434" stop-color="#a7897e"/><stop offset="0.440" stop-color="#957365"/><stop offset="0.478" stop-color="#8c685a"/><stop offset="0.484" stop-color="#926e5c"/><stop offset="0.491" stop-color="#d0b07f"/><stop offset="0.497" stop-color="#ece38b"/><stop offset="0.503" stop-color="#dde788"/><stop offset="0.522" stop-color="#cfe785"/><stop offset="0.528" stop-color="#61d36d"/><stop offset="0.535" stop-color="#25bf85"/><stop offset="0.541" stop-color="#1bb5a2"/><stop offset="0.547" stop-color="#17aeb1"/><stop offset="0.553" stop-color="#1390e1"/><stop offset="0.635" stop-color="#149ad1"/><stop offset="0.654" stop-color="#1395d9"/><stop offset="0.660" stop-color="#128be7"/><stop offset="0.667" stop-color="#167bde"/><stop offset="0.673" stop-color="#1388e5"/><stop offset="0.698" stop-color="#2849b3"/><stop offset="0.767" stop-color="#323597"/><stop offset="1.000" stop-color="#323496"/></linearGradient><linearGradient id="g61" x1="0" y1="0" x2="0" y2="1"><stop offset="0.000" stop-color="#323497"/><stop offset="0.101" stop-color="#2c3fa6"/><stop offset="0.113" stop-color="#2157c6"/><stop offset="0.138" stop-color="#128de6"/><stop offset="0.157" stop-color="#1391df"/><stop offset="0.176" stop-color="#138fe3"/><stop offset="0.182" stop-color="#16a6bd"/><stop offset="0.195" stop-color="#26c082"/><stop offset="0.201" stop-color="#39ca6b"/><stop offset="0.208" stop-color="#b1e27d"/><stop offset="0.214" stop-color="#e9e48b"/><stop offset="0.220" stop-color="#d4b680"/><stop offset="0.226" stop-color="#906c5b"/><stop offset="0.233" stop-color="#8e6b5d"/><stop offset="0.245" stop-color="#9b7a6d"/><stop offset="0.270" stop-color="#dbcbc6"/><stop offset="0.277" stop-color="#e4d7d4"/><stop offset="0.296" stop-color="#efe6e3"/><stop offset="0.409" stop-color="#e3d6d2"/><stop offset="0.415" stop-color="#dbcbc6"/><stop offset="0.428" stop-color="#a5867a"/><stop offset="0.434" stop-color="#947163"/><stop offset="0.472" stop-color="#896557"/><stop offset="0.478" stop-color="#a27d65"/><stop offset="0.484" stop-color="#e3ce87"/><stop offset="0.491" stop-color="#e1e689"/><stop offset="0.516" stop-color="#dde788"/><stop offset="0.522" stop-color="#a3df79"/><stop offset="0.528" stop-color="#2dc76e"/><stop offset="0.535" stop-color="#21bb8f"/><stop offset="0.541" stop-color="#1ab4a3"/><stop offset="0.547" stop-color="#1496d7"/><stop offset="0.629" stop-color="#149bcf"/><stop offset="0.654" stop-color="#1395d9"/><stop offset="0.660" stop-color="#1389e6"/><stop offset="0.667" stop-color="#1390e1"/><stop offset="0.673" stop-color="#1581e1"/><stop offset="0.692" stop-color="#2451be"/><stop offset="0.698" stop-color="#2849b3"/><stop offset="0.792" stop-color="#30389b"/><stop offset="1.000" stop-color="#323496"/></linearGradient><linearGradient id="g62" x1="0" y1="0" x2="0" y2="1"><stop offset="0.000" stop-color="#323496"/><stop offset="0.094" stop-color="#2f399d"/><stop offset="0.113" stop-color="#1f5dcb"/><stop offset="0.132" stop-color="#128de6"/><stop offset="0.164" stop-color="#1496d8"/><stop offset="0.170" stop-color="#159ecb"/><stop offset="0.176" stop-color="#1bb5a1"/><stop offset="0.182" stop-color="#23bd89"/><stop offset="0.189" stop-color="#36ca6a"/><stop offset="0.195" stop-color="#99de77"/><stop offset="0.201" stop-color="#e3e589"/><stop offset="0.208" stop-color="#dfc785"/><stop offset="0.214" stop-color="#8a6658"/><stop offset="0.226" stop-color="#957365"/><stop offset="0.258" stop-color="#e1d3cf"/><stop offset="0.270" stop-color="#eee5e2"/><stop offset="0.283" stop-color="#f2eae7"/><stop offset="0.403" stop-color="#f1e9e6"/><stop offset="0.409" stop-color="#e8dcd9"/><stop offset="0.428" stop-color="#a08074"/><stop offset="0.434" stop-color="#957365"/><stop offset="0.453" stop-color="#947264"/><stop offset="0.465" stop-color="#896557"/><stop offset="0.472" stop-color="#cfaf7f"/><stop offset="0.478" stop-color="#ebe38b"/><stop offset="0.484" stop-color="#dfe689"/><stop offset="0.509" stop-color="#dfe689"/><stop offset="0.516" stop-color="#b3e27d"/><stop offset="0.522" stop-color="#30c86a"/><stop offset="0.528" stop-color="#22bc8d"/><stop offset="0.535" stop-color="#1bb5a2"/><stop offset="0.541" stop-color="#1497d6"/><stop offset="0.629" stop-color="#15a0c7"/><stop offset="0.648" stop-color="#149ad1"/><stop offset="0.660" stop-color="#1486e4"/><stop offset="0.667" stop-color="#1394db"/><stop offset="0.673" stop-color="#1484e3"/><stop offset="0.692" stop-color="#264cb7"/><stop offset="0.717" stop-color="#2a44ac"/><stop offset="0.899" stop-color="#323496"/><stop offset="1.000" stop-color="#323496"/></linearGradient><linearGradient id="g63" x1="0" y1="0" x2="0" y2="1"><stop offset="0.000" stop-color="#323496"/><stop offset="0.088" stop-color="#323496"/><stop offset="0.094" stop-color="#2f3a9e"/><stop offset="0.107" stop-color="#2254c2"/><stop offset="0.126" stop-color="#1484e3"/><stop offset="0.132" stop-color="#128de6"/><stop offset="0.157" stop-color="#1392de"/><stop offset="0.164" stop-color="#15a0c7"/><stop offset="0.170" stop-color="#1eb899"/><stop offset="0.182" stop-color="#2dc76c"/><stop offset="0.189" stop-color="#8edc74"/><stop offset="0.195" stop-color="#e6e48a"/><stop offset="0.201" stop-color="#c8a47c"/><stop offset="0.208" stop-color="#886456"/><stop offset="0.220" stop-color="#957365"/><stop offset="0.226" stop-color="#a18276"/><stop offset="0.245" stop-color="#decfcb"/><stop offset="0.264" stop-color="#f2ebe8"/><stop offset="0.396" stop-color="#f5eeec"/><stop offset="0.403" stop-color="#f0e7e4"/><stop offset="0.409" stop-color="#e0d2cd"/><stop offset="0.421" stop-color="#b2978d"/><stop offset="0.428" stop-color="#a5867a"/><stop offset="0.440" stop-color="#a38478"/><stop offset="0.447" stop-color="#957365"/><stop offset="0.459" stop-color="#896557"/><stop offset="0.465" stop-color="#cead7e"/><stop offset="0.472" stop-color="#eae38b"/><stop offset="0.503" stop-color="#e8e48a"/><stop offset="0.509" stop-color="#dce788"/><stop offset="0.516" stop-color="#5dd26d"/><stop offset="0.522" stop-color="#28c27c"/><stop offset="0.528" stop-color="#1fb997"/><stop offset="0.535" stop-color="#149ad1"/><stop offset="0.629" stop-color="#149bd0"/><stop offset="0.648" stop-color="#1395d9"/><stop offset="0.654" stop-color="#1390e2"/><stop offset="0.660" stop-color="#1580e1"/><stop offset="0.667" stop-color="#128be7"/><stop offset="0.692" stop-color="#264cb8"/><stop offset="0.843" stop-color="#30389b"/><stop offset="1.000" stop-color="#323496"/></linearGradient><linearGradient id="g64" x1="0" y1="0" x2="0" y2="1"><stop offset="0.000" stop-color="#323496"/><stop offset="0.088" stop-color="#323496"/><stop offset="0.107" stop-color="#1f5ac9"/><stop offset="0.119" stop-color="#167ee0"/><stop offset="0.126" stop-color="#128de6"/><stop offset="0.151" stop-color="#1496d7"/><stop offset="0.157" stop-color="#1eb898"/><stop offset="0.164" stop-color="#22bc8d"/><stop offset="0.170" stop-color="#2cc671"/><stop offset="0.176" stop-color="#74d76e"/><stop offset="0.182" stop-color="#dbe788"/><stop offset="0.189" stop-color="#eedf8b"/><stop offset="0.195" stop-color="#8a6658"/><stop offset="0.208" stop-color="#9e7e71"/><stop offset="0.233" stop-color="#ede3e0"/><stop offset="0.239" stop-color="#f5eeec"/><stop offset="0.283" stop-color="#f6efee"/><stop offset="0.390" stop-color="#f5eeec"/><stop offset="0.396" stop-color="#eee4e1"/><stop offset="0.415" stop-color="#ac9085"/><stop offset="0.421" stop-color="#9f7f73"/><stop offset="0.447" stop-color="#8b6759"/><stop offset="0.453" stop-color="#d1b27f"/><stop offset="0.459" stop-color="#e6e48a"/><stop offset="0.497" stop-color="#dde788"/><stop offset="0.503" stop-color="#c3e582"/><stop offset="0.509" stop-color="#2cc670"/><stop offset="0.522" stop-color="#17aeb1"/><stop offset="0.528" stop-color="#128ae7"/><stop offset="0.591" stop-color="#128ce8"/><stop offset="0.629" stop-color="#1393dc"/><stop offset="0.648" stop-color="#1390e1"/><stop offset="0.654" stop-color="#1485e3"/><stop offset="0.660" stop-color="#1875da"/><stop offset="0.667" stop-color="#177add"/><stop offset="0.692" stop-color="#2847b1"/><stop offset="0.843" stop-color="#313598"/><stop offset="1.000" stop-color="#323496"/></linearGradient><linearGradient id="g65" x1="0" y1="0" x2="0" y2="1"><stop offset="0.000" stop-color="#323496"/><stop offset="0.082" stop-color="#323496"/><stop offset="0.101" stop-color="#2254c3"/><stop offset="0.119" stop-color="#1485e4"/><stop offset="0.138" stop-color="#128de6"/><stop offset="0.145" stop-color="#1498d5"/><stop offset="0.151" stop-color="#1ab4a5"/><stop offset="0.157" stop-color="#1db79b"/><stop offset="0.164" stop-color="#25bf84"/><stop offset="0.170" stop-color="#5ad26c"/><stop offset="0.176" stop-color="#dae788"/><stop offset="0.182" stop-color="#eee28c"/><stop offset="0.189" stop-color="#ad886c"/><stop offset="0.195" stop-color="#8c695b"/><stop offset="0.201" stop-color="#957365"/><stop offset="0.208" stop-color="#a5867a"/><stop offset="0.226" stop-color="#dfd1cd"/><stop offset="0.233" stop-color="#ebe0dd"/><stop offset="0.252" stop-color="#f4edeb"/><stop offset="0.296" stop-color="#f5eeec"/><stop offset="0.333" stop-color="#f5eeec"/><stop offset="0.384" stop-color="#e8ddd9"/><stop offset="0.390" stop-color="#ddcec9"/><stop offset="0.403" stop-color="#a28276"/><stop offset="0.409" stop-color="#937062"/><stop offset="0.428" stop-color="#8a6658"/><stop offset="0.434" stop-color="#c5a07a"/><stop offset="0.440" stop-color="#e7e48a"/><stop offset="0.447" stop-color="#cfe785"/><stop offset="0.453" stop-color="#8adb73"/><stop offset="0.472" stop-color="#77d86e"/><stop offset="0.491" stop-color="#70d66e"/><stop offset="0.497" stop-color="#63d36d"/><stop offset="0.503" stop-color="#2cc66f"/><stop offset="0.509" stop-color="#17acb4"/><stop offset="0.516" stop-color="#149cce"/><stop offset="0.522" stop-color="#1394db"/><stop offset="0.528" stop-color="#1875da"/><stop offset="0.616" stop-color="#128ce8"/><stop offset="0.642" stop-color="#1388e5"/><stop offset="0.648" stop-color="#1483e3"/><stop offset="0.660" stop-color="#1c67d1"/><stop offset="0.673" stop-color="#264db8"/><stop offset="0.686" stop-color="#30389c"/><stop offset="0.692" stop-color="#323496"/><stop offset="0.786" stop-color="#2e3ca1"/><stop offset="0.887" stop-color="#323496"/><stop offset="1.000" stop-color="#323496"/></linearGradient><linearGradient id="g66" x1="0" y1="0" x2="0" y2="1"><stop offset="0.000" stop-color="#2f399d"/><stop offset="0.075" stop-color="#2a45ad"/><stop offset="0.088" stop-color="#2058c7"/><stop offset="0.101" stop-color="#177bde"/><stop offset="0.107" stop-color="#1779dc"/><stop offset="0.113" stop-color="#1389e6"/><stop offset="0.132" stop-color="#1395d9"/><stop offset="0.138" stop-color="#18b0ae"/><stop offset="0.145" stop-color="#21bb90"/><stop offset="0.151" stop-color="#27c17f"/><stop offset="0.157" stop-color="#48ce6b"/><stop offset="0.164" stop-color="#94dd75"/><stop offset="0.170" stop-color="#e5e58a"/><stop offset="0.176" stop-color="#c59f7a"/><stop offset="0.182" stop-color="#8a6658"/><stop offset="0.189" stop-color="#927062"/><stop offset="0.214" stop-color="#decfcb"/><stop offset="0.226" stop-color="#eee4e1"/><stop offset="0.233" stop-color="#efe6e4"/><stop offset="0.377" stop-color="#e4d7d3"/><stop offset="0.384" stop-color="#dcccc7"/><stop offset="0.390" stop-color="#c3aca5"/><stop offset="0.396" stop-color="#a18275"/><stop offset="0.403" stop-color="#916f61"/><stop offset="0.415" stop-color="#8c695b"/><stop offset="0.421" stop-color="#926d5c"/><stop offset="0.428" stop-color="#d5b881"/><stop offset="0.434" stop-color="#e0e689"/><stop offset="0.440" stop-color="#78d86e"/><stop offset="0.491" stop-color="#6ad56d"/><stop offset="0.497" stop-color="#37ca6a"/><stop offset="0.503" stop-color="#18b2aa"/><stop offset="0.509" stop-color="#15a2c4"/><stop offset="0.516" stop-color="#1499d4"/><stop offset="0.522" stop-color="#177add"/><stop offset="0.579" stop-color="#1485e4"/><stop offset="0.623" stop-color="#1483e2"/><stop offset="0.648" stop-color="#1970d7"/><stop offset="0.660" stop-color="#2255c4"/><stop offset="0.679" stop-color="#30389c"/><stop offset="0.686" stop-color="#323496"/><stop offset="1.000" stop-color="#313699"/></linearGradient><linearGradient id="g67" x1="0" y1="0" x2="0" y2="1"><stop offset="0.000" stop-color="#323496"/><stop offset="0.075" stop-color="#2848b2"/><stop offset="0.082" stop-color="#2156c5"/><stop offset="0.101" stop-color="#1389e6"/><stop offset="0.107" stop-color="#1485e4"/><stop offset="0.113" stop-color="#1392de"/><stop offset="0.126" stop-color="#1394db"/><stop offset="0.132" stop-color="#16a7bc"/><stop offset="0.138" stop-color="#20ba92"/><stop offset="0.145" stop-color="#27c17e"/><stop offset="0.151" stop-color="#4ecf6c"/><stop offset="0.157" stop-color="#d8e887"/><stop offset="0.164" stop-color="#e8e48a"/><stop offset="0.170" stop-color="#b38e70"/><stop offset="0.176" stop-color="#8a6759"/><stop offset="0.182" stop-color="#947163"/><stop offset="0.195" stop-color="#b59b91"/><stop offset="0.201" stop-color="#d0bcb6"/><stop offset="0.214" stop-color="#e3d6d2"/><stop offset="0.340" stop-color="#e9deda"/><stop offset="0.371" stop-color="#e8dcd9"/><stop offset="0.377" stop-color="#e3d6d2"/><stop offset="0.384" stop-color="#d6c4be"/><stop offset="0.390" stop-color="#b2968c"/><stop offset="0.396" stop-color="#967466"/><stop offset="0.415" stop-color="#8c695b"/><stop offset="0.421" stop-color="#b28d6f"/><stop offset="0.428" stop-color="#ebe38b"/><stop offset="0.434" stop-color="#b6e27e"/><stop offset="0.484" stop-color="#d8e887"/><stop offset="0.491" stop-color="#93dc75"/><stop offset="0.497" stop-color="#2ac476"/><stop offset="0.503" stop-color="#1fb996"/><stop offset="0.509" stop-color="#18b0ac"/><stop offset="0.516" stop-color="#1391df"/><stop offset="0.579" stop-color="#1497d5"/><stop offset="0.629" stop-color="#128de6"/><stop offset="0.648" stop-color="#1877db"/><stop offset="0.667" stop-color="#264cb8"/><stop offset="0.679" stop-color="#30379b"/><stop offset="0.686" stop-color="#323496"/><stop offset="1.000" stop-color="#323496"/></linearGradient><linearGradient id="g68" x1="0" y1="0" x2="0" y2="1"><stop offset="0.000" stop-color="#323496"/><stop offset="0.031" stop-color="#323496"/><stop offset="0.069" stop-color="#2e3da2"/><stop offset="0.082" stop-color="#2254c3"/><stop offset="0.094" stop-color="#1877db"/><stop offset="0.101" stop-color="#167cde"/><stop offset="0.107" stop-color="#138fe3"/><stop offset="0.119" stop-color="#1392de"/><stop offset="0.126" stop-color="#15a0c8"/><stop offset="0.132" stop-color="#1fb996"/><stop offset="0.138" stop-color="#28c27a"/><stop offset="0.145" stop-color="#64d46d"/><stop offset="0.151" stop-color="#dde788"/><stop offset="0.157" stop-color="#e1cc86"/><stop offset="0.164" stop-color="#9a7561"/><stop offset="0.170" stop-color="#8d695b"/><stop offset="0.176" stop-color="#967466"/><stop offset="0.189" stop-color="#cdb9b2"/><stop offset="0.195" stop-color="#dccdc8"/><stop offset="0.208" stop-color="#eae0dc"/><stop offset="0.308" stop-color="#eee5e2"/><stop offset="0.371" stop-color="#e7dbd7"/><stop offset="0.377" stop-color="#dbcbc6"/><stop offset="0.390" stop-color="#9e7e71"/><stop offset="0.396" stop-color="#926f61"/><stop offset="0.409" stop-color="#8c685a"/><stop offset="0.415" stop-color="#b08b6e"/><stop offset="0.421" stop-color="#ebe38b"/><stop offset="0.428" stop-color="#c6e582"/><stop offset="0.447" stop-color="#d8e887"/><stop offset="0.478" stop-color="#dee688"/><stop offset="0.484" stop-color="#d9e887"/><stop offset="0.491" stop-color="#55d06c"/><stop offset="0.497" stop-color="#28c27c"/><stop offset="0.503" stop-color="#1eb899"/><stop offset="0.509" stop-color="#1498d5"/><stop offset="0.566" stop-color="#1498d5"/><stop offset="0.629" stop-color="#128be8"/><stop offset="0.642" stop-color="#1483e3"/><stop offset="0.660" stop-color="#2255c4"/><stop offset="0.679" stop-color="#313699"/><stop offset="0.686" stop-color="#323496"/><stop offset="1.000" stop-color="#323496"/></linearGradient><linearGradient id="g69" x1="0" y1="0" x2="0" y2="1"><stop offset="0.000" stop-color="#323496"/><stop offset="0.069" stop-color="#30389b"/><stop offset="0.088" stop-color="#1d63cf"/><stop offset="0.101" stop-color="#1387e5"/><stop offset="0.113" stop-color="#1395da"/><stop offset="0.119" stop-color="#159fc9"/><stop offset="0.132" stop-color="#2cc670"/><stop offset="0.138" stop-color="#97dd76"/><stop offset="0.145" stop-color="#e6e48a"/><stop offset="0.151" stop-color="#b69071"/><stop offset="0.157" stop-color="#8f6c5e"/><stop offset="0.164" stop-color="#957264"/><stop offset="0.170" stop-color="#a5867a"/><stop offset="0.189" stop-color="#e9dedb"/><stop offset="0.195" stop-color="#f3ebe8"/><stop offset="0.327" stop-color="#f5eeec"/><stop offset="0.365" stop-color="#f5eeec"/><stop offset="0.371" stop-color="#efe6e3"/><stop offset="0.377" stop-color="#e2d4d0"/><stop offset="0.390" stop-color="#a88a7e"/><stop offset="0.396" stop-color="#977668"/><stop offset="0.409" stop-color="#8c685a"/><stop offset="0.415" stop-color="#cdab7e"/><stop offset="0.421" stop-color="#e0e689"/><stop offset="0.478" stop-color="#e0e689"/><stop offset="0.484" stop-color="#99de77"/><stop offset="0.491" stop-color="#2cc670"/><stop offset="0.497" stop-color="#20ba93"/><stop offset="0.503" stop-color="#1ab4a5"/><stop offset="0.509" stop-color="#1395d9"/><stop offset="0.579" stop-color="#128ce8"/><stop offset="0.623" stop-color="#167fe0"/><stop offset="0.642" stop-color="#1a6fd6"/><stop offset="0.667" stop-color="#2b42a9"/><stop offset="0.679" stop-color="#323496"/><stop offset="1.000" stop-color="#323496"/></linearGradient><linearGradient id="g70" x1="0" y1="0" x2="0" y2="1"><stop offset="0.000" stop-color="#323496"/><stop offset="0.057" stop-color="#313699"/><stop offset="0.063" stop-color="#2e3da2"/><stop offset="0.069" stop-color="#254fbb"/><stop offset="0.082" stop-color="#1581e1"/><stop offset="0.088" stop-color="#177bde"/><stop offset="0.094" stop-color="#138fe2"/><stop offset="0.101" stop-color="#159dcd"/><stop offset="0.113" stop-color="#16a4c0"/><stop offset="0.119" stop-color="#20ba93"/><stop offset="0.126" stop-color="#42cc6b"/><stop offset="0.132" stop-color="#dae788"/><stop offset="0.138" stop-color="#e7e48a"/><stop offset="0.145" stop-color="#b28c6f"/><stop offset="0.151" stop-color="#937163"/><stop offset="0.176" stop-color="#d9c8c2"/><stop offset="0.182" stop-color="#efe5e3"/><stop offset="0.189" stop-color="#f5eeec"/><stop offset="0.258" stop-color="#eee5e2"/><stop offset="0.358" stop-color="#f5efed"/><stop offset="0.371" stop-color="#f2eae7"/><stop offset="0.390" stop-color="#b3988e"/><stop offset="0.396" stop-color="#af9388"/><stop offset="0.403" stop-color="#977668"/><stop offset="0.409" stop-color="#906d5f"/><stop offset="0.415" stop-color="#d6b981"/><stop offset="0.421" stop-color="#eee28c"/><stop offset="0.472" stop-color="#ede38b"/><stop offset="0.478" stop-color="#e0e689"/><stop offset="0.484" stop-color="#7fd970"/><stop offset="0.491" stop-color="#2cc671"/><stop offset="0.497" stop-color="#23bd8b"/><stop offset="0.503" stop-color="#15a1c6"/><stop offset="0.566" stop-color="#149ad1"/><stop offset="0.623" stop-color="#1388e6"/><stop offset="0.642" stop-color="#1875da"/><stop offset="0.654" stop-color="#2156c5"/><stop offset="0.679" stop-color="#323496"/><stop offset="1.000" stop-color="#323496"/></linearGradient><linearGradient id="g71" x1="0" y1="0" x2="0" y2="1"><stop offset="0.000" stop-color="#323496"/><stop offset="0.057" stop-color="#30389c"/><stop offset="0.069" stop-color="#2352c0"/><stop offset="0.082" stop-color="#177add"/><stop offset="0.088" stop-color="#167ddf"/><stop offset="0.094" stop-color="#128de7"/><stop offset="0.107" stop-color="#1498d5"/><stop offset="0.113" stop-color="#16a5bf"/><stop offset="0.119" stop-color="#20ba93"/><stop offset="0.126" stop-color="#38ca6b"/><stop offset="0.132" stop-color="#c3e582"/><stop offset="0.138" stop-color="#eae38b"/><stop offset="0.145" stop-color="#a27d65"/><stop offset="0.151" stop-color="#906d5f"/><stop offset="0.164" stop-color="#ab8e83"/><stop offset="0.182" stop-color="#ede3e0"/><stop offset="0.189" stop-color="#f5edeb"/><stop offset="0.233" stop-color="#f1e8e6"/><stop offset="0.352" stop-color="#f5efed"/><stop offset="0.365" stop-color="#f5eeec"/><stop offset="0.384" stop-color="#b79d94"/><stop offset="0.396" stop-color="#a38578"/><stop offset="0.403" stop-color="#926f61"/><stop offset="0.409" stop-color="#ad886c"/><stop offset="0.415" stop-color="#eee28c"/><stop offset="0.472" stop-color="#eae38b"/><stop offset="0.478" stop-color="#d8e887"/><stop offset="0.484" stop-color="#55d06c"/><stop offset="0.491" stop-color="#27c17e"/><stop offset="0.497" stop-color="#21bb8f"/><stop offset="0.503" stop-color="#15a0c8"/><stop offset="0.591" stop-color="#128ce8"/><stop offset="0.616" stop-color="#1484e3"/><stop offset="0.635" stop-color="#177add"/><stop offset="0.648" stop-color="#1e61cd"/><stop offset="0.673" stop-color="#313699"/><stop offset="0.679" stop-color="#323496"/><stop offset="1.000" stop-color="#323496"/></linearGradient><linearGradient id="g72" x1="0" y1="0" x2="0" y2="1"><stop offset="0.000" stop-color="#2947b0"/><stop offset="0.057" stop-color="#254fbb"/><stop offset="0.069" stop-color="#1a6fd6"/><stop offset="0.082" stop-color="#128ee5"/><stop offset="0.088" stop-color="#1582e2"/><stop offset="0.094" stop-color="#1392de"/><stop offset="0.107" stop-color="#1498d5"/><stop offset="0.113" stop-color="#18b1ac"/><stop offset="0.119" stop-color="#26c083"/><stop offset="0.126" stop-color="#51d06c"/><stop offset="0.132" stop-color="#d3e786"/><stop offset="0.138" stop-color="#f0e28c"/><stop offset="0.145" stop-color="#886456"/><stop offset="0.157" stop-color="#957264"/><stop offset="0.164" stop-color="#a4867a"/><stop offset="0.176" stop-color="#dbcbc7"/><stop offset="0.182" stop-color="#e7dcd8"/><stop offset="0.289" stop-color="#f5eeec"/><stop offset="0.358" stop-color="#f4edeb"/><stop offset="0.365" stop-color="#e5d9d5"/><stop offset="0.377" stop-color="#b79d93"/><stop offset="0.384" stop-color="#a5867a"/><stop offset="0.403" stop-color="#886456"/><stop offset="0.409" stop-color="#ece38b"/><stop offset="0.415" stop-color="#e4e58a"/><stop offset="0.465" stop-color="#e1e689"/><stop offset="0.472" stop-color="#d1e786"/><stop offset="0.478" stop-color="#37ca6b"/><stop offset="0.484" stop-color="#22bc8c"/><stop offset="0.491" stop-color="#19b3a8"/><stop offset="0.497" stop-color="#1390e1"/><stop offset="0.522" stop-color="#128ce8"/><stop offset="0.635" stop-color="#177add"/><stop offset="0.654" stop-color="#2351bf"/><stop offset="0.673" stop-color="#313597"/><stop offset="0.679" stop-color="#323496"/><stop offset="0.868" stop-color="#323496"/><stop offset="1.000" stop-color="#2e3ba0"/></linearGradient><linearGradient id="g73" x1="0" y1="0" x2="0" y2="1"><stop offset="0.000" stop-color="#2b43ab"/><stop offset="0.050" stop-color="#2c40a6"/><stop offset="0.069" stop-color="#205ac9"/><stop offset="0.094" stop-color="#128de6"/><stop offset="0.101" stop-color="#128ee4"/><stop offset="0.107" stop-color="#159dcd"/><stop offset="0.113" stop-color="#19b3a6"/><stop offset="0.119" stop-color="#27c17e"/><stop offset="0.126" stop-color="#5ad26c"/><stop offset="0.132" stop-color="#dde788"/><stop offset="0.138" stop-color="#e8d689"/><stop offset="0.145" stop-color="#8b6758"/><stop offset="0.151" stop-color="#8e6b5d"/><stop offset="0.157" stop-color="#9b7a6d"/><stop offset="0.170" stop-color="#d3c1bb"/><stop offset="0.176" stop-color="#e6dad7"/><stop offset="0.182" stop-color="#efe5e3"/><stop offset="0.289" stop-color="#f5eeec"/><stop offset="0.352" stop-color="#f5eeec"/><stop offset="0.358" stop-color="#efe6e3"/><stop offset="0.365" stop-color="#e1d3cf"/><stop offset="0.377" stop-color="#ab8e83"/><stop offset="0.384" stop-color="#9b7b6d"/><stop offset="0.396" stop-color="#8a6658"/><stop offset="0.403" stop-color="#ead98a"/><stop offset="0.409" stop-color="#dfe689"/><stop offset="0.465" stop-color="#dae788"/><stop offset="0.472" stop-color="#7dd96f"/><stop offset="0.478" stop-color="#28c27c"/><stop offset="0.484" stop-color="#1db79c"/><stop offset="0.491" stop-color="#18afae"/><stop offset="0.497" stop-color="#1391e0"/><stop offset="0.572" stop-color="#1395da"/><stop offset="0.623" stop-color="#128be8"/><stop offset="0.635" stop-color="#167ee0"/><stop offset="0.654" stop-color="#2353c1"/><stop offset="0.673" stop-color="#313597"/><stop offset="0.679" stop-color="#323496"/><stop offset="1.000" stop-color="#2f3a9e"/></linearGradient><linearGradient id="g74" x1="0" y1="0" x2="0" y2="1"><stop offset="0.000" stop-color="#2d3fa5"/><stop offset="0.050" stop-color="#30399d"/><stop offset="0.069" stop-color="#2353c1"/><stop offset="0.082" stop-color="#1a6dd5"/><stop offset="0.094" stop-color="#138ae6"/><stop offset="0.101" stop-color="#128be7"/><stop offset="0.113" stop-color="#1db79d"/><stop offset="0.119" stop-color="#29c377"/><stop offset="0.126" stop-color="#68d56d"/><stop offset="0.132" stop-color="#dde788"/><stop offset="0.138" stop-color="#e6d288"/><stop offset="0.145" stop-color="#8f6b5a"/><stop offset="0.151" stop-color="#916e60"/><stop offset="0.170" stop-color="#e4d6d3"/><stop offset="0.182" stop-color="#f2e9e7"/><stop offset="0.296" stop-color="#f5eeed"/><stop offset="0.352" stop-color="#f5eeec"/><stop offset="0.358" stop-color="#efe6e3"/><stop offset="0.377" stop-color="#aa8d82"/><stop offset="0.384" stop-color="#99786b"/><stop offset="0.390" stop-color="#8f6c5e"/><stop offset="0.396" stop-color="#aa856b"/><stop offset="0.403" stop-color="#e6e48a"/><stop offset="0.409" stop-color="#dfe689"/><stop offset="0.459" stop-color="#dae788"/><stop offset="0.465" stop-color="#b6e27e"/><stop offset="0.472" stop-color="#2dc76e"/><stop offset="0.484" stop-color="#18b0ad"/><stop offset="0.491" stop-color="#128ee5"/><stop offset="0.579" stop-color="#149ad1"/><stop offset="0.616" stop-color="#1498d5"/><stop offset="0.635" stop-color="#1389e6"/><stop offset="0.654" stop-color="#1e60cd"/><stop offset="0.673" stop-color="#2f3a9f"/><stop offset="0.679" stop-color="#323496"/><stop offset="1.000" stop-color="#30389c"/></linearGradient><linearGradient id="g75" x1="0" y1="0" x2="0" y2="1"><stop offset="0.000" stop-color="#2e3ca1"/><stop offset="0.050" stop-color="#323497"/><stop offset="0.069" stop-color="#2253c1"/><stop offset="0.094" stop-color="#1389e6"/><stop offset="0.101" stop-color="#1393dd"/><stop offset="0.113" stop-color="#1eb897"/><stop offset="0.119" stop-color="#2ac475"/><stop offset="0.126" stop-color="#6cd56d"/><stop offset="0.132" stop-color="#dee688"/><stop offset="0.138" stop-color="#e0c985"/><stop offset="0.145" stop-color="#896557"/><stop offset="0.151" stop-color="#947264"/><stop offset="0.157" stop-color="#b69b92"/><stop offset="0.170" stop-color="#ddcdc8"/><stop offset="0.182" stop-color="#eee5e2"/><stop offset="0.289" stop-color="#f5efed"/><stop offset="0.352" stop-color="#f5eeec"/><stop offset="0.358" stop-color="#e9deda"/><stop offset="0.377" stop-color="#a08174"/><stop offset="0.390" stop-color="#8a6759"/><stop offset="0.396" stop-color="#dfc885"/><stop offset="0.403" stop-color="#dee688"/><stop offset="0.459" stop-color="#dae788"/><stop offset="0.465" stop-color="#8fdc74"/><stop offset="0.472" stop-color="#29c379"/><stop offset="0.478" stop-color="#1eb89a"/><stop offset="0.484" stop-color="#17afaf"/><stop offset="0.491" stop-color="#1390e2"/><stop offset="0.604" stop-color="#159dcb"/><stop offset="0.629" stop-color="#1498d5"/><stop offset="0.635" stop-color="#128de6"/><stop offset="0.642" stop-color="#157fe0"/><stop offset="0.648" stop-color="#128de6"/><stop offset="0.660" stop-color="#1b6ad3"/><stop offset="0.673" stop-color="#2849b3"/><stop offset="0.717" stop-color="#323496"/><stop offset="1.000" stop-color="#31379a"/></linearGradient><linearGradient id="g76" x1="0" y1="0" x2="0" y2="1"><stop offset="0.000" stop-color="#2b41a8"/><stop offset="0.050" stop-color="#2254c2"/><stop offset="0.069" stop-color="#128ee4"/><stop offset="0.075" stop-color="#159dcc"/><stop offset="0.082" stop-color="#1388e5"/><stop offset="0.094" stop-color="#159ecb"/><stop offset="0.101" stop-color="#17acb4"/><stop offset="0.113" stop-color="#36ca6a"/><stop offset="0.119" stop-color="#ace17c"/><stop offset="0.126" stop-color="#dfe689"/><stop offset="0.132" stop-color="#d9bf83"/><stop offset="0.138" stop-color="#8a6658"/><stop offset="0.145" stop-color="#947264"/><stop offset="0.157" stop-color="#cfbbb5"/><stop offset="0.170" stop-color="#ece2df"/><stop offset="0.176" stop-color="#f5eeec"/><stop offset="0.189" stop-color="#f5efed"/><stop offset="0.352" stop-color="#f4ecea"/><stop offset="0.358" stop-color="#e5d8d4"/><stop offset="0.371" stop-color="#b79d94"/><stop offset="0.384" stop-color="#927062"/><stop offset="0.390" stop-color="#8b6759"/><stop offset="0.396" stop-color="#edde8b"/><stop offset="0.403" stop-color="#e5e58a"/><stop offset="0.459" stop-color="#e0e689"/><stop offset="0.465" stop-color="#9cde77"/><stop offset="0.472" stop-color="#2cc670"/><stop offset="0.478" stop-color="#21bb90"/><stop offset="0.484" stop-color="#1cb69f"/><stop offset="0.491" stop-color="#1499d2"/><stop offset="0.610" stop-color="#16a5bf"/><stop offset="0.629" stop-color="#15a0c7"/><stop offset="0.642" stop-color="#138ae7"/><stop offset="0.648" stop-color="#16a8ba"/><stop offset="0.660" stop-color="#128ae7"/><stop offset="0.673" stop-color="#1d63cf"/><stop offset="0.679" stop-color="#1f5ccb"/><stop offset="0.761" stop-color="#323597"/><stop offset="1.000" stop-color="#30389c"/></linearGradient><linearGradient id="g77" x1="0" y1="0" x2="0" y2="1"><stop offset="0.000" stop-color="#30389c"/><stop offset="0.044" stop-color="#2c40a6"/><stop offset="0.050" stop-color="#2945ae"/><stop offset="0.063" stop-color="#1e61ce"/><stop offset="0.075" stop-color="#1387e5"/><stop offset="0.082" stop-color="#1581e1"/><stop offset="0.088" stop-color="#1390e2"/><stop offset="0.094" stop-color="#1497d6"/><stop offset="0.101" stop-color="#16a5bf"/><stop offset="0.113" stop-color="#2ec86a"/><stop offset="0.119" stop-color="#a6e07a"/><stop offset="0.126" stop-color="#dfe689"/><stop offset="0.132" stop-color="#dac183"/><stop offset="0.138" stop-color="#8c685a"/><stop offset="0.145" stop-color="#947264"/><stop offset="0.157" stop-color="#d4c2bc"/><stop offset="0.170" stop-color="#f4edeb"/><stop offset="0.189" stop-color="#f6f0ee"/><stop offset="0.352" stop-color="#f5eeec"/><stop offset="0.358" stop-color="#e6dad7"/><stop offset="0.384" stop-color="#937163"/><stop offset="0.390" stop-color="#8c6858"/><stop offset="0.396" stop-color="#efe28c"/><stop offset="0.453" stop-color="#e4cf87"/><stop offset="0.459" stop-color="#eae38b"/><stop offset="0.465" stop-color="#dbe788"/><stop offset="0.472" stop-color="#53d06c"/><stop offset="0.478" stop-color="#2ac476"/><stop offset="0.484" stop-color="#16a8ba"/><stop offset="0.610" stop-color="#16a7bd"/><stop offset="0.629" stop-color="#15a1c6"/><stop offset="0.642" stop-color="#1486e4"/><stop offset="0.648" stop-color="#16a4c1"/><stop offset="0.660" stop-color="#1486e5"/><stop offset="0.673" stop-color="#1e5fcc"/><stop offset="0.679" stop-color="#2059c9"/><stop offset="0.748" stop-color="#2c3fa5"/><stop offset="0.855" stop-color="#323496"/><stop offset="1.000" stop-color="#313598"/></linearGradient><linearGradient id="g78" x1="0" y1="0" x2="0" y2="1"><stop offset="0.000" stop-color="#323597"/><stop offset="0.044" stop-color="#2b42a9"/><stop offset="0.057" stop-color="#1f5ac9"/><stop offset="0.069" stop-color="#1483e3"/><stop offset="0.075" stop-color="#1496d8"/><stop offset="0.082" stop-color="#138ae7"/><stop offset="0.088" stop-color="#1498d5"/><stop offset="0.094" stop-color="#149ccf"/><stop offset="0.101" stop-color="#17aeb0"/><stop offset="0.107" stop-color="#24be87"/><stop offset="0.113" stop-color="#46cd6b"/><stop offset="0.119" stop-color="#cee685"/><stop offset="0.126" stop-color="#e3e589"/><stop offset="0.132" stop-color="#dec785"/><stop offset="0.138" stop-color="#896557"/><stop offset="0.145" stop-color="#937062"/><stop offset="0.151" stop-color="#aa8d82"/><stop offset="0.157" stop-color="#cebab3"/><stop offset="0.170" stop-color="#ebe0dd"/><stop offset="0.176" stop-color="#f5eeec"/><stop offset="0.189" stop-color="#f6efee"/><stop offset="0.346" stop-color="#f5eeec"/><stop offset="0.352" stop-color="#ebe0dd"/><stop offset="0.377" stop-color="#937062"/><stop offset="0.384" stop-color="#8b685a"/><stop offset="0.390" stop-color="#e5d188"/><stop offset="0.396" stop-color="#e3e589"/><stop offset="0.453" stop-color="#e8e48a"/><stop offset="0.459" stop-color="#d9e787"/><stop offset="0.465" stop-color="#6bd56d"/><stop offset="0.472" stop-color="#2cc670"/><stop offset="0.478" stop-color="#24be88"/><stop offset="0.484" stop-color="#15a0c7"/><stop offset="0.604" stop-color="#1395d9"/><stop offset="0.629" stop-color="#1389e6"/><stop offset="0.654" stop-color="#1e5ecc"/><stop offset="0.673" stop-color="#2c40a7"/><stop offset="0.780" stop-color="#323496"/><stop offset="1.000" stop-color="#323496"/></linearGradient><linearGradient id="g79" x1="0" y1="0" x2="0" y2="1"><stop offset="0.000" stop-color="#2e3ca1"/><stop offset="0.044" stop-color="#30399d"/><stop offset="0.063" stop-color="#2156c5"/><stop offset="0.088" stop-color="#128ce7"/><stop offset="0.094" stop-color="#128ee5"/><stop offset="0.107" stop-color="#19b3a6"/><stop offset="0.113" stop-color="#25bf83"/><stop offset="0.119" stop-color="#3ecb6b"/><stop offset="0.126" stop-color="#96dd76"/><stop offset="0.132" stop-color="#e2e589"/><stop offset="0.138" stop-color="#d9bf83"/><stop offset="0.145" stop-color="#896557"/><stop offset="0.151" stop-color="#916f61"/><stop offset="0.170" stop-color="#d5c3be"/><stop offset="0.182" stop-color="#f2e9e7"/><stop offset="0.252" stop-color="#f6efed"/><stop offset="0.346" stop-color="#f5eeec"/><stop offset="0.352" stop-color="#eadfdc"/><stop offset="0.371" stop-color="#a28377"/><stop offset="0.377" stop-color="#8f6c5e"/><stop offset="0.384" stop-color="#a68168"/><stop offset="0.390" stop-color="#e8e48a"/><stop offset="0.396" stop-color="#e2e589"/><stop offset="0.453" stop-color="#e0e689"/><stop offset="0.459" stop-color="#b3e27e"/><stop offset="0.465" stop-color="#47ce6b"/><stop offset="0.472" stop-color="#27c17d"/><stop offset="0.478" stop-color="#1fb994"/><stop offset="0.484" stop-color="#149bcf"/><stop offset="0.528" stop-color="#1499d2"/><stop offset="0.610" stop-color="#128ce8"/><stop offset="0.629" stop-color="#1483e3"/><stop offset="0.648" stop-color="#1f5cca"/><stop offset="0.673" stop-color="#2f399d"/><stop offset="0.711" stop-color="#2c40a6"/><stop offset="0.811" stop-color="#323496"/><stop offset="1.000" stop-color="#31379a"/></linearGradient><linearGradient id="g80" x1="0" y1="0" x2="0" y2="1"><stop offset="0.000" stop-color="#2e3ba0"/><stop offset="0.044" stop-color="#30389b"/><stop offset="0.069" stop-color="#1e61cd"/><stop offset="0.088" stop-color="#1389e6"/><stop offset="0.094" stop-color="#128be7"/><stop offset="0.113" stop-color="#20ba92"/><stop offset="0.119" stop-color="#2bc574"/><stop offset="0.126" stop-color="#67d46d"/><stop offset="0.132" stop-color="#dce788"/><stop offset="0.138" stop-color="#edde8b"/><stop offset="0.145" stop-color="#ad886c"/><stop offset="0.151" stop-color="#8b685a"/><stop offset="0.157" stop-color="#937163"/><stop offset="0.170" stop-color="#bba198"/><stop offset="0.176" stop-color="#d5c3be"/><stop offset="0.195" stop-color="#e6dad6"/><stop offset="0.289" stop-color="#e3d6d2"/><stop offset="0.340" stop-color="#e7dcd8"/><stop offset="0.352" stop-color="#d7c5c0"/><stop offset="0.365" stop-color="#9f8073"/><stop offset="0.371" stop-color="#916e60"/><stop offset="0.377" stop-color="#936e5c"/><stop offset="0.384" stop-color="#efe08c"/><stop offset="0.390" stop-color="#dbe788"/><stop offset="0.453" stop-color="#d9e887"/><stop offset="0.459" stop-color="#84da71"/><stop offset="0.465" stop-color="#2ac476"/><stop offset="0.478" stop-color="#19b3a7"/><stop offset="0.484" stop-color="#1392df"/><stop offset="0.572" stop-color="#128ce8"/><stop offset="0.629" stop-color="#1484e3"/><stop offset="0.648" stop-color="#1f5dcb"/><stop offset="0.673" stop-color="#2e3ba0"/><stop offset="0.717" stop-color="#2c3fa6"/><stop offset="0.811" stop-color="#323496"/><stop offset="1.000" stop-color="#313699"/></linearGradient><linearGradient id="g81" x1="0" y1="0" x2="0" y2="1"><stop offset="0.000" stop-color="#2c41a8"/><stop offset="0.044" stop-color="#274bb5"/><stop offset="0.050" stop-color="#2057c7"/><stop offset="0.069" stop-color="#128ce7"/><stop offset="0.075" stop-color="#1580e0"/><stop offset="0.082" stop-color="#128ee4"/><stop offset="0.088" stop-color="#1497d7"/><stop offset="0.094" stop-color="#1498d4"/><stop offset="0.107" stop-color="#1eb899"/><stop offset="0.113" stop-color="#28c27a"/><stop offset="0.119" stop-color="#57d16c"/><stop offset="0.126" stop-color="#b5e27e"/><stop offset="0.132" stop-color="#e4e58a"/><stop offset="0.138" stop-color="#d4b781"/><stop offset="0.145" stop-color="#896557"/><stop offset="0.157" stop-color="#937163"/><stop offset="0.170" stop-color="#c4ada5"/><stop offset="0.182" stop-color="#dfd1cc"/><stop offset="0.201" stop-color="#eee4e2"/><stop offset="0.340" stop-color="#decfcb"/><stop offset="0.346" stop-color="#d6c4bf"/><stop offset="0.358" stop-color="#a28377"/><stop offset="0.365" stop-color="#926f61"/><stop offset="0.371" stop-color="#936f5d"/><stop offset="0.377" stop-color="#d6ba81"/><stop offset="0.384" stop-color="#e0e689"/><stop offset="0.390" stop-color="#9dde78"/><stop offset="0.447" stop-color="#bae37f"/><stop offset="0.453" stop-color="#91dc75"/><stop offset="0.459" stop-color="#4fcf6c"/><stop offset="0.465" stop-color="#21bb90"/><stop offset="0.478" stop-color="#16a5c0"/><stop offset="0.484" stop-color="#1483e2"/><stop offset="0.547" stop-color="#167cde"/><stop offset="0.623" stop-color="#138ae7"/><stop offset="0.648" stop-color="#1c66d1"/><stop offset="0.673" stop-color="#2d3ea4"/><stop offset="0.786" stop-color="#323496"/><stop offset="1.000" stop-color="#30389c"/></linearGradient><linearGradient id="g82" x1="0" y1="0" x2="0" y2="1"><stop offset="0.000" stop-color="#313598"/><stop offset="0.038" stop-color="#31379a"/><stop offset="0.044" stop-color="#2e3ba0"/><stop offset="0.063" stop-color="#1e61ce"/><stop offset="0.082" stop-color="#1389e6"/><stop offset="0.094" stop-color="#1392df"/><stop offset="0.107" stop-color="#18b2a9"/><stop offset="0.119" stop-color="#34c96a"/><stop offset="0.126" stop-color="#77d86e"/><stop offset="0.132" stop-color="#dce788"/><stop offset="0.138" stop-color="#e8e48a"/><stop offset="0.145" stop-color="#e1cb86"/><stop offset="0.151" stop-color="#9d7862"/><stop offset="0.157" stop-color="#8e6b5d"/><stop offset="0.164" stop-color="#967466"/><stop offset="0.170" stop-color="#ab8f84"/><stop offset="0.189" stop-color="#d9c8c3"/><stop offset="0.201" stop-color="#e7dbd7"/><stop offset="0.270" stop-color="#decfcb"/><stop offset="0.340" stop-color="#ddcec9"/><stop offset="0.346" stop-color="#d5c3bd"/><stop offset="0.352" stop-color="#b69b92"/><stop offset="0.358" stop-color="#9f7f73"/><stop offset="0.365" stop-color="#916e60"/><stop offset="0.371" stop-color="#987360"/><stop offset="0.377" stop-color="#ddc584"/><stop offset="0.384" stop-color="#dde788"/><stop offset="0.390" stop-color="#b6e27e"/><stop offset="0.421" stop-color="#cee685"/><stop offset="0.447" stop-color="#d3e786"/><stop offset="0.453" stop-color="#a7e07a"/><stop offset="0.459" stop-color="#4dcf6c"/><stop offset="0.465" stop-color="#22bc8d"/><stop offset="0.478" stop-color="#16a5bf"/><stop offset="0.484" stop-color="#1483e3"/><stop offset="0.553" stop-color="#1875da"/><stop offset="0.623" stop-color="#1389e6"/><stop offset="0.648" stop-color="#1875da"/><stop offset="0.673" stop-color="#2351bf"/><stop offset="0.704" stop-color="#2450bd"/><stop offset="0.792" stop-color="#313699"/><stop offset="1.000" stop-color="#323497"/></linearGradient><linearGradient id="g83" x1="0" y1="0" x2="0" y2="1"><stop offset="0.000" stop-color="#323496"/><stop offset="0.044" stop-color="#323597"/><stop offset="0.069" stop-color="#2058c8"/><stop offset="0.088" stop-color="#1875da"/><stop offset="0.094" stop-color="#1876da"/><stop offset="0.101" stop-color="#1485e4"/><stop offset="0.107" stop-color="#1497d6"/><stop offset="0.119" stop-color="#1bb5a2"/><stop offset="0.126" stop-color="#23bd8b"/><stop offset="0.132" stop-color="#3fcc6b"/><stop offset="0.138" stop-color="#6fd66e"/><stop offset="0.145" stop-color="#dbe788"/><stop offset="0.151" stop-color="#efe28c"/><stop offset="0.157" stop-color="#ccaa7d"/><stop offset="0.164" stop-color="#96715e"/><stop offset="0.170" stop-color="#8e6b5d"/><stop offset="0.176" stop-color="#957365"/><stop offset="0.182" stop-color="#a88a7f"/><stop offset="0.189" stop-color="#c6b0a9"/><stop offset="0.195" stop-color="#d3c0bb"/><stop offset="0.208" stop-color="#dfd0cb"/><stop offset="0.333" stop-color="#eadfdb"/><stop offset="0.346" stop-color="#dfd0cb"/><stop offset="0.358" stop-color="#b3988d"/><stop offset="0.365" stop-color="#957365"/><stop offset="0.371" stop-color="#8b6759"/><stop offset="0.377" stop-color="#cdac7e"/><stop offset="0.384" stop-color="#e4e58a"/><stop offset="0.447" stop-color="#e8e48a"/><stop offset="0.453" stop-color="#e1e689"/><stop offset="0.459" stop-color="#c4e582"/><stop offset="0.465" stop-color="#3fcc6b"/><stop offset="0.472" stop-color="#26c082"/><stop offset="0.478" stop-color="#1eb898"/><stop offset="0.484" stop-color="#1499d3"/><stop offset="0.535" stop-color="#128be7"/><stop offset="0.572" stop-color="#1581e1"/><stop offset="0.623" stop-color="#1580e0"/><stop offset="0.654" stop-color="#254ebb"/><stop offset="0.673" stop-color="#2d3ea4"/><stop offset="0.717" stop-color="#2a44ad"/><stop offset="0.855" stop-color="#323496"/><stop offset="1.000" stop-color="#323496"/></linearGradient><linearGradient id="g84" x1="0" y1="0" x2="0" y2="1"><stop offset="0.000" stop-color="#30399d"/><stop offset="0.038" stop-color="#323496"/><stop offset="0.063" stop-color="#2156c6"/><stop offset="0.088" stop-color="#1581e1"/><stop offset="0.094" stop-color="#1582e2"/><stop offset="0.101" stop-color="#128ee5"/><stop offset="0.113" stop-color="#18afaf"/><stop offset="0.126" stop-color="#24be87"/><stop offset="0.132" stop-color="#2cc671"/><stop offset="0.138" stop-color="#87db72"/><stop offset="0.145" stop-color="#dbe788"/><stop offset="0.151" stop-color="#e9e48b"/><stop offset="0.157" stop-color="#d8bd82"/><stop offset="0.164" stop-color="#a27d66"/><stop offset="0.170" stop-color="#8e6b5d"/><stop offset="0.176" stop-color="#9b7a6c"/><stop offset="0.189" stop-color="#bca39a"/><stop offset="0.195" stop-color="#d3c0ba"/><stop offset="0.214" stop-color="#e7dbd8"/><stop offset="0.333" stop-color="#f2eae7"/><stop offset="0.346" stop-color="#e4d7d3"/><stop offset="0.358" stop-color="#b49a90"/><stop offset="0.365" stop-color="#957264"/><stop offset="0.371" stop-color="#8a6658"/><stop offset="0.377" stop-color="#d0b17f"/><stop offset="0.384" stop-color="#e1e689"/><stop offset="0.447" stop-color="#e3e589"/><stop offset="0.453" stop-color="#dce788"/><stop offset="0.459" stop-color="#76d76e"/><stop offset="0.465" stop-color="#2cc66f"/><stop offset="0.472" stop-color="#21bb8f"/><stop offset="0.478" stop-color="#1ab4a4"/><stop offset="0.484" stop-color="#1394dc"/><stop offset="0.528" stop-color="#128ce8"/><stop offset="0.623" stop-color="#167ddf"/><stop offset="0.648" stop-color="#2351bf"/><stop offset="0.667" stop-color="#31379a"/><stop offset="0.673" stop-color="#323496"/><stop offset="1.000" stop-color="#313698"/></linearGradient><linearGradient id="g85" x1="0" y1="0" x2="0" y2="1"><stop offset="0.000" stop-color="#323496"/><stop offset="0.038" stop-color="#323597"/><stop offset="0.063" stop-color="#1f5bca"/><stop offset="0.088" stop-color="#1389e6"/><stop offset="0.101" stop-color="#1391e0"/><stop offset="0.119" stop-color="#19b3a6"/><stop offset="0.132" stop-color="#2ac475"/><stop offset="0.138" stop-color="#58d16c"/><stop offset="0.145" stop-color="#92dc75"/><stop offset="0.151" stop-color="#dbe788"/><stop offset="0.157" stop-color="#efe18c"/><stop offset="0.164" stop-color="#bf9977"/><stop offset="0.170" stop-color="#886456"/><stop offset="0.182" stop-color="#967466"/><stop offset="0.195" stop-color="#b4998f"/><stop offset="0.201" stop-color="#ccb7b1"/><stop offset="0.208" stop-color="#d7c5c0"/><stop offset="0.226" stop-color="#e3d6d2"/><stop offset="0.333" stop-color="#e8ddda"/><stop offset="0.346" stop-color="#d8c6c1"/><stop offset="0.352" stop-color="#b79c93"/><stop offset="0.358" stop-color="#9e7e71"/><stop offset="0.365" stop-color="#8e6b5d"/><stop offset="0.371" stop-color="#b18c6f"/><stop offset="0.377" stop-color="#ece38b"/><stop offset="0.384" stop-color="#d3e786"/><stop offset="0.447" stop-color="#dbe788"/><stop offset="0.453" stop-color="#c6e583"/><stop offset="0.459" stop-color="#4bce6c"/><stop offset="0.465" stop-color="#27c180"/><stop offset="0.478" stop-color="#18afae"/><stop offset="0.484" stop-color="#138fe2"/><stop offset="0.623" stop-color="#1387e5"/><stop offset="0.648" stop-color="#2156c5"/><stop offset="0.667" stop-color="#30389b"/><stop offset="0.673" stop-color="#323496"/><stop offset="1.000" stop-color="#323496"/></linearGradient><linearGradient id="g86" x1="0" y1="0" x2="0" y2="1"><stop offset="0.000" stop-color="#323496"/><stop offset="0.044" stop-color="#313699"/><stop offset="0.069" stop-color="#2059c8"/><stop offset="0.088" stop-color="#1580e1"/><stop offset="0.101" stop-color="#1484e3"/><stop offset="0.107" stop-color="#1390e2"/><stop offset="0.126" stop-color="#1cb69e"/><stop offset="0.138" stop-color="#29c379"/><stop offset="0.145" stop-color="#65d46d"/><stop offset="0.151" stop-color="#d8e887"/><stop offset="0.164" stop-color="#ead889"/><stop offset="0.170" stop-color="#b69072"/><stop offset="0.176" stop-color="#8b6759"/><stop offset="0.189" stop-color="#9d7d70"/><stop offset="0.208" stop-color="#d3c0bb"/><stop offset="0.226" stop-color="#e9ddda"/><stop offset="0.308" stop-color="#f2eae8"/><stop offset="0.333" stop-color="#f1e9e7"/><stop offset="0.340" stop-color="#e9dedb"/><stop offset="0.346" stop-color="#dcccc7"/><stop offset="0.358" stop-color="#a38477"/><stop offset="0.365" stop-color="#8e6b5d"/><stop offset="0.371" stop-color="#987460"/><stop offset="0.377" stop-color="#e2cd86"/><stop offset="0.384" stop-color="#dfe689"/><stop offset="0.447" stop-color="#dfe689"/><stop offset="0.453" stop-color="#d8e887"/><stop offset="0.459" stop-color="#73d76e"/><stop offset="0.465" stop-color="#2ac476"/><stop offset="0.478" stop-color="#1ab4a3"/><stop offset="0.484" stop-color="#1496d8"/><stop offset="0.572" stop-color="#1496d7"/><stop offset="0.597" stop-color="#1394db"/><stop offset="0.616" stop-color="#128be7"/><stop offset="0.623" stop-color="#1387e5"/><stop offset="0.642" stop-color="#1f5dcb"/><stop offset="0.667" stop-color="#323496"/><stop offset="1.000" stop-color="#323496"/></linearGradient><linearGradient id="g87" x1="0" y1="0" x2="0" y2="1"><stop offset="0.000" stop-color="#313395"/><stop offset="0.050" stop-color="#30379a"/><stop offset="0.075" stop-color="#1f5bca"/><stop offset="0.088" stop-color="#1877db"/><stop offset="0.107" stop-color="#1484e3"/><stop offset="0.113" stop-color="#1496d7"/><stop offset="0.126" stop-color="#18b1ac"/><stop offset="0.138" stop-color="#29c378"/><stop offset="0.145" stop-color="#58d16c"/><stop offset="0.157" stop-color="#dce788"/><stop offset="0.164" stop-color="#ede38b"/><stop offset="0.170" stop-color="#a9836a"/><stop offset="0.176" stop-color="#896557"/><stop offset="0.182" stop-color="#8f6c5e"/><stop offset="0.195" stop-color="#ad9186"/><stop offset="0.201" stop-color="#b49a90"/><stop offset="0.214" stop-color="#d9c8c3"/><stop offset="0.233" stop-color="#eee5e2"/><stop offset="0.252" stop-color="#f5edeb"/><stop offset="0.333" stop-color="#f6f0ee"/><stop offset="0.346" stop-color="#f5edeb"/><stop offset="0.358" stop-color="#d4c1bb"/><stop offset="0.365" stop-color="#b89e95"/><stop offset="0.377" stop-color="#916e60"/><stop offset="0.384" stop-color="#a88369"/><stop offset="0.390" stop-color="#c6a27b"/><stop offset="0.421" stop-color="#c6a27b"/><stop offset="0.447" stop-color="#ceae7e"/><stop offset="0.453" stop-color="#ebda8a"/><stop offset="0.459" stop-color="#ede38b"/><stop offset="0.465" stop-color="#bfe481"/><stop offset="0.472" stop-color="#43cd6b"/><stop offset="0.478" stop-color="#29c378"/><stop offset="0.484" stop-color="#17aab8"/><stop offset="0.597" stop-color="#1496d8"/><stop offset="0.623" stop-color="#138ae7"/><stop offset="0.642" stop-color="#1f5ccb"/><stop offset="0.667" stop-color="#323496"/><stop offset="1.000" stop-color="#313395"/></linearGradient><linearGradient id="g88" x1="0" y1="0" x2="0" y2="1"><stop offset="0.000" stop-color="#313495"/><stop offset="0.044" stop-color="#323496"/><stop offset="0.069" stop-color="#2254c2"/><stop offset="0.088" stop-color="#1778dc"/><stop offset="0.107" stop-color="#1486e4"/><stop offset="0.113" stop-color="#128ee4"/><stop offset="0.132" stop-color="#1cb69e"/><stop offset="0.145" stop-color="#2ac476"/><stop offset="0.151" stop-color="#58d16c"/><stop offset="0.157" stop-color="#d2e786"/><stop offset="0.164" stop-color="#e5e58a"/><stop offset="0.170" stop-color="#e8d689"/><stop offset="0.176" stop-color="#b18c6f"/><stop offset="0.182" stop-color="#896658"/><stop offset="0.195" stop-color="#967466"/><stop offset="0.214" stop-color="#c1a9a1"/><stop offset="0.220" stop-color="#d7c6c1"/><stop offset="0.239" stop-color="#ede3e1"/><stop offset="0.264" stop-color="#f5eeec"/><stop offset="0.327" stop-color="#f6f0ee"/><stop offset="0.340" stop-color="#f6efee"/><stop offset="0.346" stop-color="#f0e8e5"/><stop offset="0.358" stop-color="#d4c1bb"/><stop offset="0.377" stop-color="#927062"/><stop offset="0.384" stop-color="#97725f"/><stop offset="0.390" stop-color="#bc9775"/><stop offset="0.415" stop-color="#c29c79"/><stop offset="0.447" stop-color="#d3b680"/><stop offset="0.453" stop-color="#f0e28c"/><stop offset="0.459" stop-color="#e6e48a"/><stop offset="0.465" stop-color="#8cdb73"/><stop offset="0.472" stop-color="#30c86a"/><stop offset="0.478" stop-color="#27c17f"/><stop offset="0.484" stop-color="#16a5bf"/><stop offset="0.528" stop-color="#159dcd"/><stop offset="0.604" stop-color="#1499d3"/><stop offset="0.623" stop-color="#1391e0"/><stop offset="0.629" stop-color="#1582e2"/><stop offset="0.648" stop-color="#2058c8"/><stop offset="0.660" stop-color="#2c40a7"/><stop offset="0.667" stop-color="#313698"/><stop offset="0.673" stop-color="#323496"/><stop offset="1.000" stop-color="#313495"/></linearGradient><linearGradient id="g89" x1="0" y1="0" x2="0" y2="1"><stop offset="0.000" stop-color="#323496"/><stop offset="0.044" stop-color="#313598"/><stop offset="0.069" stop-color="#2156c5"/><stop offset="0.088" stop-color="#1778dc"/><stop offset="0.113" stop-color="#1484e3"/><stop offset="0.119" stop-color="#128fe3"/><stop offset="0.138" stop-color="#18b2aa"/><stop offset="0.151" stop-color="#29c378"/><stop offset="0.157" stop-color="#61d36d"/><stop offset="0.164" stop-color="#aae07b"/><stop offset="0.170" stop-color="#dee688"/><stop offset="0.176" stop-color="#d8bd82"/><stop offset="0.182" stop-color="#bd9776"/><stop offset="0.189" stop-color="#8c6859"/><stop offset="0.208" stop-color="#987668"/><stop offset="0.220" stop-color="#b99f96"/><stop offset="0.226" stop-color="#d3c0ba"/><stop offset="0.245" stop-color="#ebe1de"/><stop offset="0.270" stop-color="#f5eeec"/><stop offset="0.327" stop-color="#f6f0ee"/><stop offset="0.340" stop-color="#f5eeec"/><stop offset="0.352" stop-color="#d2bfb9"/><stop offset="0.365" stop-color="#b59b91"/><stop offset="0.371" stop-color="#9e7e71"/><stop offset="0.377" stop-color="#916f61"/><stop offset="0.384" stop-color="#a88269"/><stop offset="0.390" stop-color="#d4b781"/><stop offset="0.409" stop-color="#d2b480"/><stop offset="0.434" stop-color="#d9be82"/><stop offset="0.447" stop-color="#e1ca86"/><stop offset="0.453" stop-color="#eae38b"/><stop offset="0.459" stop-color="#e3e589"/><stop offset="0.465" stop-color="#69d56d"/><stop offset="0.472" stop-color="#2dc76e"/><stop offset="0.478" stop-color="#24be88"/><stop offset="0.484" stop-color="#15a0c7"/><stop offset="0.535" stop-color="#1394dc"/><stop offset="0.604" stop-color="#128ce8"/><stop offset="0.623" stop-color="#1582e2"/><stop offset="0.642" stop-color="#2057c7"/><stop offset="0.667" stop-color="#323496"/><stop offset="1.000" stop-color="#323496"/></linearGradient><linearGradient id="g90" x1="0" y1="0" x2="0" y2="1"><stop offset="0.000" stop-color="#2b42a9"/><stop offset="0.044" stop-color="#2b41a8"/><stop offset="0.063" stop-color="#2156c5"/><stop offset="0.094" stop-color="#1486e4"/><stop offset="0.119" stop-color="#138ae7"/><stop offset="0.132" stop-color="#159fc9"/><stop offset="0.138" stop-color="#17afaf"/><stop offset="0.151" stop-color="#24be87"/><stop offset="0.157" stop-color="#3acb6b"/><stop offset="0.164" stop-color="#75d76e"/><stop offset="0.170" stop-color="#dee688"/><stop offset="0.176" stop-color="#ece38b"/><stop offset="0.182" stop-color="#caa77c"/><stop offset="0.195" stop-color="#8a6759"/><stop offset="0.208" stop-color="#967567"/><stop offset="0.220" stop-color="#b79d93"/><stop offset="0.233" stop-color="#decfca"/><stop offset="0.239" stop-color="#e8dcd9"/><stop offset="0.258" stop-color="#f5eeec"/><stop offset="0.302" stop-color="#f6efed"/><stop offset="0.333" stop-color="#f4edeb"/><stop offset="0.352" stop-color="#b1968c"/><stop offset="0.358" stop-color="#ab8e83"/><stop offset="0.371" stop-color="#916e60"/><stop offset="0.377" stop-color="#8d695b"/><stop offset="0.384" stop-color="#dcc484"/><stop offset="0.390" stop-color="#e8e48a"/><stop offset="0.447" stop-color="#ebe38b"/><stop offset="0.453" stop-color="#e1e589"/><stop offset="0.459" stop-color="#c6e583"/><stop offset="0.465" stop-color="#52d06c"/><stop offset="0.472" stop-color="#29c379"/><stop offset="0.478" stop-color="#23bd8b"/><stop offset="0.484" stop-color="#159fc8"/><stop offset="0.597" stop-color="#128be7"/><stop offset="0.623" stop-color="#177bde"/><stop offset="0.642" stop-color="#2353c1"/><stop offset="0.660" stop-color="#31379a"/><stop offset="0.667" stop-color="#323496"/><stop offset="1.000" stop-color="#30389c"/></linearGradient><linearGradient id="g91" x1="0" y1="0" x2="0" y2="1"><stop offset="0.000" stop-color="#2e3ca2"/><stop offset="0.044" stop-color="#2c41a8"/><stop offset="0.063" stop-color="#1e5ecc"/><stop offset="0.075" stop-color="#1877db"/><stop offset="0.082" stop-color="#1877db"/><stop offset="0.088" stop-color="#1484e3"/><stop offset="0.094" stop-color="#1390e2"/><stop offset="0.126" stop-color="#1499d2"/><stop offset="0.138" stop-color="#1cb69e"/><stop offset="0.151" stop-color="#2ac475"/><stop offset="0.157" stop-color="#5cd26c"/><stop offset="0.164" stop-color="#b4e27e"/><stop offset="0.170" stop-color="#e0e689"/><stop offset="0.176" stop-color="#ede38b"/><stop offset="0.182" stop-color="#cfaf7e"/><stop offset="0.189" stop-color="#896557"/><stop offset="0.201" stop-color="#926f61"/><stop offset="0.208" stop-color="#9d7d70"/><stop offset="0.226" stop-color="#cbb6af"/><stop offset="0.245" stop-color="#eadfdc"/><stop offset="0.258" stop-color="#f4edea"/><stop offset="0.289" stop-color="#f5efed"/><stop offset="0.327" stop-color="#f5eeec"/><stop offset="0.333" stop-color="#e5d9d5"/><stop offset="0.346" stop-color="#b4998f"/><stop offset="0.352" stop-color="#a5867a"/><stop offset="0.358" stop-color="#a38477"/><stop offset="0.365" stop-color="#977668"/><stop offset="0.377" stop-color="#8b6759"/><stop offset="0.384" stop-color="#d4b781"/><stop offset="0.390" stop-color="#e5e58a"/><stop offset="0.447" stop-color="#e5e58a"/><stop offset="0.453" stop-color="#dee688"/><stop offset="0.459" stop-color="#9ede78"/><stop offset="0.465" stop-color="#3fcc6b"/><stop offset="0.472" stop-color="#27c17e"/><stop offset="0.478" stop-color="#20ba93"/><stop offset="0.484" stop-color="#159cce"/><stop offset="0.547" stop-color="#1498d4"/><stop offset="0.610" stop-color="#138ae6"/><stop offset="0.623" stop-color="#1582e2"/><stop offset="0.642" stop-color="#2255c3"/><stop offset="0.660" stop-color="#313698"/><stop offset="0.667" stop-color="#323496"/><stop offset="1.000" stop-color="#313699"/></linearGradient><linearGradient id="g92" x1="0" y1="0" x2="0" y2="1"><stop offset="0.000" stop-color="#323496"/><stop offset="0.044" stop-color="#323496"/><stop offset="0.069" stop-color="#2059c8"/><stop offset="0.088" stop-color="#1485e4"/><stop offset="0.094" stop-color="#1391df"/><stop offset="0.126" stop-color="#15a2c4"/><stop offset="0.132" stop-color="#18b0ae"/><stop offset="0.145" stop-color="#29c379"/><stop offset="0.151" stop-color="#5bd26c"/><stop offset="0.157" stop-color="#bde480"/><stop offset="0.164" stop-color="#e1e689"/><stop offset="0.170" stop-color="#e3e589"/><stop offset="0.176" stop-color="#f0e28c"/><stop offset="0.182" stop-color="#c8a47c"/><stop offset="0.189" stop-color="#886456"/><stop offset="0.201" stop-color="#947163"/><stop offset="0.226" stop-color="#c8b3ac"/><stop offset="0.233" stop-color="#d1bdb7"/><stop offset="0.264" stop-color="#e9dedb"/><stop offset="0.289" stop-color="#f2eae8"/><stop offset="0.327" stop-color="#e5d9d5"/><stop offset="0.346" stop-color="#9f8073"/><stop offset="0.377" stop-color="#8b685a"/><stop offset="0.384" stop-color="#bc9775"/><stop offset="0.390" stop-color="#ebe38b"/><stop offset="0.396" stop-color="#e4e58a"/><stop offset="0.447" stop-color="#e5e58a"/><stop offset="0.453" stop-color="#dde688"/><stop offset="0.459" stop-color="#a2df79"/><stop offset="0.465" stop-color="#37ca6a"/><stop offset="0.472" stop-color="#25bf85"/><stop offset="0.478" stop-color="#1eb897"/><stop offset="0.484" stop-color="#1499d3"/><stop offset="0.591" stop-color="#1498d4"/><stop offset="0.623" stop-color="#1388e5"/><stop offset="0.642" stop-color="#2157c6"/><stop offset="0.660" stop-color="#30389b"/><stop offset="0.667" stop-color="#323496"/><stop offset="1.000" stop-color="#323496"/></linearGradient><linearGradient id="g93" x1="0" y1="0" x2="0" y2="1"><stop offset="0.000" stop-color="#2d3ea4"/><stop offset="0.044" stop-color="#2d3ea4"/><stop offset="0.063" stop-color="#1d61ce"/><stop offset="0.075" stop-color="#128be7"/><stop offset="0.082" stop-color="#167ddf"/><stop offset="0.088" stop-color="#128ee5"/><stop offset="0.101" stop-color="#159fc9"/><stop offset="0.132" stop-color="#17aeb1"/><stop offset="0.145" stop-color="#2dc76d"/><stop offset="0.151" stop-color="#63d36d"/><stop offset="0.157" stop-color="#c3e582"/><stop offset="0.164" stop-color="#e3e589"/><stop offset="0.170" stop-color="#efe28c"/><stop offset="0.176" stop-color="#ebe38b"/><stop offset="0.182" stop-color="#dcc284"/><stop offset="0.189" stop-color="#ad886c"/><stop offset="0.195" stop-color="#8b6759"/><stop offset="0.214" stop-color="#957365"/><stop offset="0.226" stop-color="#b2978d"/><stop offset="0.252" stop-color="#c1aaa2"/><stop offset="0.264" stop-color="#c3aba4"/><stop offset="0.270" stop-color="#d5c3bd"/><stop offset="0.283" stop-color="#dbcac5"/><stop offset="0.302" stop-color="#d2beb8"/><stop offset="0.314" stop-color="#b89f95"/><stop offset="0.321" stop-color="#baa198"/><stop offset="0.327" stop-color="#b3988f"/><stop offset="0.340" stop-color="#947264"/><stop offset="0.365" stop-color="#937163"/><stop offset="0.377" stop-color="#896557"/><stop offset="0.384" stop-color="#c9a57c"/><stop offset="0.390" stop-color="#eee38c"/><stop offset="0.396" stop-color="#dce788"/><stop offset="0.447" stop-color="#dce788"/><stop offset="0.453" stop-color="#cae684"/><stop offset="0.459" stop-color="#4ccf6c"/><stop offset="0.465" stop-color="#29c379"/><stop offset="0.478" stop-color="#18b1ab"/><stop offset="0.484" stop-color="#17adb1"/><stop offset="0.491" stop-color="#1390e1"/><stop offset="0.572" stop-color="#149bcf"/><stop offset="0.604" stop-color="#1498d4"/><stop offset="0.623" stop-color="#138ae7"/><stop offset="0.642" stop-color="#2059c9"/><stop offset="0.660" stop-color="#30399d"/><stop offset="0.667" stop-color="#323496"/><stop offset="1.000" stop-color="#30389b"/></linearGradient><linearGradient id="g94" x1="0" y1="0" x2="0" y2="1"><stop offset="0.000" stop-color="#2b41a9"/><stop offset="0.044" stop-color="#264db9"/><stop offset="0.050" stop-color="#2156c5"/><stop offset="0.063" stop-color="#167edf"/><stop offset="0.069" stop-color="#1390e1"/><stop offset="0.075" stop-color="#159fc9"/><stop offset="0.082" stop-color="#1484e3"/><stop offset="0.088" stop-color="#1393dd"/><stop offset="0.101" stop-color="#16a4c1"/><stop offset="0.132" stop-color="#17adb3"/><stop offset="0.138" stop-color="#1bb5a2"/><stop offset="0.151" stop-color="#2ac475"/><stop offset="0.157" stop-color="#46cd6b"/><stop offset="0.164" stop-color="#75d76e"/><stop offset="0.170" stop-color="#d1e785"/><stop offset="0.176" stop-color="#e1e689"/><stop offset="0.182" stop-color="#e2e589"/><stop offset="0.189" stop-color="#ede38b"/><stop offset="0.195" stop-color="#d5b881"/><stop offset="0.201" stop-color="#a37e66"/><stop offset="0.208" stop-color="#9d7862"/><stop offset="0.214" stop-color="#8d695b"/><stop offset="0.258" stop-color="#af9389"/><stop offset="0.277" stop-color="#c6b0a9"/><stop offset="0.283" stop-color="#c7b1aa"/><stop offset="0.289" stop-color="#bda49c"/><stop offset="0.296" stop-color="#bca49b"/><stop offset="0.308" stop-color="#ac8f84"/><stop offset="0.321" stop-color="#a6877c"/><stop offset="0.333" stop-color="#957365"/><stop offset="0.365" stop-color="#967466"/><stop offset="0.377" stop-color="#8e6b5d"/><stop offset="0.384" stop-color="#a17c65"/><stop offset="0.390" stop-color="#dec685"/><stop offset="0.396" stop-color="#e9e48b"/><stop offset="0.403" stop-color="#e2e589"/><stop offset="0.447" stop-color="#dfe689"/><stop offset="0.453" stop-color="#d9e887"/><stop offset="0.459" stop-color="#72d76e"/><stop offset="0.465" stop-color="#2ac476"/><stop offset="0.478" stop-color="#19b3a8"/><stop offset="0.484" stop-color="#17adb2"/><stop offset="0.491" stop-color="#138fe3"/><stop offset="0.591" stop-color="#1499d4"/><stop offset="0.616" stop-color="#1392de"/><stop offset="0.623" stop-color="#128be7"/><stop offset="0.635" stop-color="#1877db"/><stop offset="0.648" stop-color="#2157c6"/><stop offset="0.660" stop-color="#2c40a6"/><stop offset="0.667" stop-color="#313699"/><stop offset="0.673" stop-color="#313598"/><stop offset="1.000" stop-color="#30389c"/></linearGradient><linearGradient id="g95" x1="0" y1="0" x2="0" y2="1"><stop offset="0.000" stop-color="#30389c"/><stop offset="0.044" stop-color="#2d3fa5"/><stop offset="0.069" stop-color="#1c66d1"/><stop offset="0.082" stop-color="#167fe0"/><stop offset="0.088" stop-color="#167ee0"/><stop offset="0.094" stop-color="#1388e6"/><stop offset="0.101" stop-color="#1390e2"/><stop offset="0.138" stop-color="#1392de"/><stop offset="0.157" stop-color="#18b0ac"/><stop offset="0.176" stop-color="#2ac475"/><stop offset="0.182" stop-color="#41cc6b"/><stop offset="0.189" stop-color="#86da72"/><stop offset="0.195" stop-color="#d9e787"/><stop offset="0.208" stop-color="#eae38b"/><stop offset="0.214" stop-color="#d8bd82"/><stop offset="0.220" stop-color="#997460"/><stop offset="0.226" stop-color="#8a6759"/><stop offset="0.245" stop-color="#967466"/><stop offset="0.277" stop-color="#c2aaa2"/><stop offset="0.308" stop-color="#ab8f84"/><stop offset="0.327" stop-color="#a4867a"/><stop offset="0.365" stop-color="#a88a7e"/><stop offset="0.377" stop-color="#937163"/><stop offset="0.390" stop-color="#886456"/><stop offset="0.396" stop-color="#e6d388"/><stop offset="0.403" stop-color="#e6e48a"/><stop offset="0.447" stop-color="#e9e48b"/><stop offset="0.453" stop-color="#e4e58a"/><stop offset="0.459" stop-color="#cfe785"/><stop offset="0.465" stop-color="#61d36d"/><stop offset="0.472" stop-color="#2ac476"/><stop offset="0.478" stop-color="#21bb8f"/><stop offset="0.484" stop-color="#1db79b"/><stop offset="0.491" stop-color="#149ad1"/><stop offset="0.597" stop-color="#1391df"/><stop offset="0.616" stop-color="#128ce8"/><stop offset="0.642" stop-color="#1f5cca"/><stop offset="0.667" stop-color="#30379a"/><stop offset="0.786" stop-color="#2f3b9f"/><stop offset="1.000" stop-color="#313598"/></linearGradient><linearGradient id="g96" x1="0" y1="0" x2="0" y2="1"><stop offset="0.000" stop-color="#323496"/><stop offset="0.050" stop-color="#323496"/><stop offset="0.088" stop-color="#1b69d3"/><stop offset="0.101" stop-color="#167ddf"/><stop offset="0.126" stop-color="#1486e4"/><stop offset="0.145" stop-color="#1486e4"/><stop offset="0.151" stop-color="#1391e0"/><stop offset="0.164" stop-color="#17acb4"/><stop offset="0.170" stop-color="#19b3a8"/><stop offset="0.189" stop-color="#2dc76c"/><stop offset="0.201" stop-color="#86da72"/><stop offset="0.208" stop-color="#dae788"/><stop offset="0.214" stop-color="#e8e48a"/><stop offset="0.220" stop-color="#e0c985"/><stop offset="0.226" stop-color="#a9846a"/><stop offset="0.239" stop-color="#8a6658"/><stop offset="0.270" stop-color="#9a796c"/><stop offset="0.302" stop-color="#937163"/><stop offset="0.371" stop-color="#937163"/><stop offset="0.384" stop-color="#886557"/><stop offset="0.390" stop-color="#ac876c"/><stop offset="0.396" stop-color="#edde8b"/><stop offset="0.409" stop-color="#dae788"/><stop offset="0.447" stop-color="#d9e887"/><stop offset="0.453" stop-color="#c8e583"/><stop offset="0.459" stop-color="#6ed66d"/><stop offset="0.465" stop-color="#27c17f"/><stop offset="0.478" stop-color="#17afaf"/><stop offset="0.484" stop-color="#16a8ba"/><stop offset="0.491" stop-color="#128be7"/><stop offset="0.591" stop-color="#128fe3"/><stop offset="0.616" stop-color="#1388e5"/><stop offset="0.642" stop-color="#2157c6"/><stop offset="0.667" stop-color="#323496"/><stop offset="0.780" stop-color="#30389b"/><stop offset="1.000" stop-color="#323496"/></linearGradient><linearGradient id="g97" x1="0" y1="0" x2="0" y2="1"><stop offset="0.000" stop-color="#323496"/><stop offset="0.050" stop-color="#323496"/><stop offset="0.082" stop-color="#1f5ac9"/><stop offset="0.101" stop-color="#167edf"/><stop offset="0.132" stop-color="#128ce7"/><stop offset="0.151" stop-color="#128fe3"/><stop offset="0.164" stop-color="#16a7bd"/><stop offset="0.170" stop-color="#1cb69f"/><stop offset="0.176" stop-color="#20ba92"/><stop offset="0.189" stop-color="#2bc572"/><stop offset="0.195" stop-color="#3fcc6b"/><stop offset="0.201" stop-color="#71d66e"/><stop offset="0.208" stop-color="#cee785"/><stop offset="0.220" stop-color="#efe08c"/><stop offset="0.226" stop-color="#cba87d"/><stop offset="0.239" stop-color="#896658"/><stop offset="0.270" stop-color="#947264"/><stop offset="0.371" stop-color="#947264"/><stop offset="0.390" stop-color="#886557"/><stop offset="0.396" stop-color="#dbc183"/><stop offset="0.403" stop-color="#e6e48a"/><stop offset="0.409" stop-color="#d8e887"/><stop offset="0.428" stop-color="#d6e887"/><stop offset="0.447" stop-color="#bde480"/><stop offset="0.453" stop-color="#96dd76"/><stop offset="0.459" stop-color="#5ed26d"/><stop offset="0.465" stop-color="#22bc8e"/><stop offset="0.478" stop-color="#16a6be"/><stop offset="0.484" stop-color="#159fca"/><stop offset="0.491" stop-color="#1580e0"/><stop offset="0.597" stop-color="#128ce8"/><stop offset="0.616" stop-color="#1582e2"/><stop offset="0.623" stop-color="#1877db"/><stop offset="0.648" stop-color="#2849b3"/><stop offset="0.660" stop-color="#313699"/><stop offset="0.667" stop-color="#323496"/><stop offset="1.000" stop-color="#323496"/></linearGradient><linearGradient id="g98" x1="0" y1="0" x2="0" y2="1"><stop offset="0.000" stop-color="#323496"/><stop offset="0.050" stop-color="#30389c"/><stop offset="0.069" stop-color="#205ac9"/><stop offset="0.082" stop-color="#167cde"/><stop offset="0.088" stop-color="#177add"/><stop offset="0.094" stop-color="#1388e6"/><stop offset="0.101" stop-color="#1395d9"/><stop offset="0.126" stop-color="#159fc8"/><stop offset="0.157" stop-color="#15a2c5"/><stop offset="0.164" stop-color="#17adb3"/><stop offset="0.170" stop-color="#22bc8c"/><stop offset="0.176" stop-color="#29c379"/><stop offset="0.189" stop-color="#37ca6a"/><stop offset="0.201" stop-color="#74d76e"/><stop offset="0.214" stop-color="#dde788"/><stop offset="0.226" stop-color="#ebe38b"/><stop offset="0.233" stop-color="#d9bf83"/><stop offset="0.239" stop-color="#d0b07f"/><stop offset="0.245" stop-color="#896557"/><stop offset="0.289" stop-color="#947264"/><stop offset="0.377" stop-color="#947264"/><stop offset="0.390" stop-color="#8a6759"/><stop offset="0.396" stop-color="#8f6b5a"/><stop offset="0.403" stop-color="#dec685"/><stop offset="0.409" stop-color="#e1e689"/><stop offset="0.453" stop-color="#dce788"/><stop offset="0.459" stop-color="#a1df79"/><stop offset="0.465" stop-color="#2dc76c"/><stop offset="0.478" stop-color="#1cb69f"/><stop offset="0.484" stop-color="#18b0ad"/><stop offset="0.491" stop-color="#1391df"/><stop offset="0.591" stop-color="#138fe3"/><stop offset="0.616" stop-color="#1485e4"/><stop offset="0.642" stop-color="#2255c3"/><stop offset="0.660" stop-color="#30389b"/><stop offset="0.667" stop-color="#323496"/><stop offset="1.000" stop-color="#323496"/></linearGradient><linearGradient id="g99" x1="0" y1="0" x2="0" y2="1"><stop offset="0.000" stop-color="#2c40a7"/><stop offset="0.050" stop-color="#2947b0"/><stop offset="0.063" stop-color="#1d62ce"/><stop offset="0.075" stop-color="#1387e5"/><stop offset="0.082" stop-color="#1498d5"/><stop offset="0.088" stop-color="#1483e2"/><stop offset="0.094" stop-color="#1391e1"/><stop offset="0.101" stop-color="#159dcc"/><stop offset="0.132" stop-color="#16a8bb"/><stop offset="0.164" stop-color="#16a6bd"/><stop offset="0.170" stop-color="#18b1ac"/><stop offset="0.176" stop-color="#25bf83"/><stop offset="0.182" stop-color="#2dc76d"/><stop offset="0.195" stop-color="#4ecf6c"/><stop offset="0.208" stop-color="#7fd970"/><stop offset="0.214" stop-color="#a4df7a"/><stop offset="0.226" stop-color="#dfe689"/><stop offset="0.239" stop-color="#ece38b"/><stop offset="0.252" stop-color="#d3b580"/><stop offset="0.258" stop-color="#8f6b5a"/><stop offset="0.270" stop-color="#8a6658"/><stop offset="0.377" stop-color="#8f6c5e"/><stop offset="0.390" stop-color="#8a6658"/><stop offset="0.396" stop-color="#ac876c"/><stop offset="0.403" stop-color="#e6d288"/><stop offset="0.409" stop-color="#e7e48a"/><stop offset="0.415" stop-color="#dae788"/><stop offset="0.453" stop-color="#dce788"/><stop offset="0.459" stop-color="#bce480"/><stop offset="0.465" stop-color="#3ccb6b"/><stop offset="0.472" stop-color="#26c081"/><stop offset="0.478" stop-color="#20ba92"/><stop offset="0.484" stop-color="#15a2c5"/><stop offset="0.491" stop-color="#1395d9"/><stop offset="0.597" stop-color="#159fc8"/><stop offset="0.616" stop-color="#159cce"/><stop offset="0.629" stop-color="#128be7"/><stop offset="0.635" stop-color="#149ad2"/><stop offset="0.642" stop-color="#128de7"/><stop offset="0.660" stop-color="#2157c6"/><stop offset="0.667" stop-color="#264db9"/><stop offset="0.742" stop-color="#2e3ca2"/><stop offset="0.830" stop-color="#313598"/><stop offset="1.000" stop-color="#30389c"/></linearGradient><linearGradient id="g100" x1="0" y1="0" x2="0" y2="1"><stop offset="0.000" stop-color="#2353c0"/><stop offset="0.050" stop-color="#2058c8"/><stop offset="0.069" stop-color="#1486e4"/><stop offset="0.075" stop-color="#1393dd"/><stop offset="0.082" stop-color="#159fc9"/><stop offset="0.088" stop-color="#1483e2"/><stop offset="0.094" stop-color="#1390e2"/><stop offset="0.107" stop-color="#159eca"/><stop offset="0.170" stop-color="#15a1c6"/><stop offset="0.176" stop-color="#1bb5a2"/><stop offset="0.182" stop-color="#24be87"/><stop offset="0.201" stop-color="#2ec86b"/><stop offset="0.220" stop-color="#4bce6c"/><stop offset="0.226" stop-color="#65d46d"/><stop offset="0.233" stop-color="#89db73"/><stop offset="0.239" stop-color="#d7e887"/><stop offset="0.258" stop-color="#eae38b"/><stop offset="0.264" stop-color="#dcc384"/><stop offset="0.270" stop-color="#ceae7e"/><stop offset="0.277" stop-color="#a68168"/><stop offset="0.283" stop-color="#9e7a63"/><stop offset="0.289" stop-color="#896557"/><stop offset="0.384" stop-color="#947163"/><stop offset="0.403" stop-color="#896557"/><stop offset="0.409" stop-color="#d9bf83"/><stop offset="0.415" stop-color="#e4e58a"/><stop offset="0.453" stop-color="#e4e58a"/><stop offset="0.459" stop-color="#d8e887"/><stop offset="0.465" stop-color="#50cf6c"/><stop offset="0.472" stop-color="#29c379"/><stop offset="0.478" stop-color="#26c083"/><stop offset="0.484" stop-color="#1eb897"/><stop offset="0.491" stop-color="#16a6bd"/><stop offset="0.497" stop-color="#159ccd"/><stop offset="0.503" stop-color="#159dcd"/><stop offset="0.597" stop-color="#17aeb1"/><stop offset="0.616" stop-color="#17abb6"/><stop offset="0.629" stop-color="#1498d5"/><stop offset="0.635" stop-color="#1bb5a0"/><stop offset="0.648" stop-color="#1496d7"/><stop offset="0.654" stop-color="#1484e3"/><stop offset="0.667" stop-color="#2058c8"/><stop offset="0.748" stop-color="#30389b"/><stop offset="0.799" stop-color="#323497"/><stop offset="1.000" stop-color="#2d3ea4"/></linearGradient><linearGradient id="g101" x1="0" y1="0" x2="0" y2="1"><stop offset="0.000" stop-color="#2a43ab"/><stop offset="0.050" stop-color="#2e3ba0"/><stop offset="0.082" stop-color="#1d65d0"/><stop offset="0.113" stop-color="#128ce8"/><stop offset="0.145" stop-color="#1390e2"/><stop offset="0.170" stop-color="#128de6"/><stop offset="0.176" stop-color="#1393dc"/><stop offset="0.182" stop-color="#19b3a8"/><stop offset="0.201" stop-color="#20ba93"/><stop offset="0.226" stop-color="#23bd89"/><stop offset="0.239" stop-color="#2bc572"/><stop offset="0.245" stop-color="#68d46d"/><stop offset="0.252" stop-color="#7ad86e"/><stop offset="0.258" stop-color="#d2e786"/><stop offset="0.264" stop-color="#dfe689"/><stop offset="0.277" stop-color="#eae48b"/><stop offset="0.283" stop-color="#caa87d"/><stop offset="0.289" stop-color="#c7a37b"/><stop offset="0.296" stop-color="#ba9474"/><stop offset="0.302" stop-color="#9b7762"/><stop offset="0.308" stop-color="#896557"/><stop offset="0.340" stop-color="#906e60"/><stop offset="0.384" stop-color="#926f61"/><stop offset="0.396" stop-color="#8b685a"/><stop offset="0.403" stop-color="#a07b64"/><stop offset="0.409" stop-color="#dcc384"/><stop offset="0.415" stop-color="#eae48b"/><stop offset="0.421" stop-color="#dce788"/><stop offset="0.453" stop-color="#d8e887"/><stop offset="0.459" stop-color="#62d36d"/><stop offset="0.465" stop-color="#27c17e"/><stop offset="0.484" stop-color="#1eb899"/><stop offset="0.491" stop-color="#15a2c4"/><stop offset="0.497" stop-color="#1392df"/><stop offset="0.591" stop-color="#159dcb"/><stop offset="0.616" stop-color="#1499d2"/><stop offset="0.629" stop-color="#1486e4"/><stop offset="0.635" stop-color="#1390e1"/><stop offset="0.642" stop-color="#1581e1"/><stop offset="0.654" stop-color="#1e5fcc"/><stop offset="0.667" stop-color="#2a45ad"/><stop offset="0.679" stop-color="#2b42a9"/><stop offset="0.786" stop-color="#31379a"/><stop offset="1.000" stop-color="#2f3a9e"/></linearGradient><linearGradient id="g102" x1="0" y1="0" x2="0" y2="1"><stop offset="0.000" stop-color="#2d3ea4"/><stop offset="0.050" stop-color="#323496"/><stop offset="0.057" stop-color="#30379b"/><stop offset="0.082" stop-color="#2057c7"/><stop offset="0.119" stop-color="#128ae7"/><stop offset="0.126" stop-color="#128de7"/><stop offset="0.176" stop-color="#149ccf"/><stop offset="0.189" stop-color="#24be87"/><stop offset="0.220" stop-color="#31c96a"/><stop offset="0.233" stop-color="#44cd6b"/><stop offset="0.245" stop-color="#94dd75"/><stop offset="0.252" stop-color="#b0e17d"/><stop offset="0.258" stop-color="#dbe788"/><stop offset="0.277" stop-color="#eedf8b"/><stop offset="0.283" stop-color="#e3ce87"/><stop offset="0.289" stop-color="#c5a07a"/><stop offset="0.296" stop-color="#ae886d"/><stop offset="0.302" stop-color="#8b6759"/><stop offset="0.358" stop-color="#957365"/><stop offset="0.390" stop-color="#937062"/><stop offset="0.403" stop-color="#896557"/><stop offset="0.409" stop-color="#a68168"/><stop offset="0.415" stop-color="#eede8b"/><stop offset="0.421" stop-color="#dce788"/><stop offset="0.428" stop-color="#bde480"/><stop offset="0.434" stop-color="#c8e683"/><stop offset="0.447" stop-color="#bfe481"/><stop offset="0.453" stop-color="#75d76e"/><stop offset="0.459" stop-color="#25bf83"/><stop offset="0.491" stop-color="#17a9b8"/><stop offset="0.497" stop-color="#1393dd"/><stop offset="0.503" stop-color="#1485e4"/><stop offset="0.535" stop-color="#128ce8"/><stop offset="0.591" stop-color="#1498d4"/><stop offset="0.616" stop-color="#1393dc"/><stop offset="0.623" stop-color="#128ce8"/><stop offset="0.629" stop-color="#167edf"/><stop offset="0.635" stop-color="#1580e0"/><stop offset="0.654" stop-color="#2451be"/><stop offset="0.667" stop-color="#2e3ca0"/><stop offset="0.786" stop-color="#313698"/><stop offset="1.000" stop-color="#30389b"/></linearGradient><linearGradient id="g103" x1="0" y1="0" x2="0" y2="1"><stop offset="0.000" stop-color="#323496"/><stop offset="0.057" stop-color="#323496"/><stop offset="0.101" stop-color="#1e5ecc"/><stop offset="0.119" stop-color="#1580e0"/><stop offset="0.145" stop-color="#128be7"/><stop offset="0.176" stop-color="#1394da"/><stop offset="0.182" stop-color="#149cce"/><stop offset="0.189" stop-color="#1fb995"/><stop offset="0.195" stop-color="#23bd8b"/><stop offset="0.239" stop-color="#2dc76d"/><stop offset="0.252" stop-color="#70d66e"/><stop offset="0.258" stop-color="#8ddb73"/><stop offset="0.264" stop-color="#b9e37f"/><stop offset="0.270" stop-color="#d4e786"/><stop offset="0.289" stop-color="#e7e48a"/><stop offset="0.296" stop-color="#e9d789"/><stop offset="0.308" stop-color="#cfae7e"/><stop offset="0.314" stop-color="#8b6758"/><stop offset="0.371" stop-color="#926f61"/><stop offset="0.403" stop-color="#8b6759"/><stop offset="0.409" stop-color="#b08b6e"/><stop offset="0.415" stop-color="#e2cd86"/><stop offset="0.421" stop-color="#e6e48a"/><stop offset="0.428" stop-color="#d8e887"/><stop offset="0.434" stop-color="#abe17b"/><stop offset="0.440" stop-color="#b2e27d"/><stop offset="0.447" stop-color="#93dd75"/><stop offset="0.453" stop-color="#2bc574"/><stop offset="0.491" stop-color="#18b2a9"/><stop offset="0.503" stop-color="#128be8"/><stop offset="0.591" stop-color="#149ad2"/><stop offset="0.616" stop-color="#1393dd"/><stop offset="0.623" stop-color="#128be8"/><stop offset="0.635" stop-color="#177add"/><stop offset="0.648" stop-color="#2058c8"/><stop offset="0.667" stop-color="#30389c"/><stop offset="1.000" stop-color="#323496"/></linearGradient><linearGradient id="g104" x1="0" y1="0" x2="0" y2="1"><stop offset="0.000" stop-color="#323496"/><stop offset="0.057" stop-color="#323496"/><stop offset="0.094" stop-color="#2352c0"/><stop offset="0.126" stop-color="#177add"/><stop offset="0.189" stop-color="#1389e6"/><stop offset="0.201" stop-color="#1394db"/><stop offset="0.220" stop-color="#18b2aa"/><stop offset="0.239" stop-color="#1bb5a2"/><stop offset="0.252" stop-color="#20ba93"/><stop offset="0.270" stop-color="#2dc76e"/><stop offset="0.283" stop-color="#60d36d"/><stop offset="0.289" stop-color="#9dde78"/><stop offset="0.302" stop-color="#dce788"/><stop offset="0.321" stop-color="#edde8b"/><stop offset="0.333" stop-color="#d3b580"/><stop offset="0.340" stop-color="#ba9474"/><stop offset="0.346" stop-color="#96715e"/><stop offset="0.358" stop-color="#896557"/><stop offset="0.409" stop-color="#926d5c"/><stop offset="0.415" stop-color="#bb9575"/><stop offset="0.421" stop-color="#e9d889"/><stop offset="0.428" stop-color="#e2e589"/><stop offset="0.434" stop-color="#84da71"/><stop offset="0.447" stop-color="#69d56d"/><stop offset="0.453" stop-color="#26c081"/><stop offset="0.465" stop-color="#24be86"/><stop offset="0.491" stop-color="#18b0ad"/><stop offset="0.497" stop-color="#17aeb0"/><stop offset="0.503" stop-color="#1498d5"/><stop offset="0.509" stop-color="#1388e6"/><stop offset="0.591" stop-color="#128ce8"/><stop offset="0.616" stop-color="#1580e1"/><stop offset="0.642" stop-color="#2351bf"/><stop offset="0.660" stop-color="#313598"/><stop offset="0.667" stop-color="#323496"/><stop offset="0.799" stop-color="#30389b"/><stop offset="1.000" stop-color="#323496"/></linearGradient><linearGradient id="g105" x1="0" y1="0" x2="0" y2="1"><stop offset="0.000" stop-color="#30389c"/><stop offset="0.063" stop-color="#323497"/><stop offset="0.101" stop-color="#1f5cca"/><stop offset="0.132" stop-color="#1388e5"/><stop offset="0.145" stop-color="#128ce8"/><stop offset="0.214" stop-color="#1390e2"/><stop offset="0.245" stop-color="#16a8ba"/><stop offset="0.252" stop-color="#1ab4a5"/><stop offset="0.258" stop-color="#1ab4a4"/><stop offset="0.277" stop-color="#23bd8a"/><stop offset="0.289" stop-color="#2bc572"/><stop offset="0.296" stop-color="#4dcf6c"/><stop offset="0.308" stop-color="#73d76e"/><stop offset="0.314" stop-color="#b9e37f"/><stop offset="0.321" stop-color="#d7e887"/><stop offset="0.346" stop-color="#eee28c"/><stop offset="0.352" stop-color="#c9a67c"/><stop offset="0.358" stop-color="#b48f70"/><stop offset="0.365" stop-color="#b38d70"/><stop offset="0.390" stop-color="#8a6759"/><stop offset="0.415" stop-color="#8f6b5a"/><stop offset="0.421" stop-color="#d2b480"/><stop offset="0.428" stop-color="#e9e48b"/><stop offset="0.434" stop-color="#d9e787"/><stop offset="0.440" stop-color="#61d36d"/><stop offset="0.447" stop-color="#58d16c"/><stop offset="0.453" stop-color="#28c27b"/><stop offset="0.472" stop-color="#26c081"/><stop offset="0.497" stop-color="#18b2a9"/><stop offset="0.509" stop-color="#138ae7"/><stop offset="0.591" stop-color="#138ae7"/><stop offset="0.616" stop-color="#157fe0"/><stop offset="0.642" stop-color="#2352bf"/><stop offset="0.667" stop-color="#323496"/><stop offset="0.774" stop-color="#2f399d"/><stop offset="1.000" stop-color="#313699"/></linearGradient><linearGradient id="g106" x1="0" y1="0" x2="0" y2="1"><stop offset="0.000" stop-color="#323496"/><stop offset="0.075" stop-color="#313698"/><stop offset="0.107" stop-color="#2059c9"/><stop offset="0.138" stop-color="#128de7"/><stop offset="0.176" stop-color="#1499d3"/><stop offset="0.233" stop-color="#1499d2"/><stop offset="0.270" stop-color="#1eb898"/><stop offset="0.302" stop-color="#33c96a"/><stop offset="0.321" stop-color="#6ed66d"/><stop offset="0.333" stop-color="#d1e785"/><stop offset="0.346" stop-color="#e5e58a"/><stop offset="0.365" stop-color="#efe08c"/><stop offset="0.377" stop-color="#d5b881"/><stop offset="0.384" stop-color="#8c6858"/><stop offset="0.409" stop-color="#937163"/><stop offset="0.421" stop-color="#8c685a"/><stop offset="0.428" stop-color="#c8a57c"/><stop offset="0.434" stop-color="#eee38c"/><stop offset="0.440" stop-color="#dfe689"/><stop offset="0.447" stop-color="#84da71"/><stop offset="0.453" stop-color="#6cd56d"/><stop offset="0.465" stop-color="#6ed66d"/><stop offset="0.472" stop-color="#64d46d"/><stop offset="0.484" stop-color="#37ca6b"/><stop offset="0.491" stop-color="#2ac476"/><stop offset="0.503" stop-color="#23bd8b"/><stop offset="0.516" stop-color="#1498d5"/><stop offset="0.591" stop-color="#1395da"/><stop offset="0.616" stop-color="#128de6"/><stop offset="0.642" stop-color="#2058c8"/><stop offset="0.667" stop-color="#323496"/><stop offset="1.000" stop-color="#323496"/></linearGradient><linearGradient id="g107" x1="0" y1="0" x2="0" y2="1"><stop offset="0.000" stop-color="#323496"/><stop offset="0.082" stop-color="#30379b"/><stop offset="0.113" stop-color="#2255c4"/><stop offset="0.138" stop-color="#1483e3"/><stop offset="0.151" stop-color="#128ae7"/><stop offset="0.189" stop-color="#149ad0"/><stop offset="0.245" stop-color="#15a1c6"/><stop offset="0.264" stop-color="#18b0ae"/><stop offset="0.302" stop-color="#2ec86b"/><stop offset="0.314" stop-color="#4ace6c"/><stop offset="0.321" stop-color="#67d46d"/><stop offset="0.333" stop-color="#89db73"/><stop offset="0.340" stop-color="#c7e583"/><stop offset="0.346" stop-color="#d9e887"/><stop offset="0.371" stop-color="#eae48b"/><stop offset="0.377" stop-color="#e8d589"/><stop offset="0.384" stop-color="#d4b781"/><stop offset="0.390" stop-color="#a68168"/><stop offset="0.396" stop-color="#8c695b"/><stop offset="0.428" stop-color="#8d6a5c"/><stop offset="0.434" stop-color="#d4b781"/><stop offset="0.440" stop-color="#dee688"/><stop offset="0.447" stop-color="#91dc75"/><stop offset="0.472" stop-color="#87db72"/><stop offset="0.478" stop-color="#72d76e"/><stop offset="0.491" stop-color="#2ec86b"/><stop offset="0.503" stop-color="#25bf83"/><stop offset="0.509" stop-color="#19b3a6"/><stop offset="0.516" stop-color="#159cce"/><stop offset="0.522" stop-color="#1496d7"/><stop offset="0.579" stop-color="#128ee5"/><stop offset="0.616" stop-color="#1580e1"/><stop offset="0.635" stop-color="#1f5bca"/><stop offset="0.660" stop-color="#313698"/><stop offset="0.667" stop-color="#323496"/><stop offset="1.000" stop-color="#323496"/></linearGradient><linearGradient id="g108" x1="0" y1="0" x2="0" y2="1"><stop offset="0.000" stop-color="#323496"/><stop offset="0.075" stop-color="#323597"/><stop offset="0.107" stop-color="#2156c5"/><stop offset="0.119" stop-color="#1971d7"/><stop offset="0.138" stop-color="#1486e4"/><stop offset="0.145" stop-color="#1391e0"/><stop offset="0.176" stop-color="#149ad1"/><stop offset="0.264" stop-color="#159eca"/><stop offset="0.283" stop-color="#18b2aa"/><stop offset="0.302" stop-color="#27c17e"/><stop offset="0.321" stop-color="#32c96a"/><stop offset="0.333" stop-color="#6ad56d"/><stop offset="0.340" stop-color="#7ed970"/><stop offset="0.346" stop-color="#a5e07a"/><stop offset="0.352" stop-color="#aee17c"/><stop offset="0.358" stop-color="#d2e786"/><stop offset="0.365" stop-color="#c4e582"/><stop offset="0.371" stop-color="#dce788"/><stop offset="0.384" stop-color="#ece38b"/><stop offset="0.390" stop-color="#dac083"/><stop offset="0.396" stop-color="#cdac7e"/><stop offset="0.403" stop-color="#95715e"/><stop offset="0.409" stop-color="#997560"/><stop offset="0.421" stop-color="#c59f7a"/><stop offset="0.428" stop-color="#d1b37f"/><stop offset="0.434" stop-color="#e2e589"/><stop offset="0.440" stop-color="#7bd86f"/><stop offset="0.447" stop-color="#6bd56d"/><stop offset="0.472" stop-color="#5ad26c"/><stop offset="0.478" stop-color="#4dcf6c"/><stop offset="0.484" stop-color="#34c96a"/><stop offset="0.491" stop-color="#2ac474"/><stop offset="0.503" stop-color="#1eb897"/><stop offset="0.509" stop-color="#1bb5a1"/><stop offset="0.522" stop-color="#128be7"/><stop offset="0.616" stop-color="#1a6dd5"/><stop offset="0.629" stop-color="#1f5ac9"/><stop offset="0.660" stop-color="#323496"/><stop offset="1.000" stop-color="#323496"/></linearGradient><linearGradient id="g109" x1="0" y1="0" x2="0" y2="1"><stop offset="0.000" stop-color="#323496"/><stop offset="0.082" stop-color="#30379b"/><stop offset="0.119" stop-color="#1f5dcb"/><stop offset="0.151" stop-color="#1485e4"/><stop offset="0.176" stop-color="#128ce8"/><stop offset="0.277" stop-color="#16a5bf"/><stop offset="0.289" stop-color="#18b0ad"/><stop offset="0.302" stop-color="#1fb996"/><stop offset="0.308" stop-color="#3acb6b"/><stop offset="0.321" stop-color="#4dcf6c"/><stop offset="0.327" stop-color="#63d36d"/><stop offset="0.333" stop-color="#80d970"/><stop offset="0.340" stop-color="#afe17c"/><stop offset="0.346" stop-color="#b7e37f"/><stop offset="0.352" stop-color="#d4e886"/><stop offset="0.371" stop-color="#d7e887"/><stop offset="0.377" stop-color="#c1e481"/><stop offset="0.384" stop-color="#dfe689"/><stop offset="0.403" stop-color="#ede38b"/><stop offset="0.421" stop-color="#e4e58a"/><stop offset="0.428" stop-color="#d8e887"/><stop offset="0.434" stop-color="#65d46d"/><stop offset="0.478" stop-color="#4cce6c"/><stop offset="0.484" stop-color="#40cc6b"/><stop offset="0.491" stop-color="#2cc671"/><stop offset="0.509" stop-color="#1eb898"/><stop offset="0.522" stop-color="#1496d7"/><stop offset="0.528" stop-color="#128ee4"/><stop offset="0.547" stop-color="#128ce8"/><stop offset="0.616" stop-color="#167fe0"/><stop offset="0.642" stop-color="#2352c0"/><stop offset="0.660" stop-color="#31379a"/><stop offset="0.667" stop-color="#323496"/><stop offset="1.000" stop-color="#323496"/></linearGradient><linearGradient id="g110" x1="0" y1="0" x2="0" y2="1"><stop offset="0.000" stop-color="#323496"/><stop offset="0.088" stop-color="#323597"/><stop offset="0.119" stop-color="#2155c5"/><stop offset="0.151" stop-color="#1483e3"/><stop offset="0.157" stop-color="#1486e4"/><stop offset="0.182" stop-color="#128ce8"/><stop offset="0.302" stop-color="#159cce"/><stop offset="0.308" stop-color="#17acb3"/><stop offset="0.314" stop-color="#19b3a8"/><stop offset="0.321" stop-color="#26c081"/><stop offset="0.333" stop-color="#2bc571"/><stop offset="0.340" stop-color="#2cc66f"/><stop offset="0.346" stop-color="#39ca6b"/><stop offset="0.358" stop-color="#63d36d"/><stop offset="0.365" stop-color="#6ad56d"/><stop offset="0.384" stop-color="#63d36d"/><stop offset="0.390" stop-color="#88db72"/><stop offset="0.396" stop-color="#97dd76"/><stop offset="0.428" stop-color="#42cc6b"/><stop offset="0.478" stop-color="#40cc6b"/><stop offset="0.484" stop-color="#3dcb6b"/><stop offset="0.491" stop-color="#2ec86a"/><stop offset="0.516" stop-color="#20ba93"/><stop offset="0.522" stop-color="#18b0ae"/><stop offset="0.528" stop-color="#1497d5"/><stop offset="0.597" stop-color="#1496d8"/><stop offset="0.623" stop-color="#1388e5"/><stop offset="0.648" stop-color="#2156c6"/><stop offset="0.667" stop-color="#2f3a9e"/><stop offset="0.717" stop-color="#323496"/><stop offset="1.000" stop-color="#323496"/></linearGradient><linearGradient id="g111" x1="0" y1="0" x2="0" y2="1"><stop offset="0.000" stop-color="#2b42a9"/><stop offset="0.088" stop-color="#254db9"/><stop offset="0.113" stop-color="#1972d8"/><stop offset="0.126" stop-color="#1484e3"/><stop offset="0.132" stop-color="#1390e1"/><stop offset="0.138" stop-color="#167cde"/><stop offset="0.151" stop-color="#128de7"/><stop offset="0.164" stop-color="#1496d8"/><stop offset="0.258" stop-color="#149ad2"/><stop offset="0.314" stop-color="#16a4c1"/><stop offset="0.327" stop-color="#2ac475"/><stop offset="0.340" stop-color="#2ec86b"/><stop offset="0.358" stop-color="#76d86e"/><stop offset="0.365" stop-color="#88db72"/><stop offset="0.371" stop-color="#abe17b"/><stop offset="0.377" stop-color="#bde480"/><stop offset="0.384" stop-color="#b7e37f"/><stop offset="0.421" stop-color="#74d76e"/><stop offset="0.453" stop-color="#63d36d"/><stop offset="0.484" stop-color="#66d46d"/><stop offset="0.491" stop-color="#5fd36d"/><stop offset="0.503" stop-color="#2ec86b"/><stop offset="0.516" stop-color="#26c080"/><stop offset="0.522" stop-color="#1fb995"/><stop offset="0.528" stop-color="#16a6bd"/><stop offset="0.535" stop-color="#149bd0"/><stop offset="0.591" stop-color="#1496d8"/><stop offset="0.616" stop-color="#128ce8"/><stop offset="0.642" stop-color="#2057c7"/><stop offset="0.667" stop-color="#323496"/><stop offset="1.000" stop-color="#30399d"/></linearGradient><linearGradient id="g112" x1="0" y1="0" x2="0" y2="1"><stop offset="0.000" stop-color="#2e3ca1"/><stop offset="0.044" stop-color="#2b43aa"/><stop offset="0.094" stop-color="#2353c1"/><stop offset="0.119" stop-color="#1581e1"/><stop offset="0.126" stop-color="#1390e2"/><stop offset="0.138" stop-color="#15a0c7"/><stop offset="0.145" stop-color="#1483e2"/><stop offset="0.151" stop-color="#128ce8"/><stop offset="0.164" stop-color="#149bd0"/><stop offset="0.195" stop-color="#159fc9"/><stop offset="0.314" stop-color="#159dcd"/><stop offset="0.321" stop-color="#159fc9"/><stop offset="0.333" stop-color="#1bb5a2"/><stop offset="0.340" stop-color="#24be87"/><stop offset="0.377" stop-color="#2dc76d"/><stop offset="0.434" stop-color="#26c081"/><stop offset="0.478" stop-color="#2ec86a"/><stop offset="0.491" stop-color="#43cd6b"/><stop offset="0.503" stop-color="#39ca6b"/><stop offset="0.509" stop-color="#2cc671"/><stop offset="0.522" stop-color="#28c27c"/><stop offset="0.528" stop-color="#19b3a7"/><stop offset="0.535" stop-color="#16a3c3"/><stop offset="0.597" stop-color="#17adb1"/><stop offset="0.616" stop-color="#16a6bd"/><stop offset="0.629" stop-color="#1390e1"/><stop offset="0.635" stop-color="#16a6bd"/><stop offset="0.642" stop-color="#1496d7"/><stop offset="0.648" stop-color="#1583e2"/><stop offset="0.660" stop-color="#2156c5"/><stop offset="0.667" stop-color="#2849b3"/><stop offset="0.711" stop-color="#313699"/><stop offset="1.000" stop-color="#30379a"/></linearGradient><linearGradient id="g113" x1="0" y1="0" x2="0" y2="1"><stop offset="0.000" stop-color="#323496"/><stop offset="0.101" stop-color="#2f3a9f"/><stop offset="0.126" stop-color="#2352c0"/><stop offset="0.164" stop-color="#1580e0"/><stop offset="0.245" stop-color="#128de7"/><stop offset="0.296" stop-color="#1395d9"/><stop offset="0.327" stop-color="#1395d9"/><stop offset="0.333" stop-color="#159cce"/><stop offset="0.346" stop-color="#1eb897"/><stop offset="0.358" stop-color="#1fb994"/><stop offset="0.390" stop-color="#29c378"/><stop offset="0.421" stop-color="#29c379"/><stop offset="0.453" stop-color="#2ec86a"/><stop offset="0.497" stop-color="#7bd96f"/><stop offset="0.509" stop-color="#57d16c"/><stop offset="0.516" stop-color="#36ca6a"/><stop offset="0.522" stop-color="#2cc66f"/><stop offset="0.528" stop-color="#27c17e"/><stop offset="0.535" stop-color="#16a6bd"/><stop offset="0.597" stop-color="#17aab7"/><stop offset="0.616" stop-color="#15a2c4"/><stop offset="0.629" stop-color="#128fe3"/><stop offset="0.635" stop-color="#159fc9"/><stop offset="0.642" stop-color="#1390e2"/><stop offset="0.648" stop-color="#167cde"/><stop offset="0.667" stop-color="#2849b3"/><stop offset="0.692" stop-color="#2c41a8"/><stop offset="0.742" stop-color="#2f399e"/><stop offset="0.843" stop-color="#2e3ca2"/><stop offset="1.000" stop-color="#323496"/></linearGradient><linearGradient id="g114" x1="0" y1="0" x2="0" y2="1"><stop offset="0.000" stop-color="#323496"/><stop offset="0.107" stop-color="#323496"/><stop offset="0.151" stop-color="#205ac9"/><stop offset="0.176" stop-color="#1874d9"/><stop offset="0.264" stop-color="#128ce8"/><stop offset="0.333" stop-color="#1391e0"/><stop offset="0.346" stop-color="#15a1c5"/><stop offset="0.352" stop-color="#1ab4a4"/><stop offset="0.390" stop-color="#31c96a"/><stop offset="0.403" stop-color="#41cc6b"/><stop offset="0.491" stop-color="#5ed26d"/><stop offset="0.497" stop-color="#5dd26d"/><stop offset="0.503" stop-color="#4ecf6c"/><stop offset="0.509" stop-color="#2ec86b"/><stop offset="0.522" stop-color="#24be87"/><stop offset="0.528" stop-color="#22bc8d"/><stop offset="0.535" stop-color="#16a8ba"/><stop offset="0.541" stop-color="#1497d5"/><stop offset="0.591" stop-color="#1394db"/><stop offset="0.610" stop-color="#128ce8"/><stop offset="0.616" stop-color="#138ae7"/><stop offset="0.635" stop-color="#1d64cf"/><stop offset="0.667" stop-color="#323496"/><stop offset="1.000" stop-color="#323496"/></linearGradient><linearGradient id="g115" x1="0" y1="0" x2="0" y2="1"><stop offset="0.000" stop-color="#323496"/><stop offset="0.113" stop-color="#313699"/><stop offset="0.151" stop-color="#1f5bca"/><stop offset="0.182" stop-color="#1581e1"/><stop offset="0.214" stop-color="#128ce7"/><stop offset="0.270" stop-color="#1497d6"/><stop offset="0.346" stop-color="#1499d3"/><stop offset="0.352" stop-color="#16a6be"/><stop offset="0.358" stop-color="#20ba93"/><stop offset="0.384" stop-color="#2dc76e"/><stop offset="0.396" stop-color="#4bce6c"/><stop offset="0.403" stop-color="#53d06c"/><stop offset="0.453" stop-color="#30c86a"/><stop offset="0.503" stop-color="#2ac475"/><stop offset="0.528" stop-color="#1ab4a4"/><stop offset="0.541" stop-color="#128de7"/><stop offset="0.591" stop-color="#128be7"/><stop offset="0.616" stop-color="#167fe0"/><stop offset="0.635" stop-color="#1f5bca"/><stop offset="0.667" stop-color="#323496"/><stop offset="1.000" stop-color="#323496"/></linearGradient><linearGradient id="g116" x1="0" y1="0" x2="0" y2="1"><stop offset="0.000" stop-color="#323496"/><stop offset="0.113" stop-color="#323496"/><stop offset="0.145" stop-color="#2352c0"/><stop offset="0.157" stop-color="#1f5ac9"/><stop offset="0.182" stop-color="#1779dc"/><stop offset="0.195" stop-color="#1484e3"/><stop offset="0.226" stop-color="#128de7"/><stop offset="0.302" stop-color="#1496d8"/><stop offset="0.352" stop-color="#1497d7"/><stop offset="0.358" stop-color="#16a4c1"/><stop offset="0.365" stop-color="#1eb897"/><stop offset="0.396" stop-color="#2bc572"/><stop offset="0.409" stop-color="#2ec86b"/><stop offset="0.459" stop-color="#27c17d"/><stop offset="0.503" stop-color="#28c27c"/><stop offset="0.528" stop-color="#1ab4a3"/><stop offset="0.541" stop-color="#1393dc"/><stop offset="0.547" stop-color="#128ee5"/><stop offset="0.591" stop-color="#128ee4"/><stop offset="0.616" stop-color="#1484e3"/><stop offset="0.642" stop-color="#2155c4"/><stop offset="0.667" stop-color="#323496"/><stop offset="1.000" stop-color="#323496"/></linearGradient><linearGradient id="g117" x1="0" y1="0" x2="0" y2="1"><stop offset="0.000" stop-color="#323497"/><stop offset="0.119" stop-color="#2f399e"/><stop offset="0.138" stop-color="#2353c1"/><stop offset="0.170" stop-color="#157fe0"/><stop offset="0.176" stop-color="#1877db"/><stop offset="0.195" stop-color="#128ae7"/><stop offset="0.201" stop-color="#1392df"/><stop offset="0.220" stop-color="#1394db"/><stop offset="0.358" stop-color="#159dcc"/><stop offset="0.365" stop-color="#17abb6"/><stop offset="0.371" stop-color="#23bd89"/><stop offset="0.396" stop-color="#2dc76d"/><stop offset="0.409" stop-color="#42cc6b"/><stop offset="0.415" stop-color="#44cd6b"/><stop offset="0.434" stop-color="#2ec86b"/><stop offset="0.465" stop-color="#2ac475"/><stop offset="0.503" stop-color="#2dc76e"/><stop offset="0.535" stop-color="#1fb996"/><stop offset="0.541" stop-color="#159fc9"/><stop offset="0.547" stop-color="#1395d9"/><stop offset="0.597" stop-color="#149bd0"/><stop offset="0.616" stop-color="#1395d9"/><stop offset="0.629" stop-color="#1483e2"/><stop offset="0.635" stop-color="#1388e6"/><stop offset="0.660" stop-color="#2352c0"/><stop offset="0.673" stop-color="#2b42aa"/><stop offset="0.761" stop-color="#323496"/><stop offset="1.000" stop-color="#323496"/></linearGradient><linearGradient id="g118" x1="0" y1="0" x2="0" y2="1"><stop offset="0.000" stop-color="#323496"/><stop offset="0.126" stop-color="#313698"/><stop offset="0.170" stop-color="#1e5fcc"/><stop offset="0.208" stop-color="#128ee6"/><stop offset="0.327" stop-color="#159eca"/><stop offset="0.365" stop-color="#159eca"/><stop offset="0.371" stop-color="#17acb3"/><stop offset="0.377" stop-color="#24be86"/><stop offset="0.409" stop-color="#2ec86b"/><stop offset="0.421" stop-color="#34c96a"/><stop offset="0.459" stop-color="#29c377"/><stop offset="0.509" stop-color="#2ac476"/><stop offset="0.535" stop-color="#1bb5a1"/><stop offset="0.541" stop-color="#159ecb"/><stop offset="0.547" stop-color="#128ee4"/><stop offset="0.591" stop-color="#1391e0"/><stop offset="0.616" stop-color="#128ce8"/><stop offset="0.648" stop-color="#1f5ac9"/><stop offset="0.673" stop-color="#2f3a9e"/><stop offset="0.742" stop-color="#323496"/><stop offset="1.000" stop-color="#323496"/></linearGradient><linearGradient id="g119" x1="0" y1="0" x2="0" y2="1"><stop offset="0.000" stop-color="#323496"/><stop offset="0.138" stop-color="#323597"/><stop offset="0.170" stop-color="#2450bd"/><stop offset="0.182" stop-color="#2058c7"/><stop offset="0.214" stop-color="#167ddf"/><stop offset="0.296" stop-color="#128ce8"/><stop offset="0.371" stop-color="#1395da"/><stop offset="0.377" stop-color="#16a3c3"/><stop offset="0.384" stop-color="#1eb898"/><stop offset="0.421" stop-color="#2cc670"/><stop offset="0.509" stop-color="#22bc8c"/><stop offset="0.535" stop-color="#16a5bf"/><stop offset="0.541" stop-color="#1390e1"/><stop offset="0.547" stop-color="#1778dc"/><stop offset="0.616" stop-color="#1a6fd6"/><stop offset="0.635" stop-color="#2057c7"/><stop offset="0.667" stop-color="#323496"/><stop offset="0.862" stop-color="#30389c"/><stop offset="1.000" stop-color="#323496"/></linearGradient><linearGradient id="g120" x1="0" y1="0" x2="0" y2="1"><stop offset="0.000" stop-color="#30379b"/><stop offset="0.094" stop-color="#323496"/><stop offset="0.132" stop-color="#2f399d"/><stop offset="0.164" stop-color="#2451be"/><stop offset="0.226" stop-color="#1583e2"/><stop offset="0.377" stop-color="#128de6"/><stop offset="0.384" stop-color="#149bcf"/><stop offset="0.390" stop-color="#19b3a7"/><stop offset="0.403" stop-color="#1cb69f"/><stop offset="0.415" stop-color="#24be88"/><stop offset="0.428" stop-color="#27c17f"/><stop offset="0.509" stop-color="#1eb898"/><stop offset="0.516" stop-color="#1bb5a1"/><stop offset="0.528" stop-color="#16a6be"/><stop offset="0.541" stop-color="#159dcc"/><stop offset="0.547" stop-color="#1877db"/><stop offset="0.597" stop-color="#1778dc"/><stop offset="0.623" stop-color="#1971d7"/><stop offset="0.642" stop-color="#2254c3"/><stop offset="0.667" stop-color="#313699"/><stop offset="0.673" stop-color="#323496"/><stop offset="0.855" stop-color="#2f399d"/><stop offset="1.000" stop-color="#313698"/></linearGradient><linearGradient id="g121" x1="0" y1="0" x2="0" y2="1"><stop offset="0.000" stop-color="#323496"/><stop offset="0.138" stop-color="#30389c"/><stop offset="0.164" stop-color="#264cb8"/><stop offset="0.195" stop-color="#1876da"/><stop offset="0.201" stop-color="#167cde"/><stop offset="0.214" stop-color="#1779dc"/><stop offset="0.233" stop-color="#128ee5"/><stop offset="0.352" stop-color="#128ce8"/><stop offset="0.384" stop-color="#128fe3"/><stop offset="0.390" stop-color="#159fca"/><stop offset="0.396" stop-color="#1cb69e"/><stop offset="0.421" stop-color="#2dc76d"/><stop offset="0.434" stop-color="#4cce6c"/><stop offset="0.459" stop-color="#53d06c"/><stop offset="0.509" stop-color="#47cd6b"/><stop offset="0.516" stop-color="#37ca6a"/><stop offset="0.522" stop-color="#2ac475"/><stop offset="0.535" stop-color="#21bb91"/><stop offset="0.541" stop-color="#1eb897"/><stop offset="0.547" stop-color="#149ad1"/><stop offset="0.553" stop-color="#1394db"/><stop offset="0.597" stop-color="#149ad2"/><stop offset="0.623" stop-color="#1395d9"/><stop offset="0.629" stop-color="#138ae6"/><stop offset="0.635" stop-color="#177bde"/><stop offset="0.642" stop-color="#1580e1"/><stop offset="0.648" stop-color="#1971d7"/><stop offset="0.673" stop-color="#2e3da2"/><stop offset="0.686" stop-color="#2f399d"/><stop offset="0.717" stop-color="#323496"/><stop offset="1.000" stop-color="#323496"/></linearGradient><linearGradient id="g122" x1="0" y1="0" x2="0" y2="1"><stop offset="0.000" stop-color="#323496"/><stop offset="0.157" stop-color="#323496"/><stop offset="0.201" stop-color="#2059c9"/><stop offset="0.239" stop-color="#128ce8"/><stop offset="0.277" stop-color="#1496d8"/><stop offset="0.384" stop-color="#1392df"/><stop offset="0.390" stop-color="#1498d5"/><stop offset="0.396" stop-color="#1ab4a6"/><stop offset="0.434" stop-color="#2dc76c"/><stop offset="0.440" stop-color="#35ca6a"/><stop offset="0.484" stop-color="#2ec86a"/><stop offset="0.509" stop-color="#36ca6a"/><stop offset="0.516" stop-color="#30c86a"/><stop offset="0.541" stop-color="#20ba93"/><stop offset="0.547" stop-color="#15a1c6"/><stop offset="0.553" stop-color="#1497d6"/><stop offset="0.597" stop-color="#15a0c7"/><stop offset="0.623" stop-color="#149bd0"/><stop offset="0.629" stop-color="#1391e0"/><stop offset="0.635" stop-color="#1483e3"/><stop offset="0.642" stop-color="#1390e2"/><stop offset="0.654" stop-color="#1a6ed5"/><stop offset="0.673" stop-color="#2b42a9"/><stop offset="0.698" stop-color="#2f3ba0"/><stop offset="0.767" stop-color="#323496"/><stop offset="1.000" stop-color="#323496"/></linearGradient><linearGradient id="g123" x1="0" y1="0" x2="0" y2="1"><stop offset="0.000" stop-color="#323597"/><stop offset="0.164" stop-color="#323496"/><stop offset="0.195" stop-color="#2450bd"/><stop offset="0.220" stop-color="#1389e6"/><stop offset="0.226" stop-color="#1580e1"/><stop offset="0.239" stop-color="#128ee5"/><stop offset="0.252" stop-color="#149ccf"/><stop offset="0.270" stop-color="#15a1c5"/><stop offset="0.302" stop-color="#16a3c3"/><stop offset="0.390" stop-color="#128ce8"/><stop offset="0.396" stop-color="#1496d8"/><stop offset="0.403" stop-color="#17acb4"/><stop offset="0.440" stop-color="#27c17f"/><stop offset="0.516" stop-color="#2cc66f"/><stop offset="0.541" stop-color="#1eb899"/><stop offset="0.547" stop-color="#16a2c4"/><stop offset="0.553" stop-color="#1393dd"/><stop offset="0.597" stop-color="#1496d8"/><stop offset="0.623" stop-color="#128de6"/><stop offset="0.648" stop-color="#2058c8"/><stop offset="0.673" stop-color="#323496"/><stop offset="1.000" stop-color="#323597"/></linearGradient><linearGradient id="g124" x1="0" y1="0" x2="0" y2="1"><stop offset="0.000" stop-color="#323496"/><stop offset="0.119" stop-color="#323597"/><stop offset="0.170" stop-color="#264cb7"/><stop offset="0.182" stop-color="#1f5ccb"/><stop offset="0.208" stop-color="#1483e3"/><stop offset="0.214" stop-color="#128ee5"/><stop offset="0.226" stop-color="#159ccd"/><stop offset="0.233" stop-color="#1580e1"/><stop offset="0.239" stop-color="#138ae6"/><stop offset="0.258" stop-color="#159dcc"/><stop offset="0.296" stop-color="#16a5bf"/><stop offset="0.396" stop-color="#1498d4"/><stop offset="0.403" stop-color="#16a4c0"/><stop offset="0.409" stop-color="#1eb897"/><stop offset="0.434" stop-color="#31c96a"/><stop offset="0.447" stop-color="#57d16c"/><stop offset="0.509" stop-color="#68d56d"/><stop offset="0.516" stop-color="#66d46d"/><stop offset="0.522" stop-color="#4fcf6c"/><stop offset="0.528" stop-color="#2dc76c"/><stop offset="0.541" stop-color="#23bd8a"/><stop offset="0.547" stop-color="#1cb69f"/><stop offset="0.553" stop-color="#1496d8"/><stop offset="0.597" stop-color="#128ce8"/><stop offset="0.629" stop-color="#1972d8"/><stop offset="0.642" stop-color="#2057c7"/><stop offset="0.667" stop-color="#30379a"/><stop offset="0.673" stop-color="#323496"/><stop offset="0.836" stop-color="#2f399d"/><stop offset="1.000" stop-color="#323496"/></linearGradient><linearGradient id="g125" x1="0" y1="0" x2="0" y2="1"><stop offset="0.000" stop-color="#323496"/><stop offset="0.126" stop-color="#323496"/><stop offset="0.170" stop-color="#2a45ad"/><stop offset="0.189" stop-color="#2255c3"/><stop offset="0.214" stop-color="#167fe0"/><stop offset="0.226" stop-color="#128ce8"/><stop offset="0.233" stop-color="#1393dc"/><stop offset="0.239" stop-color="#167edf"/><stop offset="0.252" stop-color="#128fe3"/><stop offset="0.258" stop-color="#1497d6"/><stop offset="0.308" stop-color="#16a2c4"/><stop offset="0.403" stop-color="#1499d3"/><stop offset="0.409" stop-color="#16a6be"/><stop offset="0.415" stop-color="#22bc8c"/><stop offset="0.434" stop-color="#33c96a"/><stop offset="0.440" stop-color="#5cd26c"/><stop offset="0.447" stop-color="#6fd66e"/><stop offset="0.465" stop-color="#88db72"/><stop offset="0.484" stop-color="#93dd75"/><stop offset="0.497" stop-color="#8fdc74"/><stop offset="0.516" stop-color="#76d86e"/><stop offset="0.522" stop-color="#5dd26d"/><stop offset="0.528" stop-color="#32c96a"/><stop offset="0.547" stop-color="#1fb995"/><stop offset="0.553" stop-color="#1496d8"/><stop offset="0.579" stop-color="#128ce8"/><stop offset="0.623" stop-color="#1778db"/><stop offset="0.642" stop-color="#2157c7"/><stop offset="0.667" stop-color="#31379a"/><stop offset="0.673" stop-color="#323496"/><stop offset="1.000" stop-color="#323496"/></linearGradient><linearGradient id="g126" x1="0" y1="0" x2="0" y2="1"><stop offset="0.000" stop-color="#323496"/><stop offset="0.182" stop-color="#323496"/><stop offset="0.233" stop-color="#2156c6"/><stop offset="0.270" stop-color="#1582e2"/><stop offset="0.302" stop-color="#128ce8"/><stop offset="0.321" stop-color="#1390e1"/><stop offset="0.403" stop-color="#1391e0"/><stop offset="0.409" stop-color="#1499d3"/><stop offset="0.415" stop-color="#17afb0"/><stop offset="0.421" stop-color="#1db79b"/><stop offset="0.447" stop-color="#2dc76d"/><stop offset="0.453" stop-color="#37ca6a"/><stop offset="0.459" stop-color="#37ca6a"/><stop offset="0.509" stop-color="#2ec86a"/><stop offset="0.522" stop-color="#2bc572"/><stop offset="0.541" stop-color="#1cb69f"/><stop offset="0.547" stop-color="#19b3a6"/><stop offset="0.553" stop-color="#1392de"/><stop offset="0.560" stop-color="#128be8"/><stop offset="0.604" stop-color="#138ae7"/><stop offset="0.629" stop-color="#167ddf"/><stop offset="0.648" stop-color="#2057c7"/><stop offset="0.673" stop-color="#313598"/><stop offset="0.679" stop-color="#323496"/><stop offset="1.000" stop-color="#323496"/></linearGradient><linearGradient id="g127" x1="0" y1="0" x2="0" y2="1"><stop offset="0.000" stop-color="#323496"/><stop offset="0.195" stop-color="#313598"/><stop offset="0.245" stop-color="#1d63cf"/><stop offset="0.277" stop-color="#1388e6"/><stop offset="0.302" stop-color="#128de7"/><stop offset="0.409" stop-color="#1499d4"/><stop offset="0.415" stop-color="#17abb5"/><stop offset="0.421" stop-color="#23bd89"/><stop offset="0.440" stop-color="#2fc86a"/><stop offset="0.447" stop-color="#4ecf6c"/><stop offset="0.453" stop-color="#5dd26d"/><stop offset="0.459" stop-color="#62d36d"/><stop offset="0.516" stop-color="#55d06c"/><stop offset="0.522" stop-color="#4dcf6c"/><stop offset="0.528" stop-color="#32c96a"/><stop offset="0.541" stop-color="#24be87"/><stop offset="0.547" stop-color="#22bc8e"/><stop offset="0.553" stop-color="#16a3c3"/><stop offset="0.560" stop-color="#1498d4"/><stop offset="0.604" stop-color="#149ccf"/><stop offset="0.629" stop-color="#1394db"/><stop offset="0.635" stop-color="#1485e4"/><stop offset="0.642" stop-color="#1387e5"/><stop offset="0.660" stop-color="#205ac9"/><stop offset="0.679" stop-color="#2e3ca1"/><stop offset="1.000" stop-color="#323496"/></linearGradient><linearGradient id="g128" x1="0" y1="0" x2="0" y2="1"><stop offset="0.000" stop-color="#31379a"/><stop offset="0.195" stop-color="#31379a"/><stop offset="0.226" stop-color="#2059c9"/><stop offset="0.258" stop-color="#128be7"/><stop offset="0.264" stop-color="#167cde"/><stop offset="0.277" stop-color="#128ee5"/><stop offset="0.289" stop-color="#1497d7"/><stop offset="0.333" stop-color="#15a0c8"/><stop offset="0.409" stop-color="#16a3c3"/><stop offset="0.415" stop-color="#17a9b9"/><stop offset="0.428" stop-color="#2ac476"/><stop offset="0.434" stop-color="#2ec86a"/><stop offset="0.453" stop-color="#7ad86f"/><stop offset="0.459" stop-color="#81d970"/><stop offset="0.522" stop-color="#2ec86a"/><stop offset="0.547" stop-color="#1bb5a2"/><stop offset="0.560" stop-color="#128de7"/><stop offset="0.604" stop-color="#1390e2"/><stop offset="0.623" stop-color="#128de7"/><stop offset="0.654" stop-color="#1e5fcc"/><stop offset="0.679" stop-color="#2e3ba0"/><stop offset="1.000" stop-color="#313699"/></linearGradient><linearGradient id="g129" x1="0" y1="0" x2="0" y2="1"><stop offset="0.000" stop-color="#313699"/><stop offset="0.208" stop-color="#323496"/><stop offset="0.245" stop-color="#1e5fcc"/><stop offset="0.264" stop-color="#1389e6"/><stop offset="0.270" stop-color="#167ddf"/><stop offset="0.283" stop-color="#128ae7"/><stop offset="0.296" stop-color="#149ad1"/><stop offset="0.340" stop-color="#16a4c0"/><stop offset="0.415" stop-color="#149ad1"/><stop offset="0.428" stop-color="#21bb8f"/><stop offset="0.459" stop-color="#2cc66f"/><stop offset="0.522" stop-color="#22bc8c"/><stop offset="0.553" stop-color="#149bcf"/><stop offset="0.560" stop-color="#177add"/><stop offset="0.629" stop-color="#1877db"/><stop offset="0.648" stop-color="#1f5bca"/><stop offset="0.679" stop-color="#30379a"/><stop offset="0.723" stop-color="#2d3ea4"/><stop offset="1.000" stop-color="#313698"/></linearGradient><linearGradient id="g130" x1="0" y1="0" x2="0" y2="1"><stop offset="0.000" stop-color="#2c40a7"/><stop offset="0.069" stop-color="#323496"/><stop offset="0.220" stop-color="#323597"/><stop offset="0.258" stop-color="#2156c6"/><stop offset="0.296" stop-color="#1389e6"/><stop offset="0.302" stop-color="#1391e1"/><stop offset="0.352" stop-color="#149ad1"/><stop offset="0.415" stop-color="#1394db"/><stop offset="0.421" stop-color="#1395d9"/><stop offset="0.434" stop-color="#1fb996"/><stop offset="0.459" stop-color="#2cc670"/><stop offset="0.465" stop-color="#2dc76c"/><stop offset="0.522" stop-color="#27c17e"/><stop offset="0.547" stop-color="#17abb5"/><stop offset="0.553" stop-color="#16a7bc"/><stop offset="0.560" stop-color="#1581e1"/><stop offset="0.629" stop-color="#167fe0"/><stop offset="0.654" stop-color="#2157c6"/><stop offset="0.679" stop-color="#2e3da2"/><stop offset="0.862" stop-color="#313699"/><stop offset="1.000" stop-color="#2e3ca1"/></linearGradient><linearGradient id="g131" x1="0" y1="0" x2="0" y2="1"><stop offset="0.000" stop-color="#2e3ca1"/><stop offset="0.075" stop-color="#323496"/><stop offset="0.220" stop-color="#323597"/><stop offset="0.239" stop-color="#2451be"/><stop offset="0.264" stop-color="#128ce8"/><stop offset="0.283" stop-color="#17adb3"/><stop offset="0.289" stop-color="#128de7"/><stop offset="0.314" stop-color="#16a3c2"/><stop offset="0.321" stop-color="#16a4c1"/><stop offset="0.358" stop-color="#16a6be"/><stop offset="0.421" stop-color="#149bcf"/><stop offset="0.428" stop-color="#17aeb1"/><stop offset="0.434" stop-color="#24be87"/><stop offset="0.447" stop-color="#2cc670"/><stop offset="0.453" stop-color="#41cc6b"/><stop offset="0.465" stop-color="#80d970"/><stop offset="0.472" stop-color="#91dc75"/><stop offset="0.503" stop-color="#b5e27e"/><stop offset="0.522" stop-color="#bce380"/><stop offset="0.528" stop-color="#a3df79"/><stop offset="0.535" stop-color="#6ad56d"/><stop offset="0.541" stop-color="#42cc6b"/><stop offset="0.547" stop-color="#2bc574"/><stop offset="0.553" stop-color="#28c27d"/><stop offset="0.560" stop-color="#17aeb1"/><stop offset="0.566" stop-color="#159ecb"/><stop offset="0.629" stop-color="#1395d9"/><stop offset="0.635" stop-color="#128ce8"/><stop offset="0.642" stop-color="#167edf"/><stop offset="0.648" stop-color="#1485e4"/><stop offset="0.667" stop-color="#1f5bca"/><stop offset="0.679" stop-color="#2a44ac"/><stop offset="0.786" stop-color="#31379a"/><stop offset="1.000" stop-color="#2f399d"/></linearGradient><linearGradient id="g132" x1="0" y1="0" x2="0" y2="1"><stop offset="0.000" stop-color="#323496"/><stop offset="0.233" stop-color="#323597"/><stop offset="0.258" stop-color="#2059c8"/><stop offset="0.277" stop-color="#1486e4"/><stop offset="0.289" stop-color="#159eca"/><stop offset="0.296" stop-color="#1581e1"/><stop offset="0.302" stop-color="#128be8"/><stop offset="0.321" stop-color="#15a1c6"/><stop offset="0.365" stop-color="#16a7bc"/><stop offset="0.428" stop-color="#16a4c1"/><stop offset="0.434" stop-color="#25bf84"/><stop offset="0.440" stop-color="#2dc76e"/><stop offset="0.447" stop-color="#38ca6b"/><stop offset="0.453" stop-color="#5ad16c"/><stop offset="0.465" stop-color="#bde480"/><stop offset="0.472" stop-color="#d8e887"/><stop offset="0.491" stop-color="#d7e887"/><stop offset="0.522" stop-color="#c7e583"/><stop offset="0.528" stop-color="#b2e27d"/><stop offset="0.535" stop-color="#73d76e"/><stop offset="0.541" stop-color="#4ace6c"/><stop offset="0.547" stop-color="#2dc76e"/><stop offset="0.553" stop-color="#28c27b"/><stop offset="0.560" stop-color="#19b3a7"/><stop offset="0.566" stop-color="#159eca"/><stop offset="0.604" stop-color="#149bd0"/><stop offset="0.629" stop-color="#1393dd"/><stop offset="0.635" stop-color="#128be7"/><stop offset="0.642" stop-color="#167ddf"/><stop offset="0.648" stop-color="#1580e1"/><stop offset="0.667" stop-color="#2157c6"/><stop offset="0.679" stop-color="#2b43ab"/><stop offset="0.686" stop-color="#2c41a7"/><stop offset="0.774" stop-color="#30379b"/><stop offset="0.874" stop-color="#2f3a9f"/><stop offset="1.000" stop-color="#323496"/></linearGradient><linearGradient id="g133" x1="0" y1="0" x2="0" y2="1"><stop offset="0.000" stop-color="#313495"/><stop offset="0.226" stop-color="#323597"/><stop offset="0.239" stop-color="#2e3ba0"/><stop offset="0.258" stop-color="#2451be"/><stop offset="0.283" stop-color="#1581e1"/><stop offset="0.289" stop-color="#1388e5"/><stop offset="0.296" stop-color="#1392de"/><stop offset="0.302" stop-color="#167dde"/><stop offset="0.314" stop-color="#128fe4"/><stop offset="0.333" stop-color="#149ad1"/><stop offset="0.371" stop-color="#149ccf"/><stop offset="0.428" stop-color="#1394db"/><stop offset="0.434" stop-color="#16a2c4"/><stop offset="0.440" stop-color="#1eb898"/><stop offset="0.465" stop-color="#2ec86a"/><stop offset="0.472" stop-color="#40cc6b"/><stop offset="0.478" stop-color="#43cd6b"/><stop offset="0.528" stop-color="#2dc76c"/><stop offset="0.553" stop-color="#19b3a6"/><stop offset="0.566" stop-color="#1388e6"/><stop offset="0.629" stop-color="#1580e0"/><stop offset="0.654" stop-color="#2059c8"/><stop offset="0.679" stop-color="#30399d"/><stop offset="1.000" stop-color="#313495"/></linearGradient><linearGradient id="g134" x1="0" y1="0" x2="0" y2="1"><stop offset="0.000" stop-color="#323496"/><stop offset="0.113" stop-color="#2e3ca2"/><stop offset="0.195" stop-color="#254eba"/><stop offset="0.252" stop-color="#2849b3"/><stop offset="0.289" stop-color="#2156c6"/><stop offset="0.333" stop-color="#1582e2"/><stop offset="0.428" stop-color="#157fe0"/><stop offset="0.434" stop-color="#1387e5"/><stop offset="0.440" stop-color="#15a0c8"/><stop offset="0.472" stop-color="#21bb91"/><stop offset="0.528" stop-color="#24be87"/><stop offset="0.560" stop-color="#17aab7"/><stop offset="0.566" stop-color="#128ae7"/><stop offset="0.629" stop-color="#128ce8"/><stop offset="0.660" stop-color="#2058c8"/><stop offset="0.679" stop-color="#30389c"/><stop offset="0.686" stop-color="#313699"/><stop offset="1.000" stop-color="#323496"/></linearGradient><linearGradient id="g135" x1="0" y1="0" x2="0" y2="1"><stop offset="0.000" stop-color="#2e3ba0"/><stop offset="0.057" stop-color="#2945ae"/><stop offset="0.113" stop-color="#2848b2"/><stop offset="0.182" stop-color="#2b42aa"/><stop offset="0.252" stop-color="#323496"/><stop offset="0.314" stop-color="#1f5aca"/><stop offset="0.340" stop-color="#177bde"/><stop offset="0.384" stop-color="#128de6"/><stop offset="0.434" stop-color="#128ee4"/><stop offset="0.440" stop-color="#149ad2"/><stop offset="0.447" stop-color="#1bb5a2"/><stop offset="0.472" stop-color="#28c27c"/><stop offset="0.478" stop-color="#2ac475"/><stop offset="0.528" stop-color="#2bc572"/><stop offset="0.560" stop-color="#1bb5a2"/><stop offset="0.566" stop-color="#1497d6"/><stop offset="0.572" stop-color="#138fe3"/><stop offset="0.610" stop-color="#138fe3"/><stop offset="0.623" stop-color="#128ae7"/><stop offset="0.635" stop-color="#1580e1"/><stop offset="0.654" stop-color="#2057c7"/><stop offset="0.679" stop-color="#323496"/><stop offset="0.956" stop-color="#323496"/><stop offset="1.000" stop-color="#30399c"/></linearGradient><linearGradient id="g136" x1="0" y1="0" x2="0" y2="1"><stop offset="0.000" stop-color="#313699"/><stop offset="0.075" stop-color="#2d3ea3"/><stop offset="0.182" stop-color="#2058c8"/><stop offset="0.220" stop-color="#205ac9"/><stop offset="0.270" stop-color="#2351bf"/><stop offset="0.308" stop-color="#1b6bd4"/><stop offset="0.321" stop-color="#177bde"/><stop offset="0.327" stop-color="#1876da"/><stop offset="0.346" stop-color="#128ae7"/><stop offset="0.352" stop-color="#1393dd"/><stop offset="0.390" stop-color="#159dcc"/><stop offset="0.434" stop-color="#149cce"/><stop offset="0.440" stop-color="#16a3c3"/><stop offset="0.453" stop-color="#25bf85"/><stop offset="0.465" stop-color="#2bc573"/><stop offset="0.472" stop-color="#36ca6a"/><stop offset="0.478" stop-color="#4ace6b"/><stop offset="0.484" stop-color="#4dcf6c"/><stop offset="0.528" stop-color="#37ca6a"/><stop offset="0.535" stop-color="#2ec86b"/><stop offset="0.560" stop-color="#1db79c"/><stop offset="0.572" stop-color="#1391df"/><stop offset="0.604" stop-color="#1393dd"/><stop offset="0.629" stop-color="#128be8"/><stop offset="0.635" stop-color="#1389e6"/><stop offset="0.654" stop-color="#1f5ac9"/><stop offset="0.673" stop-color="#2f399d"/><stop offset="0.679" stop-color="#323496"/><stop offset="1.000" stop-color="#313598"/></linearGradient><linearGradient id="g137" x1="0" y1="0" x2="0" y2="1"><stop offset="0.000" stop-color="#323496"/><stop offset="0.057" stop-color="#313598"/><stop offset="0.201" stop-color="#254fbb"/><stop offset="0.270" stop-color="#2451be"/><stop offset="0.308" stop-color="#1484e3"/><stop offset="0.314" stop-color="#128fe4"/><stop offset="0.327" stop-color="#15a0c7"/><stop offset="0.333" stop-color="#16a4c1"/><stop offset="0.340" stop-color="#1387e5"/><stop offset="0.346" stop-color="#1390e2"/><stop offset="0.358" stop-color="#15a0c8"/><stop offset="0.390" stop-color="#16a7bc"/><stop offset="0.440" stop-color="#16a3c2"/><stop offset="0.453" stop-color="#29c379"/><stop offset="0.459" stop-color="#2bc574"/><stop offset="0.465" stop-color="#38ca6b"/><stop offset="0.478" stop-color="#62d36d"/><stop offset="0.484" stop-color="#6ad56d"/><stop offset="0.535" stop-color="#2dc76d"/><stop offset="0.560" stop-color="#19b3a7"/><stop offset="0.572" stop-color="#138ae7"/><stop offset="0.610" stop-color="#1486e4"/><stop offset="0.635" stop-color="#1876da"/><stop offset="0.648" stop-color="#1f5ac9"/><stop offset="0.673" stop-color="#323496"/><stop offset="1.000" stop-color="#323496"/></linearGradient><linearGradient id="g138" x1="0" y1="0" x2="0" y2="1"><stop offset="0.000" stop-color="#323496"/><stop offset="0.132" stop-color="#30389b"/><stop offset="0.277" stop-color="#323496"/><stop offset="0.296" stop-color="#2d3ea4"/><stop offset="0.308" stop-color="#264cb7"/><stop offset="0.333" stop-color="#1483e2"/><stop offset="0.340" stop-color="#1393dd"/><stop offset="0.346" stop-color="#1582e2"/><stop offset="0.352" stop-color="#128de6"/><stop offset="0.365" stop-color="#159fc8"/><stop offset="0.390" stop-color="#17a9b8"/><stop offset="0.409" stop-color="#17adb3"/><stop offset="0.440" stop-color="#17a9b9"/><stop offset="0.447" stop-color="#17adb2"/><stop offset="0.453" stop-color="#2dc76e"/><stop offset="0.459" stop-color="#2ec86a"/><stop offset="0.465" stop-color="#3dcb6b"/><stop offset="0.472" stop-color="#61d36d"/><stop offset="0.484" stop-color="#86da72"/><stop offset="0.491" stop-color="#83da71"/><stop offset="0.535" stop-color="#34c96a"/><stop offset="0.560" stop-color="#1ab4a4"/><stop offset="0.572" stop-color="#1390e2"/><stop offset="0.579" stop-color="#1485e4"/><stop offset="0.629" stop-color="#1876da"/><stop offset="0.648" stop-color="#2155c4"/><stop offset="0.673" stop-color="#323496"/><stop offset="1.000" stop-color="#323496"/></linearGradient><linearGradient id="g139" x1="0" y1="0" x2="0" y2="1"><stop offset="0.000" stop-color="#30379a"/><stop offset="0.289" stop-color="#323496"/><stop offset="0.296" stop-color="#313598"/><stop offset="0.327" stop-color="#2254c2"/><stop offset="0.346" stop-color="#1485e4"/><stop offset="0.352" stop-color="#167ddf"/><stop offset="0.358" stop-color="#1388e6"/><stop offset="0.371" stop-color="#149ad1"/><stop offset="0.403" stop-color="#15a2c4"/><stop offset="0.447" stop-color="#1498d4"/><stop offset="0.459" stop-color="#20ba93"/><stop offset="0.491" stop-color="#2ac476"/><stop offset="0.535" stop-color="#24be87"/><stop offset="0.566" stop-color="#17aab6"/><stop offset="0.572" stop-color="#1392de"/><stop offset="0.579" stop-color="#1582e2"/><stop offset="0.604" stop-color="#1387e5"/><stop offset="0.629" stop-color="#1583e2"/><stop offset="0.635" stop-color="#177add"/><stop offset="0.654" stop-color="#2155c4"/><stop offset="0.673" stop-color="#30379b"/><stop offset="0.679" stop-color="#323496"/><stop offset="0.843" stop-color="#323496"/><stop offset="0.943" stop-color="#2f3a9f"/><stop offset="1.000" stop-color="#30379b"/></linearGradient><linearGradient id="g140" x1="0" y1="0" x2="0" y2="1"><stop offset="0.000" stop-color="#2f399d"/><stop offset="0.296" stop-color="#323496"/><stop offset="0.340" stop-color="#2156c6"/><stop offset="0.377" stop-color="#1483e3"/><stop offset="0.447" stop-color="#1779dc"/><stop offset="0.453" stop-color="#1389e6"/><stop offset="0.459" stop-color="#159fca"/><stop offset="0.491" stop-color="#19b3a8"/><stop offset="0.535" stop-color="#1db79b"/><stop offset="0.541" stop-color="#1db79c"/><stop offset="0.566" stop-color="#17a9b9"/><stop offset="0.572" stop-color="#15a0c7"/><stop offset="0.579" stop-color="#1483e2"/><stop offset="0.597" stop-color="#128be7"/><stop offset="0.629" stop-color="#128ee5"/><stop offset="0.648" stop-color="#1876db"/><stop offset="0.660" stop-color="#2059c9"/><stop offset="0.679" stop-color="#2d3fa5"/><stop offset="0.792" stop-color="#323496"/><stop offset="1.000" stop-color="#30389c"/></linearGradient><linearGradient id="g141" x1="0" y1="0" x2="0" y2="1"><stop offset="0.000" stop-color="#30399d"/><stop offset="0.088" stop-color="#2945ae"/><stop offset="0.182" stop-color="#323496"/><stop offset="0.308" stop-color="#323597"/><stop offset="0.352" stop-color="#2058c8"/><stop offset="0.384" stop-color="#167cde"/><stop offset="0.453" stop-color="#138ae7"/><stop offset="0.459" stop-color="#16a7bd"/><stop offset="0.465" stop-color="#1ab4a5"/><stop offset="0.497" stop-color="#29c377"/><stop offset="0.509" stop-color="#2bc572"/><stop offset="0.541" stop-color="#2ac475"/><stop offset="0.547" stop-color="#28c27d"/><stop offset="0.566" stop-color="#1bb5a2"/><stop offset="0.572" stop-color="#1ab4a5"/><stop offset="0.579" stop-color="#1395d9"/><stop offset="0.585" stop-color="#128fe3"/><stop offset="0.610" stop-color="#1394db"/><stop offset="0.629" stop-color="#1392de"/><stop offset="0.635" stop-color="#128be8"/><stop offset="0.642" stop-color="#167cde"/><stop offset="0.648" stop-color="#167ddf"/><stop offset="0.654" stop-color="#1a6ed6"/><stop offset="0.673" stop-color="#2946b0"/><stop offset="0.679" stop-color="#2b41a9"/><stop offset="0.774" stop-color="#323496"/><stop offset="1.000" stop-color="#30379b"/></linearGradient><linearGradient id="g142" x1="0" y1="0" x2="0" y2="1"><stop offset="0.000" stop-color="#313698"/><stop offset="0.101" stop-color="#2d3ea5"/><stop offset="0.220" stop-color="#323496"/><stop offset="0.308" stop-color="#323597"/><stop offset="0.346" stop-color="#1f5ac9"/><stop offset="0.365" stop-color="#1876da"/><stop offset="0.371" stop-color="#1876db"/><stop offset="0.384" stop-color="#1387e5"/><stop offset="0.390" stop-color="#138fe3"/><stop offset="0.453" stop-color="#1498d5"/><stop offset="0.459" stop-color="#16a5c0"/><stop offset="0.465" stop-color="#22bc8c"/><stop offset="0.491" stop-color="#2dc76c"/><stop offset="0.503" stop-color="#52d06c"/><stop offset="0.509" stop-color="#5ad16c"/><stop offset="0.541" stop-color="#47cd6b"/><stop offset="0.547" stop-color="#36ca6a"/><stop offset="0.553" stop-color="#2ac475"/><stop offset="0.572" stop-color="#1db79c"/><stop offset="0.585" stop-color="#1391e0"/><stop offset="0.629" stop-color="#128de7"/><stop offset="0.654" stop-color="#205ac9"/><stop offset="0.673" stop-color="#2f3a9f"/><stop offset="0.679" stop-color="#30379b"/><stop offset="1.000" stop-color="#323597"/></linearGradient><linearGradient id="g143" x1="0" y1="0" x2="0" y2="1"><stop offset="0.000" stop-color="#323496"/><stop offset="0.176" stop-color="#323597"/><stop offset="0.270" stop-color="#2c41a8"/><stop offset="0.321" stop-color="#2254c3"/><stop offset="0.346" stop-color="#1387e5"/><stop offset="0.352" stop-color="#1391df"/><stop offset="0.371" stop-color="#17a9b9"/><stop offset="0.377" stop-color="#1389e6"/><stop offset="0.396" stop-color="#159cce"/><stop offset="0.453" stop-color="#1395d9"/><stop offset="0.465" stop-color="#159eca"/><stop offset="0.472" stop-color="#1ab4a5"/><stop offset="0.516" stop-color="#26c081"/><stop offset="0.547" stop-color="#21bb90"/><stop offset="0.572" stop-color="#16a6bd"/><stop offset="0.579" stop-color="#1496d8"/><stop offset="0.585" stop-color="#1582e2"/><stop offset="0.629" stop-color="#1580e1"/><stop offset="0.648" stop-color="#1f5ccb"/><stop offset="0.673" stop-color="#323497"/><stop offset="1.000" stop-color="#323496"/></linearGradient><linearGradient id="g144" x1="0" y1="0" x2="0" y2="1"><stop offset="0.000" stop-color="#30379a"/><stop offset="0.057" stop-color="#2f3a9f"/><stop offset="0.176" stop-color="#323496"/><stop offset="0.321" stop-color="#2d3da3"/><stop offset="0.346" stop-color="#2157c6"/><stop offset="0.365" stop-color="#1973d9"/><stop offset="0.377" stop-color="#1485e4"/><stop offset="0.384" stop-color="#177bdd"/><stop offset="0.396" stop-color="#128be7"/><stop offset="0.403" stop-color="#1391df"/><stop offset="0.465" stop-color="#1392de"/><stop offset="0.472" stop-color="#159fc9"/><stop offset="0.478" stop-color="#1bb5a0"/><stop offset="0.522" stop-color="#2ec86b"/><stop offset="0.547" stop-color="#2bc572"/><stop offset="0.553" stop-color="#28c27d"/><stop offset="0.566" stop-color="#1db79b"/><stop offset="0.579" stop-color="#17aeb0"/><stop offset="0.585" stop-color="#1390e1"/><stop offset="0.591" stop-color="#1387e5"/><stop offset="0.629" stop-color="#167fe0"/><stop offset="0.648" stop-color="#2057c7"/><stop offset="0.673" stop-color="#323496"/><stop offset="1.000" stop-color="#313799"/></linearGradient><linearGradient id="g145" x1="0" y1="0" x2="0" y2="1"><stop offset="0.000" stop-color="#313699"/><stop offset="0.333" stop-color="#323496"/><stop offset="0.377" stop-color="#2059c8"/><stop offset="0.409" stop-color="#1581e1"/><stop offset="0.440" stop-color="#128de7"/><stop offset="0.472" stop-color="#1394da"/><stop offset="0.478" stop-color="#16a4c1"/><stop offset="0.484" stop-color="#20ba92"/><stop offset="0.503" stop-color="#2dc76e"/><stop offset="0.516" stop-color="#64d46d"/><stop offset="0.528" stop-color="#9fdf78"/><stop offset="0.541" stop-color="#aae07b"/><stop offset="0.547" stop-color="#a9e07b"/><stop offset="0.566" stop-color="#39ca6b"/><stop offset="0.572" stop-color="#29c378"/><stop offset="0.579" stop-color="#26c081"/><stop offset="0.585" stop-color="#17aab6"/><stop offset="0.591" stop-color="#149ad2"/><stop offset="0.623" stop-color="#128be8"/><stop offset="0.629" stop-color="#1388e5"/><stop offset="0.648" stop-color="#2156c6"/><stop offset="0.667" stop-color="#30399d"/><stop offset="0.673" stop-color="#323496"/><stop offset="0.862" stop-color="#2f399e"/><stop offset="1.000" stop-color="#313699"/></linearGradient><linearGradient id="g146" x1="0" y1="0" x2="0" y2="1"><stop offset="0.000" stop-color="#323496"/><stop offset="0.340" stop-color="#323496"/><stop offset="0.390" stop-color="#2157c6"/><stop offset="0.415" stop-color="#1972d8"/><stop offset="0.478" stop-color="#128be7"/><stop offset="0.484" stop-color="#149ad1"/><stop offset="0.491" stop-color="#1ab4a4"/><stop offset="0.516" stop-color="#2bc573"/><stop offset="0.522" stop-color="#38ca6b"/><stop offset="0.535" stop-color="#59d16c"/><stop offset="0.547" stop-color="#67d46d"/><stop offset="0.553" stop-color="#62d36d"/><stop offset="0.566" stop-color="#2dc76e"/><stop offset="0.579" stop-color="#23bd8b"/><stop offset="0.591" stop-color="#1395d9"/><stop offset="0.616" stop-color="#128de7"/><stop offset="0.629" stop-color="#1483e3"/><stop offset="0.648" stop-color="#2157c6"/><stop offset="0.673" stop-color="#323496"/><stop offset="0.824" stop-color="#2d3fa5"/><stop offset="1.000" stop-color="#323496"/></linearGradient><linearGradient id="g147" x1="0" y1="0" x2="0" y2="1"><stop offset="0.000" stop-color="#323496"/><stop offset="0.346" stop-color="#323496"/><stop offset="0.390" stop-color="#1f5ccb"/><stop offset="0.421" stop-color="#1387e5"/><stop offset="0.440" stop-color="#128de7"/><stop offset="0.484" stop-color="#1393dd"/><stop offset="0.491" stop-color="#15a1c5"/><stop offset="0.497" stop-color="#1eb898"/><stop offset="0.535" stop-color="#32c96a"/><stop offset="0.547" stop-color="#44cd6b"/><stop offset="0.553" stop-color="#43cd6b"/><stop offset="0.560" stop-color="#2ec86a"/><stop offset="0.579" stop-color="#1eb89a"/><stop offset="0.591" stop-color="#128ee4"/><stop offset="0.604" stop-color="#128de7"/><stop offset="0.629" stop-color="#167cde"/><stop offset="0.648" stop-color="#2156c5"/><stop offset="0.673" stop-color="#323496"/><stop offset="0.774" stop-color="#2d3ea5"/><stop offset="1.000" stop-color="#323496"/></linearGradient><linearGradient id="g148" x1="0" y1="0" x2="0" y2="1"><stop offset="0.000" stop-color="#323597"/><stop offset="0.346" stop-color="#323496"/><stop offset="0.384" stop-color="#1f5bca"/><stop offset="0.403" stop-color="#1779dc"/><stop offset="0.409" stop-color="#1778dc"/><stop offset="0.421" stop-color="#1389e6"/><stop offset="0.459" stop-color="#1394db"/><stop offset="0.491" stop-color="#1392df"/><stop offset="0.497" stop-color="#15a0c7"/><stop offset="0.503" stop-color="#1cb69d"/><stop offset="0.522" stop-color="#20ba92"/><stop offset="0.553" stop-color="#2cc670"/><stop offset="0.560" stop-color="#2ac474"/><stop offset="0.579" stop-color="#1bb5a1"/><stop offset="0.591" stop-color="#128de6"/><stop offset="0.623" stop-color="#1387e5"/><stop offset="0.629" stop-color="#1580e1"/><stop offset="0.648" stop-color="#2058c8"/><stop offset="0.673" stop-color="#30389c"/><stop offset="0.893" stop-color="#2e3ba0"/><stop offset="1.000" stop-color="#313597"/></linearGradient><linearGradient id="g149" x1="0" y1="0" x2="0" y2="1"><stop offset="0.000" stop-color="#323496"/><stop offset="0.358" stop-color="#323496"/><stop offset="0.396" stop-color="#2156c6"/><stop offset="0.434" stop-color="#128be7"/><stop offset="0.440" stop-color="#128ce8"/><stop offset="0.497" stop-color="#1391e0"/><stop offset="0.503" stop-color="#159fc8"/><stop offset="0.509" stop-color="#1ab4a3"/><stop offset="0.535" stop-color="#20ba94"/><stop offset="0.560" stop-color="#29c37a"/><stop offset="0.579" stop-color="#1ab4a5"/><stop offset="0.591" stop-color="#128fe3"/><stop offset="0.597" stop-color="#128ae7"/><stop offset="0.623" stop-color="#1485e4"/><stop offset="0.629" stop-color="#167ddf"/><stop offset="0.648" stop-color="#2057c7"/><stop offset="0.667" stop-color="#2f3a9f"/><stop offset="1.000" stop-color="#323496"/></linearGradient><clipPath id="dia"><rect x="0" y="0" width="1000" height="1000"/></clipPath></defs>
<g transform="matrix(0.204,0.094,0.188,-0.102,15,189)"><rect x="0" y="0" width="1000" height="1000" fill="#323496"/><g clip-path="url(#dia)"><rect x="0.00" y="0" width="10.67" height="1000" fill="url(#g0)"/><rect x="6.67" y="0" width="10.67" height="1000" fill="url(#g1)"/><rect x="13.33" y="0" width="10.67" height="1000" fill="url(#g2)"/><rect x="20.00" y="0" width="10.67" height="1000" fill="url(#g3)"/><rect x="26.67" y="0" width="10.67" height="1000" fill="url(#g4)"/><rect x="33.33" y="0" width="10.67" height="1000" fill="url(#g5)"/><rect x="40.00" y="0" width="10.67" height="1000" fill="url(#g6)"/><rect x="46.67" y="0" width="10.67" height="1000" fill="url(#g7)"/><rect x="53.33" y="0" width="10.67" height="1000" fill="url(#g8)"/><rect x="60.00" y="0" width="10.67" height="1000" fill="url(#g9)"/><rect x="66.67" y="0" width="10.67" height="1000" fill="url(#g10)"/><rect x="73.33" y="0" width="10.67" height="1000" fill="url(#g11)"/><rect x="80.00" y="0" width="10.67" height="1000" fill="url(#g12)"/><rect x="86.67" y="0" width="10.67" height="1000" fill="url(#g13)"/><rect x="93.33" y="0" width="10.67" height="1000" fill="url(#g14)"/><rect x="100.00" y="0" width="10.67" height="1000" fill="url(#g15)"/><rect x="106.67" y="0" width="10.67" height="1000" fill="url(#g16)"/><rect x="113.33" y="0" width="10.67" height="1000" fill="url(#g17)"/><rect x="120.00" y="0" width="10.67" height="1000" fill="url(#g18)"/><rect x="126.67" y="0" width="10.67" height="1000" fill="url(#g19)"/><rect x="133.33" y="0" width="10.67" height="1000" fill="url(#g20)"/><rect x="140.00" y="0" width="10.67" height="1000" fill="url(#g21)"/><rect x="146.67" y="0" width="10.67" height="1000" fill="url(#g22)"/><rect x="153.33" y="0" width="10.67" height="1000" fill="url(#g23)"/><rect x="160.00" y="0" width="10.67" height="1000" fill="url(#g24)"/><rect x="166.67" y="0" width="10.67" height="1000" fill="url(#g25)"/><rect x="173.33" y="0" width="10.67" height="1000" fill="url(#g26)"/><rect x="180.00" y="0" width="10.67" height="1000" fill="url(#g27)"/><rect x="186.67" y="0" width="10.67" height="1000" fill="url(#g28)"/><rect x="193.33" y="0" width="10.67" height="1000" fill="url(#g29)"/><rect x="200.00" y="0" width="10.67" height="1000" fill="url(#g30)"/><rect x="206.67" y="0" width="10.67" height="1000" fill="url(#g31)"/><rect x="213.33" y="0" width="10.67" height="1000" fill="url(#g32)"/><rect x="220.00" y="0" width="10.67" height="1000" fill="url(#g33)"/><rect x="226.67" y="0" width="10.67" height="1000" fill="url(#g34)"/><rect x="233.33" y="0" width="10.67" height="1000" fill="url(#g35)"/><rect x="240.00" y="0" width="10.67" height="1000" fill="url(#g36)"/><rect x="246.67" y="0" width="10.67" height="1000" fill="url(#g37)"/><rect x="253.33" y="0" width="10.67" height="1000" fill="url(#g38)"/><rect x="260.00" y="0" width="10.67" height="1000" fill="url(#g39)"/><rect x="266.67" y="0" width="10.67" height="1000" fill="url(#g40)"/><rect x="273.33" y="0" width="10.67" height="1000" fill="url(#g41)"/><rect x="280.00" y="0" width="10.67" height="1000" fill="url(#g42)"/><rect x="286.67" y="0" width="10.67" height="1000" fill="url(#g43)"/><rect x="293.33" y="0" width="10.67" height="1000" fill="url(#g44)"/><rect x="300.00" y="0" width="10.67" height="1000" fill="url(#g45)"/><rect x="306.67" y="0" width="10.67" height="1000" fill="url(#g46)"/><rect x="313.33" y="0" width="10.67" height="1000" fill="url(#g47)"/><rect x="320.00" y="0" width="10.67" height="1000" fill="url(#g48)"/><rect x="326.67" y="0" width="10.67" height="1000" fill="url(#g49)"/><rect x="333.33" y="0" width="10.67" height="1000" fill="url(#g50)"/><rect x="340.00" y="0" width="10.67" height="1000" fill="url(#g51)"/><rect x="346.67" y="0" width="10.67" height="1000" fill="url(#g52)"/><rect x="353.33" y="0" width="10.67" height="1000" fill="url(#g53)"/><rect x="360.00" y="0" width="10.67" height="1000" fill="url(#g54)"/><rect x="366.67" y="0" width="10.67" height="1000" fill="url(#g55)"/><rect x="373.33" y="0" width="10.67" height="1000" fill="url(#g56)"/><rect x="380.00" y="0" width="10.67" height="1000" fill="url(#g57)"/><rect x="386.67" y="0" width="10.67" height="1000" fill="url(#g58)"/><rect x="393.33" y="0" width="10.67" height="1000" fill="url(#g59)"/><rect x="400.00" y="0" width="10.67" height="1000" fill="url(#g60)"/><rect x="406.67" y="0" width="10.67" height="1000" fill="url(#g61)"/><rect x="413.33" y="0" width="10.67" height="1000" fill="url(#g62)"/><rect x="420.00" y="0" width="10.67" height="1000" fill="url(#g63)"/><rect x="426.67" y="0" width="10.67" height="1000" fill="url(#g64)"/><rect x="433.33" y="0" width="10.67" height="1000" fill="url(#g65)"/><rect x="440.00" y="0" width="10.67" height="1000" fill="url(#g66)"/><rect x="446.67" y="0" width="10.67" height="1000" fill="url(#g67)"/><rect x="453.33" y="0" width="10.67" height="1000" fill="url(#g68)"/><rect x="460.00" y="0" width="10.67" height="1000" fill="url(#g69)"/><rect x="466.67" y="0" width="10.67" height="1000" fill="url(#g70)"/><rect x="473.33" y="0" width="10.67" height="1000" fill="url(#g71)"/><rect x="480.00" y="0" width="10.67" height="1000" fill="url(#g72)"/><rect x="486.67" y="0" width="10.67" height="1000" fill="url(#g73)"/><rect x="493.33" y="0" width="10.67" height="1000" fill="url(#g74)"/><rect x="500.00" y="0" width="10.67" height="1000" fill="url(#g75)"/><rect x="506.67" y="0" width="10.67" height="1000" fill="url(#g76)"/><rect x="513.33" y="0" width="10.67" height="1000" fill="url(#g77)"/><rect x="520.00" y="0" width="10.67" height="1000" fill="url(#g78)"/><rect x="526.67" y="0" width="10.67" height="1000" fill="url(#g79)"/><rect x="533.33" y="0" width="10.67" height="1000" fill="url(#g80)"/><rect x="540.00" y="0" width="10.67" height="1000" fill="url(#g81)"/><rect x="546.67" y="0" width="10.67" height="1000" fill="url(#g82)"/><rect x="553.33" y="0" width="10.67" height="1000" fill="url(#g83)"/><rect x="560.00" y="0" width="10.67" height="1000" fill="url(#g84)"/><rect x="566.67" y="0" width="10.67" height="1000" fill="url(#g85)"/><rect x="573.33" y="0" width="10.67" height="1000" fill="url(#g86)"/><rect x="580.00" y="0" width="10.67" height="1000" fill="url(#g87)"/><rect x="586.67" y="0" width="10.67" height="1000" fill="url(#g88)"/><rect x="593.33" y="0" width="10.67" height="1000" fill="url(#g89)"/><rect x="600.00" y="0" width="10.67" height="1000" fill="url(#g90)"/><rect x="606.67" y="0" width="10.67" height="1000" fill="url(#g91)"/><rect x="613.33" y="0" width="10.67" height="1000" fill="url(#g92)"/><rect x="620.00" y="0" width="10.67" height="1000" fill="url(#g93)"/><rect x="626.67" y="0" width="10.67" height="1000" fill="url(#g94)"/><rect x="633.33" y="0" width="10.67" height="1000" fill="url(#g95)"/><rect x="640.00" y="0" width="10.67" height="1000" fill="url(#g96)"/><rect x="646.67" y="0" width="10.67" height="1000" fill="url(#g97)"/><rect x="653.33" y="0" width="10.67" height="1000" fill="url(#g98)"/><rect x="660.00" y="0" width="10.67" height="1000" fill="url(#g99)"/><rect x="666.67" y="0" width="10.67" height="1000" fill="url(#g100)"/><rect x="673.33" y="0" width="10.67" height="1000" fill="url(#g101)"/><rect x="680.00" y="0" width="10.67" height="1000" fill="url(#g102)"/><rect x="686.67" y="0" width="10.67" height="1000" fill="url(#g103)"/><rect x="693.33" y="0" width="10.67" height="1000" fill="url(#g104)"/><rect x="700.00" y="0" width="10.67" height="1000" fill="url(#g105)"/><rect x="706.67" y="0" width="10.67" height="1000" fill="url(#g106)"/><rect x="713.33" y="0" width="10.67" height="1000" fill="url(#g107)"/><rect x="720.00" y="0" width="10.67" height="1000" fill="url(#g108)"/><rect x="726.67" y="0" width="10.67" height="1000" fill="url(#g109)"/><rect x="733.33" y="0" width="10.67" height="1000" fill="url(#g110)"/><rect x="740.00" y="0" width="10.67" height="1000" fill="url(#g111)"/><rect x="746.67" y="0" width="10.67" height="1000" fill="url(#g112)"/><rect x="753.33" y="0" width="10.67" height="1000" fill="url(#g113)"/><rect x="760.00" y="0" width="10.67" height="1000" fill="url(#g114)"/><rect x="766.67" y="0" width="10.67" height="1000" fill="url(#g115)"/><rect x="773.33" y="0" width="10.67" height="1000" fill="url(#g116)"/><rect x="780.00" y="0" width="10.67" height="1000" fill="url(#g117)"/><rect x="786.67" y="0" width="10.67" height="1000" fill="url(#g118)"/><rect x="793.33" y="0" width="10.67" height="1000" fill="url(#g119)"/><rect x="800.00" y="0" width="10.67" height="1000" fill="url(#g120)"/><rect x="806.67" y="0" width="10.67" height="1000" fill="url(#g121)"/><rect x="813.33" y="0" width="10.67" height="1000" fill="url(#g122)"/><rect x="820.00" y="0" width="10.67" height="1000" fill="url(#g123)"/><rect x="826.67" y="0" width="10.67" height="1000" fill="url(#g124)"/><rect x="833.33" y="0" width="10.67" height="1000" fill="url(#g125)"/><rect x="840.00" y="0" width="10.67" height="1000" fill="url(#g126)"/><rect x="846.67" y="0" width="10.67" height="1000" fill="url(#g127)"/><rect x="853.33" y="0" width="10.67" height="1000" fill="url(#g128)"/><rect x="860.00" y="0" width="10.67" height="1000" fill="url(#g129)"/><rect x="866.67" y="0" width="10.67" height="1000" fill="url(#g130)"/><rect x="873.33" y="0" width="10.67" height="1000" fill="url(#g131)"/><rect x="880.00" y="0" width="10.67" height="1000" fill="url(#g132)"/><rect x="886.67" y="0" width="10.67" height="1000" fill="url(#g133)"/><rect x="893.33" y="0" width="10.67" height="1000" fill="url(#g134)"/><rect x="900.00" y="0" width="10.67" height="1000" fill="url(#g135)"/><rect x="906.67" y="0" width="10.67" height="1000" fill="url(#g136)"/><rect x="913.33" y="0" width="10.67" height="1000" fill="url(#g137)"/><rect x="920.00" y="0" width="10.67" height="1000" fill="url(#g138)"/><rect x="926.67" y="0" width="10.67" height="1000" fill="url(#g139)"/><rect x="933.33" y="0" width="10.67" height="1000" fill="url(#g140)"/><rect x="940.00" y="0" width="10.67" height="1000" fill="url(#g141)"/><rect x="946.67" y="0" width="10.67" height="1000" fill="url(#g142)"/><rect x="953.33" y="0" width="10.67" height="1000" fill="url(#g143)"/><rect x="960.00" y="0" width="10.67" height="1000" fill="url(#g144)"/><rect x="966.67" y="0" width="10.67" height="1000" fill="url(#g145)"/><rect x="973.33" y="0" width="10.67" height="1000" fill="url(#g146)"/><rect x="980.00" y="0" width="10.67" height="1000" fill="url(#g147)"/><rect x="986.67" y="0" width="10.67" height="1000" fill="url(#g148)"/><rect x="993.33" y="0" width="10.67" height="1000" fill="url(#g149)"/></g></g>
<line x1="15.0" y1="189.0" x2="203.0" y2="87.0" stroke="#1a1a1a" stroke-width="0.7" />
<line x1="203.0" y1="87.0" x2="407.0" y2="181.5" stroke="#1a1a1a" stroke-width="0.7" />
<line x1="15.0" y1="189.0" x2="219.0" y2="283.0" stroke="#000" stroke-width="1.6" />
<line x1="219.0" y1="283.0" x2="407.0" y2="181.5" stroke="#000" stroke-width="1.6" />
<line x1="125.2" y1="239.8" x2="313.2" y2="137.8" stroke="#dca24a" stroke-width="0.6" />
<line x1="121.6" y1="131.2" x2="325.6" y2="225.2" stroke="#dca24a" stroke-width="0.6" />
<line x1="23.6" y1="195.1" x2="23.0" y2="197.3" stroke="#000" stroke-width="1.0" />
<text x="24.9" y="204.2" text-anchor="end" font-size="8.2" fill="#231f20" >−0.06</text>
<line x1="57.3" y1="210.0" x2="56.7" y2="212.2" stroke="#000" stroke-width="1.0" />
<text x="56.2" y="220.5" text-anchor="end" font-size="8.2" fill="#231f20" >−0.04</text>
<line x1="91.0" y1="225.0" x2="90.4" y2="227.2" stroke="#000" stroke-width="1.0" />
<text x="88.3" y="235.8" text-anchor="end" font-size="8.2" fill="#231f20" >−0.02</text>
<line x1="124.7" y1="239.9" x2="124.1" y2="242.1" stroke="#000" stroke-width="1.0" />
<text x="122.0" y="250.8" text-anchor="end" font-size="8.2" fill="#231f20" >0</text>
<line x1="158.4" y1="254.9" x2="157.8" y2="257.1" stroke="#000" stroke-width="1.0" />
<text x="155.3" y="266.4" text-anchor="end" font-size="8.2" fill="#231f20" >0.02</text>
<line x1="192.1" y1="269.8" x2="191.5" y2="272.0" stroke="#000" stroke-width="1.0" />
<text x="188.4" y="281.7" text-anchor="end" font-size="8.2" fill="#231f20" >0.04</text>
<line x1="238.1" y1="273.8" x2="238.7" y2="276.0" stroke="#000" stroke-width="1.0" />
<text x="233.0" y="286.9" text-anchor="start" font-size="8.2" fill="#231f20" >−0.36</text>
<line x1="274.3" y1="254.2" x2="274.9" y2="256.4" stroke="#000" stroke-width="1.0" />
<text x="268.0" y="269.6" text-anchor="start" font-size="8.2" fill="#231f20" >−0.34</text>
<line x1="310.5" y1="234.6" x2="311.1" y2="236.8" stroke="#000" stroke-width="1.0" />
<text x="304.4" y="247.2" text-anchor="start" font-size="8.2" fill="#231f20" >−0.32</text>
<line x1="346.4" y1="215.3" x2="347.0" y2="217.5" stroke="#000" stroke-width="1.0" />
<text x="340.3" y="228.5" text-anchor="start" font-size="8.2" fill="#231f20" >−0.30</text>
<line x1="382.7" y1="195.7" x2="383.3" y2="197.9" stroke="#000" stroke-width="1.0" />
<text x="376.2" y="209.2" text-anchor="start" font-size="8.2" fill="#231f20" >−0.28</text>
<text x="0" y="0" font-size="7" fill="#231f20" transform="translate(80.5,252) rotate(30) skewX(-20)"><tspan font-style="italic">k</tspan><tspan font-size="5" dy="1.5">x</tspan><tspan dy="-1.5"> (Å</tspan><tspan font-size="5" dy="-2.5">−1</tspan><tspan dy="2.5">)</tspan></text>
<text x="0" y="0" font-size="7" fill="#231f20" transform="translate(323,264.5) rotate(-45) skewX(15)"><tspan font-style="italic">k</tspan><tspan font-size="5" dy="1.5">y</tspan><tspan dy="-1.5"> (Å</tspan><tspan font-size="5" dy="-2.5">−1</tspan><tspan dy="2.5">)</tspan></text>
<text x="0" y="0" font-size="7.2" fill="#fff" transform="translate(111.0,145.5) rotate(-32)">−90°</text>
<text x="0" y="0" font-size="7.8" fill="#fff" transform="translate(296.5,155.5) rotate(-40)">+180°</text>
<text x="0" y="0" font-size="7.2" fill="#fff" transform="translate(134.0,244.0) rotate(-48)">0°</text>
<text x="0" y="0" font-size="7.6" fill="#fff" transform="translate(297.8,234.8) rotate(-42)">+90°</text>
<line x1="230.9" y1="181.8" x2="182.2" y2="247.4" stroke="#f0a430" stroke-width="1.3"/>
<path d="M181.2,248.8 L181.9,243.6 M181.2,248.8 L185.6,246.2" stroke="#f0a430" stroke-width="1.3" fill="none" stroke-linecap="round"/>
<path d="M178.2,211.1 Q181,220 195.5,224.2" stroke="#222" stroke-width="0.8" fill="none"/>
<path d="M197.2,224.7 L193.2,221.8 L192.6,225.6 Z" fill="#222"/>
<text x="179.2" y="227.9" font-size="6.8" font-style="italic" fill="#333" font-family="Liberation Serif">θ</text>
<line x1="154.6" y1="219.5" x2="154.6" y2="197.6" stroke="#2a2a2a" stroke-width="0.7" />
<line x1="170.1" y1="221.8" x2="170.1" y2="197.6" stroke="#2a2a2a" stroke-width="0.7" />
<line x1="193.9" y1="220.5" x2="193.9" y2="189.4" stroke="#2a2a2a" stroke-width="0.7" />
<line x1="218.2" y1="218.1" x2="218.2" y2="178.0" stroke="#2a2a2a" stroke-width="0.7" />
<line x1="240.3" y1="211.1" x2="240.3" y2="146.3" stroke="#2a2a2a" stroke-width="0.7" />
<line x1="260.3" y1="207.6" x2="259.9" y2="130.2" stroke="#2a2a2a" stroke-width="0.7" />
<line x1="274.0" y1="205.8" x2="273.7" y2="102.7" stroke="#2a2a2a" stroke-width="0.7" />
<line x1="282.4" y1="200.6" x2="282.2" y2="70.1" stroke="#2a2a2a" stroke-width="0.7" />
<line x1="292.3" y1="197.1" x2="292.3" y2="63.2" stroke="#2a2a2a" stroke-width="0.7" />
<line x1="297.1" y1="194.5" x2="297.1" y2="60.8" stroke="#2a2a2a" stroke-width="0.7" />
<line x1="313.4" y1="184.8" x2="313.2" y2="85.4" stroke="#2a2a2a" stroke-width="0.7" />
<line x1="315.6" y1="181.3" x2="316.4" y2="82.2" stroke="#2a2a2a" stroke-width="0.7" />
<line x1="153.8" y1="206.0" x2="153.8" y2="184.4" stroke="#2a2a2a" stroke-width="0.7" />
<line x1="158.5" y1="190.9" x2="159.0" y2="163.5" stroke="#2a2a2a" stroke-width="0.7" />
<line x1="170.1" y1="174.7" x2="169.8" y2="128.5" stroke="#2a2a2a" stroke-width="0.7" />
<line x1="176.6" y1="168.3" x2="175.8" y2="110.2" stroke="#2a2a2a" stroke-width="0.7" />
<line x1="184.6" y1="164.3" x2="184.6" y2="102.5" stroke="#2a2a2a" stroke-width="0.7" />
<line x1="190.7" y1="158.7" x2="190.1" y2="65.5" stroke="#2a2a2a" stroke-width="0.7" />
<line x1="196.3" y1="153.1" x2="196.6" y2="56.5" stroke="#2a2a2a" stroke-width="0.7" />
<line x1="201.5" y1="150.7" x2="201.4" y2="35.8" stroke="#2a2a2a" stroke-width="0.7" />
<line x1="205.5" y1="144.2" x2="205.4" y2="25.7" stroke="#2a2a2a" stroke-width="0.7" />
<line x1="211.6" y1="137.8" x2="211.0" y2="35.7" stroke="#2a2a2a" stroke-width="0.7" />
<line x1="223.1" y1="130.6" x2="223.1" y2="37.7" stroke="#2a2a2a" stroke-width="0.7" />
<line x1="232.8" y1="126.6" x2="232.4" y2="36.6" stroke="#2a2a2a" stroke-width="0.7" />
<polyline points="154.6,197.6 170.1,197.6 193.9,189.4 218.2,178.0 240.3,146.3 259.9,130.2 273.7,102.7 282.2,70.1 292.3,63.2 297.1,60.8 313.2,85.4 316.4,82.2" fill="none" stroke="#111" stroke-width="0.6" stroke-linejoin="round" stroke-linecap="round" />
<polyline points="154.6,197.6 153.8,184.4 159.0,163.5 169.8,128.5 175.8,110.2 184.6,102.5 190.1,65.5 196.6,56.5 201.4,35.8 205.4,25.7 211.0,35.7 223.1,37.7 232.4,36.6" fill="none" stroke="#111" stroke-width="0.6" stroke-linejoin="round" stroke-linecap="round" />
<rect x="153.5" y="181.6" width="2.1" height="32" fill="#ff1010"/>
<rect x="169.0" y="181.6" width="2.1" height="32" fill="#ff1010"/>
<rect x="192.8" y="173.4" width="2.1" height="32" fill="#ff1010"/>
<rect x="217.1" y="162.0" width="2.1" height="32" fill="#ff1010"/>
<rect x="239.2" y="130.3" width="2.1" height="32" fill="#ff1010"/>
<rect x="258.8" y="114.2" width="2.1" height="32" fill="#ff1010"/>
<rect x="272.6" y="86.7" width="2.1" height="32" fill="#ff1010"/>
<rect x="281.1" y="54.1" width="2.1" height="32" fill="#ff1010"/>
<rect x="291.2" y="47.2" width="2.1" height="32" fill="#ff1010"/>
<rect x="296.1" y="44.8" width="2.1" height="32" fill="#ff1010"/>
<rect x="312.1" y="69.4" width="2.1" height="32" fill="#ff1010"/>
<rect x="315.3" y="66.2" width="2.1" height="32" fill="#ff1010"/>
<rect x="152.8" y="168.4" width="2.1" height="32" fill="#ff1010"/>
<rect x="157.9" y="147.5" width="2.1" height="32" fill="#ff1010"/>
<rect x="168.8" y="112.5" width="2.1" height="32" fill="#ff1010"/>
<rect x="174.8" y="94.2" width="2.1" height="32" fill="#ff1010"/>
<rect x="183.5" y="86.5" width="2.1" height="32" fill="#ff1010"/>
<rect x="189.0" y="49.5" width="2.1" height="32" fill="#ff1010"/>
<rect x="195.5" y="40.5" width="2.1" height="32" fill="#ff1010"/>
<rect x="200.3" y="19.8" width="2.1" height="32" fill="#ff1010"/>
<rect x="204.3" y="9.7" width="2.1" height="32" fill="#ff1010"/>
<rect x="209.9" y="19.7" width="2.1" height="32" fill="#ff1010"/>
<rect x="222.0" y="21.7" width="2.1" height="32" fill="#ff1010"/>
<rect x="231.3" y="20.6" width="2.1" height="32" fill="#ff1010"/>
<ellipse cx="154.6" cy="197.6" rx="3.9" ry="3.3" fill="#000"/>
<ellipse cx="170.1" cy="197.6" rx="3.9" ry="3.3" fill="#000"/>
<ellipse cx="193.9" cy="189.4" rx="3.9" ry="3.3" fill="#000"/>
<ellipse cx="218.2" cy="178.0" rx="3.9" ry="3.3" fill="#000"/>
<ellipse cx="240.3" cy="146.3" rx="3.9" ry="3.3" fill="#000"/>
<ellipse cx="259.9" cy="130.2" rx="3.9" ry="3.3" fill="#000"/>
<ellipse cx="273.7" cy="102.7" rx="3.9" ry="3.3" fill="#000"/>
<ellipse cx="282.2" cy="70.1" rx="3.9" ry="3.3" fill="#000"/>
<ellipse cx="292.3" cy="63.2" rx="3.9" ry="3.3" fill="#000"/>
<ellipse cx="297.1" cy="60.8" rx="3.9" ry="3.3" fill="#000"/>
<ellipse cx="313.2" cy="85.4" rx="3.9" ry="3.3" fill="#000"/>
<ellipse cx="316.4" cy="82.2" rx="3.9" ry="3.3" fill="#000"/>
<ellipse cx="153.8" cy="184.4" rx="3.9" ry="3.3" fill="#000"/>
<ellipse cx="159.0" cy="163.5" rx="3.9" ry="3.3" fill="#000"/>
<ellipse cx="169.8" cy="128.5" rx="3.9" ry="3.3" fill="#000"/>
<ellipse cx="175.8" cy="110.2" rx="3.9" ry="3.3" fill="#000"/>
<ellipse cx="184.6" cy="102.5" rx="3.9" ry="3.3" fill="#000"/>
<ellipse cx="190.1" cy="65.5" rx="3.9" ry="3.3" fill="#000"/>
<ellipse cx="196.6" cy="56.5" rx="3.9" ry="3.3" fill="#000"/>
<ellipse cx="201.4" cy="35.8" rx="3.9" ry="3.3" fill="#000"/>
<ellipse cx="205.4" cy="25.7" rx="3.9" ry="3.3" fill="#000"/>
<ellipse cx="211.0" cy="35.7" rx="3.9" ry="3.3" fill="#000"/>
<ellipse cx="223.1" cy="37.7" rx="3.9" ry="3.3" fill="#000"/>
<ellipse cx="232.4" cy="36.6" rx="3.9" ry="3.3" fill="#000"/>
</svg></body></html>
